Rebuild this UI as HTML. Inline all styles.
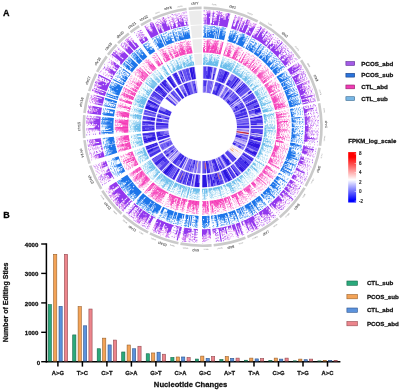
<!DOCTYPE html>
<html lang="en"><head><meta charset="utf-8"><title>Figure</title><style>html,body{margin:0;padding:0;background:#fff}svg{display:block}</style></head><body>
<svg width="400" height="391" viewBox="0 0 400 391" font-family="'Liberation Sans', Arial, sans-serif">
<rect width="400" height="391" fill="#fff"/>
<defs><filter id="bl" x="-5%" y="-5%" width="110%" height="110%"><feGaussianBlur stdDeviation=".35"/></filter></defs><g filter="url(#bl)">
<path d="M203.6 6.6A120.2 120.2 0 0 1 258.3 20.3L257.1 22.6A117.6 117.6 0 0 0 203.6 9.2ZM260.1 21.3A120.2 120.2 0 0 1 301 57.7L298.9 59.2A117.6 117.6 0 0 0 258.9 23.5ZM302.2 59.5A120.2 120.2 0 0 1 320 100.8L317.4 101.4A117.6 117.6 0 0 0 300 60.9ZM320.4 102.9A120.2 120.2 0 0 1 321.3 146L318.7 145.6A117.6 117.6 0 0 0 317.8 103.4ZM320.9 148.1A120.2 120.2 0 0 1 306.7 186.8L304.5 185.5A117.6 117.6 0 0 0 318.3 147.6ZM305.7 188.6A120.2 120.2 0 0 1 280.6 218.3L278.9 216.3A117.6 117.6 0 0 0 303.4 187.3ZM279 219.6A120.2 120.2 0 0 1 247.9 238.2L246.9 235.7A117.6 117.6 0 0 0 277.3 217.6ZM245.9 238.9A120.2 120.2 0 0 1 213.8 246.5L213.5 243.9A117.6 117.6 0 0 0 245 236.5ZM211.7 246.7A120.2 120.2 0 0 1 180.2 244.9L180.7 242.3A117.6 117.6 0 0 0 211.5 244.1ZM178.2 244.5A120.2 120.2 0 0 1 149.4 234.6L150.5 232.2A117.6 117.6 0 0 0 178.7 241.9ZM147.5 233.6A120.2 120.2 0 0 1 122.2 216.2L123.9 214.2A117.6 117.6 0 0 0 148.7 231.3ZM120.7 214.7A120.2 120.2 0 0 1 101.2 191.4L103.4 190A117.6 117.6 0 0 0 122.4 212.8ZM100.1 189.6A120.2 120.2 0 0 1 89 166.1L91.5 165.2A117.6 117.6 0 0 0 102.4 188.3ZM88.3 164.1A120.2 120.2 0 0 1 83.2 140.3L85.7 140A117.6 117.6 0 0 0 90.8 163.3ZM82.9 138.2A120.2 120.2 0 0 1 83 114.9L85.6 115.2A117.6 117.6 0 0 0 85.5 137.9ZM83.2 112.8A120.2 120.2 0 0 1 87.3 92.7L89.8 93.4A117.6 117.6 0 0 0 85.8 113.2ZM88 90.7A120.2 120.2 0 0 1 95.1 73.1L97.4 74.2A117.6 117.6 0 0 0 90.4 91.4ZM96 71.2A120.2 120.2 0 0 1 105.7 55.6L107.8 57.2A117.6 117.6 0 0 0 98.3 72.4ZM107 54A120.2 120.2 0 0 1 115.7 43.8L117.5 45.6A117.6 117.6 0 0 0 109 55.5ZM117.1 42.3A120.2 120.2 0 0 1 128.1 32.5L129.7 34.5A117.6 117.6 0 0 0 119 44.1ZM129.7 31.2A120.2 120.2 0 0 1 138.5 25.1L139.9 27.3A117.6 117.6 0 0 0 131.3 33.3ZM140.3 24A120.2 120.2 0 0 1 150.5 18.5L151.6 20.8A117.6 117.6 0 0 0 141.6 26.2ZM152.4 17.6A120.2 120.2 0 0 1 186.4 7.7L186.8 10.3A117.6 117.6 0 0 0 153.5 20ZM188.5 7.4A120.2 120.2 0 0 1 201.6 6.6L201.6 9.2A117.6 117.6 0 0 0 188.8 10Z" fill="#cacaca"/>
<path d="M203.6 10.4A116.4 116.4 0 0 1 230.2 13.7L226.9 27.3A102.4 102.4 0 0 0 203.5 24.4ZM235 15A116.4 116.4 0 0 1 256.5 23.6L250 36A102.4 102.4 0 0 0 231.1 28.4Z" fill="#cf74ee" opacity="0.07"/>
<path d="M258.3 24.6A116.4 116.4 0 0 1 274.9 35.6L266.2 46.5A102.4 102.4 0 0 0 251.6 36.9ZM275.9 36.4A116.4 116.4 0 0 1 297.9 59.9L286.4 68A102.4 102.4 0 0 0 267.1 47.3Z" fill="#cf74ee" opacity="0.04"/>
<path d="M299 61.6A116.4 116.4 0 0 1 308.8 79.1L296 84.8A102.4 102.4 0 0 0 287.4 69.4ZM309 79.7A116.4 116.4 0 0 1 316.2 101.6L302.6 104.7A102.4 102.4 0 0 0 296.2 85.4Z" fill="#cf74ee" opacity="0.04"/>
<path d="M316.7 103.6A116.4 116.4 0 0 1 318.3 114.4L304.4 115.9A102.4 102.4 0 0 0 302.9 106.4ZM318.4 115A116.4 116.4 0 0 1 317.5 145.4L303.7 143.2A102.4 102.4 0 0 0 304.5 116.4Z" fill="#cf74ee" opacity="0.03"/>
<path d="M317.2 147.4A116.4 116.4 0 0 1 314.9 157.4L301.4 153.8A102.4 102.4 0 0 0 303.4 144.9ZM314.7 158.2A116.4 116.4 0 0 1 303.4 184.9L291.3 177.9A102.4 102.4 0 0 0 301.2 154.4Z" fill="#cf74ee" opacity="0.03"/>
<path d="M302.4 186.7A116.4 116.4 0 0 1 295.2 197.4L284 188.9A102.4 102.4 0 0 0 290.4 179.5ZM294.7 198A116.4 116.4 0 0 1 278.1 215.4L269 204.7A102.4 102.4 0 0 0 283.6 189.4Z" fill="#cf74ee" opacity="0.04"/>
<path d="M276.6 216.7A116.4 116.4 0 0 1 266.2 224.3L258.6 212.5A102.4 102.4 0 0 0 267.7 205.9ZM265.4 224.8A116.4 116.4 0 0 1 246.4 234.6L241.2 221.7A102.4 102.4 0 0 0 257.9 213Z" fill="#cf74ee" opacity="0.04"/>
<path d="M244.5 235.4A116.4 116.4 0 0 1 235.3 238.5L231.4 225.1A102.4 102.4 0 0 0 239.5 222.3ZM234.8 238.7A116.4 116.4 0 0 1 213.4 242.7L212.1 228.8A102.4 102.4 0 0 0 230.9 225.2Z" fill="#cf74ee" opacity="0.04"/>
<path d="M211.4 242.9A116.4 116.4 0 0 1 201.9 243.2L202 229.2A102.4 102.4 0 0 0 210.3 228.9ZM197.3 243.1A116.4 116.4 0 0 1 180.9 241.2L183.5 227.4A102.4 102.4 0 0 0 197.9 229.1Z" fill="#cf74ee" opacity="0.05"/>
<path d="M178.9 240.8A116.4 116.4 0 0 1 170.5 238.7L174.3 225.2A102.4 102.4 0 0 0 181.8 227.1ZM169.8 238.5A116.4 116.4 0 0 1 151.1 231.2L157.3 218.6A102.4 102.4 0 0 0 173.8 225.1Z" fill="#cf74ee" opacity="0.05"/>
<path d="M149.2 230.3A116.4 116.4 0 0 1 139.5 224.6L147.1 212.8A102.4 102.4 0 0 0 155.7 217.8ZM138.8 224.1A116.4 116.4 0 0 1 124.7 213.3L134.1 202.9A102.4 102.4 0 0 0 146.4 212.4Z" fill="#cf74ee" opacity="0.06"/>
<path d="M123.2 212A116.4 116.4 0 0 1 117.8 206.5L128 197A102.4 102.4 0 0 0 132.8 201.7ZM117.4 206.1A116.4 116.4 0 0 1 104.5 189.4L116.3 181.8A102.4 102.4 0 0 0 127.6 196.6Z" fill="#cf74ee" opacity="0.06"/>
<path d="M102.2 185.8A116.4 116.4 0 0 1 92.6 164.8L105.8 160.3A102.4 102.4 0 0 0 114.3 178.7Z" fill="#cf74ee" opacity="0.03"/>
<path d="M91.3 160.8A116.4 116.4 0 0 1 86.9 139.8L100.8 138.3A102.4 102.4 0 0 0 104.7 156.7Z" fill="#cf74ee" opacity="0.06"/>
<path d="M86.5 135.4A116.4 116.4 0 0 1 86.8 115.3L100.7 116.7A102.4 102.4 0 0 0 100.5 134.4Z" fill="#cf74ee" opacity="0.06"/>
<path d="M87 113.3A116.4 116.4 0 0 1 88.2 105.4L101.9 108A102.4 102.4 0 0 0 100.9 114.9ZM88.6 103.1A116.4 116.4 0 0 1 91 93.8L104.4 97.7A102.4 102.4 0 0 0 102.3 106Z" fill="#cf74ee" opacity="0.06"/>
<path d="M91.6 91.8A116.4 116.4 0 0 1 93.2 87.1L106.4 91.8A102.4 102.4 0 0 0 104.9 96ZM93.6 86.1A116.4 116.4 0 0 1 98.5 74.8L111 81A102.4 102.4 0 0 0 106.7 91Z" fill="#cf74ee" opacity="0.07"/>
<path d="M99.4 73A116.4 116.4 0 0 1 101 70L113.2 76.8A102.4 102.4 0 0 0 111.8 79.4ZM101.6 68.9A116.4 116.4 0 0 1 108.8 57.9L120.1 66.2A102.4 102.4 0 0 0 113.8 75.9Z" fill="#cf74ee" opacity="0.04"/>
<path d="M110 56.3A116.4 116.4 0 0 1 113.4 52L124.1 61A102.4 102.4 0 0 0 121.1 64.8ZM113.8 51.5A116.4 116.4 0 0 1 118.4 46.4L128.5 56.1A102.4 102.4 0 0 0 124.5 60.6Z" fill="#cf74ee" opacity="0.07"/>
<path d="M119.8 45A116.4 116.4 0 0 1 124 40.9L133.5 51.2A102.4 102.4 0 0 0 129.8 54.8ZM124.7 40.3A116.4 116.4 0 0 1 130.4 35.5L139.1 46.5A102.4 102.4 0 0 0 134.1 50.7Z" fill="#cf74ee" opacity="0.06"/>
<path d="M133.5 33.2A116.4 116.4 0 0 1 140.5 28.3L148 40.2A102.4 102.4 0 0 0 141.8 44.4Z" fill="#cf74ee" opacity="0.04"/>
<path d="M144 26.3A116.4 116.4 0 0 1 152.1 21.9L158.2 34.5A102.4 102.4 0 0 0 151 38.3Z" fill="#cf74ee" opacity="0.06"/>
<path d="M154 21.1A116.4 116.4 0 0 1 165.9 16.3L170.3 29.6A102.4 102.4 0 0 0 159.8 33.8ZM166.7 16.1A116.4 116.4 0 0 1 187 11.5L188.8 25.3A102.4 102.4 0 0 0 171 29.4Z" fill="#cf74ee" opacity="0.05"/>
<path d="M203.5 25.2A101.6 101.6 0 0 1 226.7 28.1L223.8 40.1A89.2 89.2 0 0 0 203.4 37.6ZM230.9 29.2A101.6 101.6 0 0 1 249.6 36.8L243.9 47.7A89.2 89.2 0 0 0 227.4 41.1Z" fill="#4a9af4" opacity="0.07"/>
<path d="M251.2 37.6A101.6 101.6 0 0 1 265.7 47.2L258 56.9A89.2 89.2 0 0 0 245.3 48.5ZM266.6 47.9A101.6 101.6 0 0 1 285.8 68.4L275.6 75.6A89.2 89.2 0 0 0 258.8 57.5Z" fill="#4a9af4" opacity="0.04"/>
<path d="M286.8 69.9A101.6 101.6 0 0 1 295.3 85.1L284 90.2A89.2 89.2 0 0 0 276.5 76.8ZM295.5 85.7A101.6 101.6 0 0 1 301.8 104.8L289.7 107.5A89.2 89.2 0 0 0 284.2 90.7Z" fill="#4a9af4" opacity="0.04"/>
<path d="M302.2 106.6A101.6 101.6 0 0 1 303.6 116L291.3 117.3A89.2 89.2 0 0 0 290 109ZM303.7 116.5A101.6 101.6 0 0 1 302.9 143.1L290.7 141.1A89.2 89.2 0 0 0 291.3 117.7Z" fill="#4a9af4" opacity="0.03"/>
<path d="M302.6 144.8A101.6 101.6 0 0 1 300.6 153.5L288.7 150.3A89.2 89.2 0 0 0 290.4 142.6ZM300.4 154.2A101.6 101.6 0 0 1 290.6 177.5L279.9 171.3A89.2 89.2 0 0 0 288.5 150.9Z" fill="#4a9af4" opacity="0.03"/>
<path d="M289.7 179.1A101.6 101.6 0 0 1 283.4 188.4L273.5 180.9A89.2 89.2 0 0 0 279.1 172.7ZM283 188.9A101.6 101.6 0 0 1 268.5 204.1L260.5 194.7A89.2 89.2 0 0 0 273.2 181.4Z" fill="#4a9af4" opacity="0.04"/>
<path d="M267.2 205.2A101.6 101.6 0 0 1 258.2 211.9L251.4 201.5A89.2 89.2 0 0 0 259.3 195.7ZM257.4 212.3A101.6 101.6 0 0 1 240.9 220.9L236.2 209.4A89.2 89.2 0 0 0 250.7 201.9Z" fill="#4a9af4" opacity="0.04"/>
<path d="M239.2 221.6A101.6 101.6 0 0 1 231.2 224.3L227.7 212.4A89.2 89.2 0 0 0 234.7 210ZM230.7 224.4A101.6 101.6 0 0 1 212 228L210.9 215.6A89.2 89.2 0 0 0 227.3 212.5Z" fill="#4a9af4" opacity="0.04"/>
<path d="M210.3 228.1A101.6 101.6 0 0 1 202 228.4L202.1 216A89.2 89.2 0 0 0 209.3 215.7ZM197.9 228.3A101.6 101.6 0 0 1 183.7 226.6L186 214.4A89.2 89.2 0 0 0 198.5 215.9Z" fill="#4a9af4" opacity="0.05"/>
<path d="M182 226.3A101.6 101.6 0 0 1 174.6 224.5L178 212.5A89.2 89.2 0 0 0 184.5 214.1ZM174 224.3A101.6 101.6 0 0 1 157.6 217.9L163.1 206.8A89.2 89.2 0 0 0 177.5 212.4Z" fill="#4a9af4" opacity="0.05"/>
<path d="M156 217.1A101.6 101.6 0 0 1 147.5 212.2L154.2 201.8A89.2 89.2 0 0 0 161.7 206.1ZM146.9 211.8A101.6 101.6 0 0 1 134.6 202.3L142.9 193.1A89.2 89.2 0 0 0 153.7 201.4Z" fill="#4a9af4" opacity="0.06"/>
<path d="M133.3 201.1A101.6 101.6 0 0 1 128.6 196.4L137.6 187.9A89.2 89.2 0 0 0 141.8 192.1ZM128.2 196A101.6 101.6 0 0 1 116.9 181.4L127.4 174.8A89.2 89.2 0 0 0 137.3 187.6Z" fill="#4a9af4" opacity="0.06"/>
<path d="M115 178.3A101.6 101.6 0 0 1 106.6 160L118.3 156A89.2 89.2 0 0 0 125.7 172Z" fill="#4a9af4" opacity="0.03"/>
<path d="M105.4 156.5A101.6 101.6 0 0 1 101.6 138.2L114 136.8A89.2 89.2 0 0 0 117.3 152.9Z" fill="#4a9af4" opacity="0.06"/>
<path d="M101.3 134.3A101.6 101.6 0 0 1 101.5 116.8L113.8 118A89.2 89.2 0 0 0 113.6 133.4Z" fill="#4a9af4" opacity="0.06"/>
<path d="M101.7 115A101.6 101.6 0 0 1 102.7 108.1L114.9 110.4A89.2 89.2 0 0 0 114 116.4ZM103.1 106.2A101.6 101.6 0 0 1 105.2 98L117.1 101.5A89.2 89.2 0 0 0 115.3 108.7Z" fill="#4a9af4" opacity="0.06"/>
<path d="M105.7 96.3A101.6 101.6 0 0 1 107.1 92.1L118.8 96.3A89.2 89.2 0 0 0 117.5 100ZM107.4 91.2A101.6 101.6 0 0 1 111.7 81.4L122.8 86.9A89.2 89.2 0 0 0 119 95.6Z" fill="#4a9af4" opacity="0.07"/>
<path d="M112.5 79.8A101.6 101.6 0 0 1 113.9 77.2L124.8 83.2A89.2 89.2 0 0 0 123.5 85.5ZM114.5 76.3A101.6 101.6 0 0 1 120.7 66.7L130.7 74A89.2 89.2 0 0 0 125.2 82.4Z" fill="#4a9af4" opacity="0.04"/>
<path d="M121.8 65.2A101.6 101.6 0 0 1 124.7 61.5L134.2 69.5A89.2 89.2 0 0 0 131.6 72.7ZM125.1 61.1A101.6 101.6 0 0 1 129.1 56.6L138.1 65.2A89.2 89.2 0 0 0 134.6 69.1Z" fill="#4a9af4" opacity="0.07"/>
<path d="M130.4 55.4A101.6 101.6 0 0 1 134 51.8L142.4 61A89.2 89.2 0 0 0 139.2 64.1ZM134.6 51.3A101.6 101.6 0 0 1 139.6 47.1L147.3 56.8A89.2 89.2 0 0 0 142.9 60.5Z" fill="#4a9af4" opacity="0.06"/>
<path d="M142.2 45.1A101.6 101.6 0 0 1 148.4 40.9L155 51.3A89.2 89.2 0 0 0 149.6 55Z" fill="#4a9af4" opacity="0.04"/>
<path d="M151.4 39A101.6 101.6 0 0 1 158.5 35.3L163.9 46.4A89.2 89.2 0 0 0 157.7 49.7Z" fill="#4a9af4" opacity="0.06"/>
<path d="M160.1 34.5A101.6 101.6 0 0 1 170.5 30.4L174.5 42.2A89.2 89.2 0 0 0 165.3 45.8ZM171.3 30.1A101.6 101.6 0 0 1 188.9 26.1L190.6 38.4A89.2 89.2 0 0 0 175.1 41.9Z" fill="#4a9af4" opacity="0.05"/>
<path d="M203.4 39A87.8 87.8 0 0 1 223.4 41.5L220.2 54.5A74.4 74.4 0 0 0 203.2 52.4ZM227 42.5A87.8 87.8 0 0 1 243.3 49L237.1 60.9A74.4 74.4 0 0 0 223.3 55.3Z" fill="#f764ca" opacity="0.07"/>
<path d="M244.6 49.7A87.8 87.8 0 0 1 257.1 58L248.8 68.5A74.4 74.4 0 0 0 238.2 61.5ZM257.9 58.6A87.8 87.8 0 0 1 274.5 76.4L263.5 84.1A74.4 74.4 0 0 0 249.5 69Z" fill="#f764ca" opacity="0.04"/>
<path d="M275.3 77.6A87.8 87.8 0 0 1 282.7 90.8L270.5 96.3A74.4 74.4 0 0 0 264.2 85.1ZM282.9 91.3A87.8 87.8 0 0 1 288.3 107.8L275.2 110.7A74.4 74.4 0 0 0 270.6 96.7Z" fill="#f764ca" opacity="0.04"/>
<path d="M288.6 109.3A87.8 87.8 0 0 1 289.9 117.5L276.6 118.9A74.4 74.4 0 0 0 275.5 112ZM289.9 117.9A87.8 87.8 0 0 1 289.3 140.8L276 138.7A74.4 74.4 0 0 0 276.6 119.2Z" fill="#f764ca" opacity="0.03"/>
<path d="M289 142.4A87.8 87.8 0 0 1 287.3 149.9L274.4 146.4A74.4 74.4 0 0 0 275.8 140ZM287.1 150.5A87.8 87.8 0 0 1 278.7 170.6L267.1 164A74.4 74.4 0 0 0 274.2 146.9Z" fill="#f764ca" opacity="0.03"/>
<path d="M277.9 172A87.8 87.8 0 0 1 272.4 180L261.8 171.9A74.4 74.4 0 0 0 266.4 165.1ZM272.1 180.5A87.8 87.8 0 0 1 259.6 193.6L250.9 183.4A74.4 74.4 0 0 0 261.5 172.3Z" fill="#f764ca" opacity="0.04"/>
<path d="M258.4 194.6A87.8 87.8 0 0 1 250.6 200.3L243.3 189.1A74.4 74.4 0 0 0 249.9 184.2ZM250 200.7A87.8 87.8 0 0 1 235.7 208.1L230.6 195.7A74.4 74.4 0 0 0 242.7 189.4Z" fill="#f764ca" opacity="0.04"/>
<path d="M234.2 208.7A87.8 87.8 0 0 1 227.3 211.1L223.5 198.2A74.4 74.4 0 0 0 229.4 196.2ZM226.9 211.2A87.8 87.8 0 0 1 210.8 214.2L209.5 200.9A74.4 74.4 0 0 0 223.2 198.3Z" fill="#f764ca" opacity="0.04"/>
<path d="M209.2 214.3A87.8 87.8 0 0 1 202.1 214.6L202.1 201.2A74.4 74.4 0 0 0 208.2 201ZM198.6 214.5A87.8 87.8 0 0 1 186.3 213.1L188.8 199.9A74.4 74.4 0 0 0 199.2 201.1Z" fill="#f764ca" opacity="0.05"/>
<path d="M184.8 212.8A87.8 87.8 0 0 1 178.4 211.2L182.1 198.3A74.4 74.4 0 0 0 187.5 199.6ZM177.9 211A87.8 87.8 0 0 1 163.7 205.5L169.7 193.5A74.4 74.4 0 0 0 181.7 198.2Z" fill="#f764ca" opacity="0.05"/>
<path d="M162.4 204.8A87.8 87.8 0 0 1 155 200.6L162.3 189.3A74.4 74.4 0 0 0 168.5 192.9ZM154.4 200.2A87.8 87.8 0 0 1 143.9 192.1L152.8 182.1A74.4 74.4 0 0 0 161.8 189Z" fill="#f764ca" opacity="0.06"/>
<path d="M142.7 191A87.8 87.8 0 0 1 138.6 187L148.4 177.8A74.4 74.4 0 0 0 151.9 181.2ZM138.3 186.6A87.8 87.8 0 0 1 128.6 174L139.9 166.8A74.4 74.4 0 0 0 148.1 177.5Z" fill="#f764ca" opacity="0.06"/>
<path d="M126.9 171.3A87.8 87.8 0 0 1 119.6 155.5L132.3 151.1A74.4 74.4 0 0 0 138.4 164.5Z" fill="#f764ca" opacity="0.03"/>
<path d="M118.6 152.5A87.8 87.8 0 0 1 115.4 136.6L128.7 135.1A74.4 74.4 0 0 0 131.4 148.5Z" fill="#f764ca" opacity="0.06"/>
<path d="M115 133.3A87.8 87.8 0 0 1 115.2 118.1L128.6 119.5A74.4 74.4 0 0 0 128.4 132.3Z" fill="#f764ca" opacity="0.06"/>
<path d="M115.4 116.6A87.8 87.8 0 0 1 116.3 110.7L129.5 113.1A74.4 74.4 0 0 0 128.7 118.2ZM116.6 109A87.8 87.8 0 0 1 118.4 101.9L131.3 105.7A74.4 74.4 0 0 0 129.8 111.7Z" fill="#f764ca" opacity="0.06"/>
<path d="M118.9 100.4A87.8 87.8 0 0 1 120.1 96.8L132.7 101.4A74.4 74.4 0 0 0 131.6 104.4ZM120.4 96.1A87.8 87.8 0 0 1 124.1 87.6L136 93.5A74.4 74.4 0 0 0 132.9 100.8Z" fill="#f764ca" opacity="0.07"/>
<path d="M124.8 86.2A87.8 87.8 0 0 1 126 83.9L137.7 90.5A74.4 74.4 0 0 0 136.6 92.4ZM126.4 83.1A87.8 87.8 0 0 1 131.8 74.8L142.6 82.8A74.4 74.4 0 0 0 138.1 89.8Z" fill="#f764ca" opacity="0.04"/>
<path d="M132.8 73.6A87.8 87.8 0 0 1 135.3 70.4L145.6 79A74.4 74.4 0 0 0 143.4 81.7ZM135.6 70A87.8 87.8 0 0 1 139.1 66.2L148.8 75.4A74.4 74.4 0 0 0 145.8 78.7Z" fill="#f764ca" opacity="0.07"/>
<path d="M140.2 65.1A87.8 87.8 0 0 1 143.3 62L152.4 71.9A74.4 74.4 0 0 0 149.7 74.5ZM143.8 61.6A87.8 87.8 0 0 1 148.2 57.9L156.5 68.4A74.4 74.4 0 0 0 152.8 71.5Z" fill="#f764ca" opacity="0.06"/>
<path d="M150.4 56.2A87.8 87.8 0 0 1 155.8 52.5L162.9 63.9A74.4 74.4 0 0 0 158.4 66.9Z" fill="#f764ca" opacity="0.04"/>
<path d="M158.4 51A87.8 87.8 0 0 1 164.5 47.7L170.3 59.8A74.4 74.4 0 0 0 165.1 62.5Z" fill="#f764ca" opacity="0.06"/>
<path d="M165.9 47A87.8 87.8 0 0 1 174.9 43.5L179.1 56.2A74.4 74.4 0 0 0 171.5 59.2ZM175.5 43.3A87.8 87.8 0 0 1 190.8 39.8L192.6 53.1A74.4 74.4 0 0 0 179.7 56Z" fill="#f764ca" opacity="0.05"/>
<path d="M203.2 53.6A73.2 73.2 0 0 1 220 55.7L217.3 66.6A62 62 0 0 0 203.1 64.8ZM223 56.5A73.2 73.2 0 0 1 236.5 61.9L231.3 71.8A62 62 0 0 0 219.9 67.3Z" fill="#88ccef" opacity="0.07"/>
<path d="M237.6 62.5A73.2 73.2 0 0 1 248 69.4L241.1 78.2A62 62 0 0 0 232.3 72.4ZM248.7 69.9A73.2 73.2 0 0 1 262.5 84.7L253.3 91.2A62 62 0 0 0 241.6 78.6Z" fill="#88ccef" opacity="0.04"/>
<path d="M263.2 85.8A73.2 73.2 0 0 1 269.4 96.8L259.1 101.4A62 62 0 0 0 254 92.1ZM269.5 97.2A73.2 73.2 0 0 1 274.1 111L263.1 113.4A62 62 0 0 0 259.3 101.7Z" fill="#88ccef" opacity="0.04"/>
<path d="M274.3 112.2A73.2 73.2 0 0 1 275.4 119L264.2 120.2A62 62 0 0 0 263.4 114.5ZM275.4 119.4A73.2 73.2 0 0 1 274.9 138.5L263.8 136.7A62 62 0 0 0 264.3 120.5Z" fill="#88ccef" opacity="0.03"/>
<path d="M274.6 139.8A73.2 73.2 0 0 1 273.2 146.1L262.4 143.1A62 62 0 0 0 263.6 137.8ZM273.1 146.5A73.2 73.2 0 0 1 266 163.4L256.3 157.8A62 62 0 0 0 262.3 143.5Z" fill="#88ccef" opacity="0.03"/>
<path d="M265.4 164.5A73.2 73.2 0 0 1 260.8 171.2L251.9 164.4A62 62 0 0 0 255.8 158.7ZM260.5 171.6A73.2 73.2 0 0 1 250.1 182.5L242.8 174A62 62 0 0 0 251.7 164.7Z" fill="#88ccef" opacity="0.04"/>
<path d="M249.1 183.3A73.2 73.2 0 0 1 242.6 188.1L236.5 178.7A62 62 0 0 0 242 174.7ZM242.1 188.4A73.2 73.2 0 0 1 230.2 194.6L225.9 184.2A62 62 0 0 0 236.1 179Z" fill="#88ccef" opacity="0.04"/>
<path d="M229 195.1A73.2 73.2 0 0 1 223.2 197L220 186.3A62 62 0 0 0 224.9 184.6ZM222.9 197.1A73.2 73.2 0 0 1 209.4 199.7L208.4 188.5A62 62 0 0 0 219.8 186.4Z" fill="#88ccef" opacity="0.04"/>
<path d="M208.1 199.8A73.2 73.2 0 0 1 202.2 200L202.2 188.8A62 62 0 0 0 207.3 188.6ZM199.2 199.9A73.2 73.2 0 0 1 189 198.7L191.1 187.7A62 62 0 0 0 199.8 188.7Z" fill="#88ccef" opacity="0.05"/>
<path d="M187.7 198.5A73.2 73.2 0 0 1 182.4 197.2L185.5 186.4A62 62 0 0 0 190 187.5ZM182 197A73.2 73.2 0 0 1 170.2 192.4L175.1 182.4A62 62 0 0 0 185.1 186.3Z" fill="#88ccef" opacity="0.05"/>
<path d="M169 191.9A73.2 73.2 0 0 1 162.9 188.3L169 178.9A62 62 0 0 0 174.2 181.9ZM162.4 188A73.2 73.2 0 0 1 153.6 181.2L161.1 172.9A62 62 0 0 0 168.6 178.6Z" fill="#88ccef" opacity="0.06"/>
<path d="M152.7 180.4A73.2 73.2 0 0 1 149.3 177L157.4 169.3A62 62 0 0 0 160.3 172.2ZM149 176.7A73.2 73.2 0 0 1 140.9 166.2L150.3 160.1A62 62 0 0 0 157.2 169Z" fill="#88ccef" opacity="0.06"/>
<path d="M139.5 163.9A73.2 73.2 0 0 1 133.4 150.7L144 147.1A62 62 0 0 0 149.1 158.2Z" fill="#88ccef" opacity="0.03"/>
<path d="M132.6 148.2A73.2 73.2 0 0 1 129.9 135L141 133.7A62 62 0 0 0 143.3 144.9Z" fill="#88ccef" opacity="0.06"/>
<path d="M129.6 132.2A73.2 73.2 0 0 1 129.8 119.6L140.9 120.7A62 62 0 0 0 140.8 131.4Z" fill="#88ccef" opacity="0.06"/>
<path d="M129.9 118.3A73.2 73.2 0 0 1 130.6 113.4L141.7 115.4A62 62 0 0 0 141 119.6ZM130.9 111.9A73.2 73.2 0 0 1 132.4 106L143.2 109.2A62 62 0 0 0 141.9 114.2Z" fill="#88ccef" opacity="0.06"/>
<path d="M132.8 104.8A73.2 73.2 0 0 1 133.8 101.8L144.3 105.6A62 62 0 0 0 143.5 108.2ZM134 101.2A73.2 73.2 0 0 1 137.1 94.1L147.1 99.1A62 62 0 0 0 144.5 105.1Z" fill="#88ccef" opacity="0.07"/>
<path d="M137.7 92.9A73.2 73.2 0 0 1 138.7 91.1L148.5 96.5A62 62 0 0 0 147.6 98.1ZM139.1 90.4A73.2 73.2 0 0 1 143.6 83.5L152.6 90.1A62 62 0 0 0 148.8 96Z" fill="#88ccef" opacity="0.04"/>
<path d="M144.4 82.4A73.2 73.2 0 0 1 146.5 79.8L155.1 87A62 62 0 0 0 153.3 89.2ZM146.8 79.5A73.2 73.2 0 0 1 149.7 76.3L157.8 84A62 62 0 0 0 155.3 86.7Z" fill="#88ccef" opacity="0.07"/>
<path d="M150.5 75.3A73.2 73.2 0 0 1 153.2 72.8L160.8 81.1A62 62 0 0 0 158.5 83.2ZM153.6 72.4A73.2 73.2 0 0 1 157.2 69.4L164.2 78.2A62 62 0 0 0 161.1 80.7Z" fill="#88ccef" opacity="0.06"/>
<path d="M159.1 67.9A73.2 73.2 0 0 1 163.6 64.9L169.5 74.4A62 62 0 0 0 165.8 76.9Z" fill="#88ccef" opacity="0.04"/>
<path d="M165.7 63.6A73.2 73.2 0 0 1 170.9 60.8L175.7 70.9A62 62 0 0 0 171.4 73.2Z" fill="#88ccef" opacity="0.06"/>
<path d="M172 60.3A73.2 73.2 0 0 1 179.5 57.3L183 68A62 62 0 0 0 176.7 70.5ZM180 57.2A73.2 73.2 0 0 1 192.8 54.3L194.3 65.4A62 62 0 0 0 183.5 67.8Z" fill="#88ccef" opacity="0.05"/>
<path d="M189 11.2A116.4 116.4 0 0 1 201.6 10.4L201.7 24.4A102.4 102.4 0 0 0 190.6 25.1ZM190.7 25.9A101.6 101.6 0 0 1 201.7 25.2L201.8 37.6A89.2 89.2 0 0 0 192.2 38.2ZM192.3 39.6A87.8 87.8 0 0 1 201.8 39L202 52.4A74.4 74.4 0 0 0 193.9 52.9ZM194 54.1A73.2 73.2 0 0 1 202 53.6L202.1 64.8A62 62 0 0 0 195.3 65.2Z" fill="#ececec"/>
<path d="M205.2 19.9L205.3 14.8M207.6 13.2L207.7 11.8M215.9 21L216.5 16.4M217.8 15.1L218.3 11.5M223.1 17.8L223.5 15.9M223.9 19.7L224.6 16M227 15.9L227.6 13.1M228.7 18.3L229.9 13.6M234.1 20.2L235.6 15.2M238.7 20.4L240.1 16.6M240.1 23.5L242.3 17.4M241.5 25.9L243.3 21.2M244.3 21.9L244.5 21.4M247 24.3L248.8 20M247.9 25L249.9 20.5M251.5 27.8L252.4 26.1M253.1 27.3L254.9 23.7M253.8 34L254.2 33.2M261.3 27.6L261.7 27M263.3 31L264.9 28.5M266.9 31.8L267.5 30.9M262.7 39.9L263.3 39M265.2 40.1L265.9 39.2M266.5 40.2L270.3 35M271.9 43.9L273.2 42.4M274.9 45.5L275.6 44.6M277.3 50.9L279.7 48.4M280.8 50.5L282.8 48.5M281.1 51.8L282.3 50.6M281.7 57.1L283.7 55.3M284.1 56.4L286.4 54.4M286.3 61.6L290.5 58.3M288.2 61.5L291.2 59.2M292.7 66.5L295.6 64.6M292.5 68L293.7 67.2M294.9 67.8L300 64.5M299.1 66.4L301.3 65.1M298.9 69.2L301 68M298.9 74.4L299.7 73.9M298.3 76L299.2 75.5M297 77.9L298.9 76.9M297.6 78.8L298.6 78.3M299.1 80.4L300.6 79.7M300.2 82.3L304.2 80.5M304.2 83L309.5 80.7M303 89.4L306.1 88.2M304.7 89.9L305.7 89.6M305.4 90.8L306.1 90.6M305.7 93.1L306.7 92.8M307.9 100.4L309.1 100.1M307.6 110.4L310.3 110M307.4 111.5L308.4 111.4M307.1 116.9L309.3 116.7M309.1 117.8L311.2 117.6M308.5 121.1L310.2 121M307.2 125.4L308.2 125.4M308.6 127.5L311.7 127.6M306.8 131.8L308.6 131.8M307.2 136L309.6 136.2M308.6 137.2L309.9 137.4M315.1 139L317.2 139.3M307 139.2L308.2 139.4M306.4 141.3L307.6 141.4M304.9 149L306.3 149.3M304.3 149.9L307.2 150.6M306.6 151.6L309.3 152.2M299.6 165L301 165.6M299 169.4L300.3 170M292.7 184L296.6 186.5M291.2 186.9L293 188.1M288.8 190.5L290.1 191.5M287 193.3L288.5 194.4M284.9 194.3L287.1 196.1M278.3 201.4L280.5 203.5M275.8 206.6L276.3 207.2M275.5 208L277.2 209.9M271.5 206.7L272.6 208M268.5 209.4L269.1 210.1M268.6 211.3L270.5 213.6M270.3 215.2L272 217.5M265.4 214.3L267 216.5M263.9 214L264.8 215.3M262.1 213.3L262.8 214.3M262 215.1L262.7 216.1M254.4 219.1L254.8 219.8M253.8 220.1L254.7 221.9M256.8 228.1L257.5 229.4M253.5 229.3L254.4 231.1M248.9 222.5L250.7 226.1M247.1 223.6L247.7 225M240.2 225.6L240.4 226.2M239.1 232.1L239.6 233.6M234.7 229.5L236.1 233.9M233.7 229.9L234.3 232M226.7 233.6L226.8 234.2M223.9 231L224.3 232.9M221.9 231.8L222.4 234.8M215.3 231.4L215.8 236M214.3 232.3L214.4 232.9M213.1 231.2L213.4 233.8M205.8 234.6L206 238.8M202.6 237.4L202.6 239.7M194.9 235L194.5 240.1M190.7 232.8L190.3 236.6M185.7 236.9L185 241.9M185 234.5L183.8 241.4M179.9 233.3L179 237.7M176.4 233.9L176.3 234.4M170.1 231.6L169.8 232.5M167.5 228.9L166.5 231.8M166.6 228.2L165 232.7M164.7 226.9L164.2 228.3M161.2 229.9L159.6 233.9M157.8 226.5L157.1 228.1M156.2 224.8L154.3 228.8M155.6 223.4L154 226.8M145.9 221L144.2 223.7M146.8 217.5L144.4 221.2M145.9 216.8L143.7 220.3M144.4 217.1L141.9 221.1M140.8 220.6L138.6 224M141.4 217.7L137.8 223.1M138.9 219.3L136.6 222.7M139.2 216.9L136.6 220.7M129 213.5L128.4 214.2M124.9 201.4L121 205.1M119.2 202.2L116.9 204.2M117.4 202.2L115.4 203.9M118.8 193.7L113.3 198.1M114 194.6L110.2 197.6M114.5 191.5L111.3 193.8M110.2 187.7L108.2 189M109.8 186.6L109.2 187M109.3 177.1L107.1 178.3M105.4 174.2L103.5 175.1M106.5 171.3L106 171.6M104.3 161.9L101.8 162.8M98.9 155.5L93.4 157M93 145.5L92.3 145.6M94.3 144.1L87.7 145.2M96.1 141.6L90.3 142.4M94.4 139.6L89.8 140.2M94.8 127.7L93.7 127.8M95.4 126.7L94.9 126.7M96.4 124.5L94.7 124.5M92.8 118.9L87.1 118.4M89.3 113L87.1 112.7M92.9 112.3L87.2 111.5M96.4 111.7L92.2 111.1M96.4 103.9L93.7 103.3M96.9 101.7L93.8 101M96.8 100.6L92 99.4M98.1 99.8L92.1 98.2M97 96.1L93.2 95M97.7 93.1L94.4 92.1M94.8 91L92.1 90.1M101 90.8L94.8 88.6M98.1 87.4L96.3 86.7M100.1 86.9L94.1 84.6M98.6 82.6L95.5 81.3M110.3 70.6L108 69.2M110.1 69.2L107.3 67.5M114.3 68L112.4 66.8M113.9 62.5L112.4 61.4M115.5 55.4L112.6 53M119.8 54.7L114.8 50.3M120.1 53.4L119.3 52.7M122 53.6L121 52.7M122.9 53L122 52.1M122.9 51.5L122.5 51.1M125.8 50.1L120.7 45M127.8 49L127.2 48.4M128 40.9L126.3 38.9M132.9 41.4L131.5 39.7M141.8 39L138.5 34.3M144.2 36.7L142.1 33.5M146.4 28.7L144.8 25.8M148.3 29.7L146.9 27.1M152.2 32.3L151.5 31M152.9 26.2L151 22.5M159.7 27L158.2 23.5M167.7 26.4L167.4 25.8M170.8 25.8L169.9 22.9M177.8 22.6L177.6 21.9M178.1 19.1L177.7 17.3M179.9 22L179.6 20.9M182.1 21.8L180.7 15" stroke="#cf74ee" stroke-width="1.2" stroke-dasharray="1.6 .4 1.2 .5 2 .4 .9 .6" fill="none"/>
<path d="M208.8 13.4L208.9 10.6M209.9 13L210.1 10.6M213.4 12.8L213.6 10.9M214.8 21.1L215.2 17.8M219.1 14.4L219.5 11.6M221.3 15.1L221.8 12M222 17.8L222.5 15M237.4 21L238.2 18.4M254.6 26.7L256.3 23.5M254.2 35.4L255 34.1M256.5 33.5L257 32.7M261.2 32.1L263 29.2M264.7 38.9L265.1 38.4M269.9 41.1L272.7 37.6M274.8 47.2L277.2 44.6M274.8 48.8L277.5 45.9M282.1 42.7L282.5 42.2M276 50.7L278 48.6M288.6 56.9L290.6 55.3M287.5 59.3L292.2 55.5M287.3 63.5L290 61.5M298.8 79.4L301.1 78.3M302.4 85L307.3 82.9M302.6 86L304.1 85.4M301.9 87.5L305.3 86.1M301.2 88.9L303.1 88.2M304.9 95.6L307.9 94.7M312.4 95.7L314.6 95.1M306.3 99.7L308.2 99.2M309 102.4L312.6 101.6M306.5 114.8L307.9 114.7M309 118.9L309.7 118.9M308.3 120L310.1 119.9M307.9 122.2L308.8 122.2M307.8 123.3L308.6 123.2M307 124.4L308.2 124.3M307.8 128.6L308.9 128.6M308.5 129.7L310.4 129.7M308.3 130.8L309.7 130.8M306.5 132.8L307 132.8M307.7 133.9L309.7 134.1M307.2 140.3L308.2 140.4M306.8 147.2L307.7 147.4M305.8 153.6L309.6 154.6M303.2 157.3L304.1 157.6M304.4 159.9L306.2 160.5M304.3 162.2L305.3 162.5M302.2 162.6L302.9 162.9M302.7 163.9L305.3 164.9M295.9 176.2L297 176.7M295.2 178.2L296.5 179M294.8 179.2L297.2 180.6M292.5 181.3L294.9 182.8M288.8 186.6L290.9 188M287.6 188.3L289.4 189.6M288.6 191.7L289.9 192.7M283.2 195.7L285.4 197.6M283 196.9L283.5 197.4M281 201L282.4 202.3M279.7 201.3L281.8 203.3M277.2 201.9L277.9 202.5M276.8 203L277.9 204.1M276.1 205.4L278.5 207.9M268.9 208.1L270.7 210.3M267.7 215.5L269.8 218.4M261.9 216.8L262.7 218.1M254.5 226.2L256.3 229.7M251.4 222.6L252.3 224.4M248.2 223.6L248.7 224.5M242.3 234.3L242.6 235.3M238 225.8L238.9 228.4M237.7 235.2L238.4 237.5M230.9 227.9L231.4 230M229 229.1L229.4 230.6M220.6 230.8L220.8 231.8M210.3 235.1L210.5 238.5M209.1 234.3L209.3 237.8M206.9 232.7L206.9 233.9M203.7 234.5L203.7 241.1M188.6 232.4L187.9 237.3M187.4 233L186.7 238.1M183.7 235.3L182.8 240.7M168.6 232.5L167.2 237M167.3 233L165.9 237.2M165.2 228.7L165 229.5M160.1 229.6L158.4 233.8M160.2 226.5L157.9 231.8M155 230L153.8 232.5M149.8 223.2L148.4 225.6M148.6 222.9L148.4 223.4M136.7 216.6L136.2 217.3M139 211.6L136.2 215.3M135.9 212.1L134.2 214.3M123.9 208.8L122 210.7M125 204.4L121.8 207.6M124.1 203.7L121.6 206.1M119.3 203.5L117 205.7M117.5 200.6L116.2 201.7M115.3 199.5L113.1 201.3M119.1 194.9L117.5 196.1M117.9 193.1L116.8 193.9M112.7 194.2L109.5 196.6M112.4 188.9L110.8 190M110 189.2L109.1 189.8M109.8 178L107.5 179.3M107.5 176.8L105.2 178.1M106.2 175.1L104.1 176.1M102.9 167L100.4 168M104.4 165.2L101.4 166.4M102.5 164.8L100.8 165.5M103.7 163.2L102.3 163.7M99 157.7L97.8 158.1M98.5 156.7L94.9 157.8M94.5 140.7L90.4 141.3M89 128.9L86.2 129M96.3 125.6L93.2 125.5M91 123.3L86.3 123.1M89.4 122.1L86.3 121.9M93.7 121.1L92.6 121.1M95.4 120.1L93.2 120M97.4 110.7L92.1 109.9M96.3 109.4L93.8 109M92.8 107.7L87.9 106.9M92.9 106.6L91.1 106.3M97.6 98.5L93.9 97.5M101.4 86.2L100.7 85.9M96.4 83L95 82.4M100.3 82.1L98.6 81.4M101.7 81.6L97.2 79.5M111.2 73.7L108.4 72M109.4 71.4L105.4 69M114.5 65.6L111.9 63.8M113.8 63.8L110.7 61.5M127.8 47.4L126.2 45.7M128.7 46.7L124.6 42.3M128.7 43.5L126.6 41.1M129.7 41.1L127.2 38.2M139.9 40.1L139.2 39.2M140.7 39.4L140.3 38.7M145.8 37.2L145.4 36.6M150.7 31.8L150.2 30.7M152.5 30.3L150.5 26.5M152.7 23.3L152.4 22.6M158 28.6L155.4 22.9M158.9 27.8L157.3 24.3M162.1 24L160.1 19.1M162.6 22.3L162.4 21.7M164.2 23.3L162.1 17.7M164.4 20.4L163.2 17.3M168.6 25.7L167.9 23.7M173.1 21.8L171.7 16.8M174.4 22.6L174.2 21.7M181 22.2L180.5 19.5" stroke="#cf74ee" stroke-width="1.2" stroke-dasharray="1.1 .5 1.8 .4 .9 .6 1.5 .4" fill="none"/>
<path d="M207.7 11.6L207.7 10.5M212 15.8L212.4 10.8M235.5 19.3L236.7 15.5M238.7 17.1L238.9 16.2M253.5 23.9L254.2 22.5M254.8 32.2L258.8 24.9M256.2 32L259.8 25.4M263 33.6L265.9 29.1M264.6 37.1L268.8 31.1M274.3 42.7L278.2 38.3M279.8 43.4L281.7 41.4M280.7 55.1L288.3 48.1M283.2 58.6L291.4 51.6M292.2 59.8L295.8 57.1M296.4 65.5L300 63.1M296.8 69.2L301.9 66.1M301.3 67.8L302.5 67.1M293.2 73.9L303.1 68.1M297 74.2L304.3 70.1M300.7 74.7L305.4 72.2M306.7 84.4L310.4 82.9M303.4 88.1L311.3 85.1M307.6 90.1L312.5 88.4M306.2 94.1L313.6 91.7M310 98.8L315.2 97.4M309.7 100L315.5 98.5M313.3 101.5L316.1 100.8M308.6 108L317.2 106.5M308.2 146.4L317.1 148M307.8 149.6L316.4 151.5M307.9 165.9L311.7 167.3M301.1 165.6L310.9 169.5M302.2 167.2L310.5 170.6M298.9 167L310 171.7M296.5 170.6L308.1 176M298.2 175L306.6 179.2M297.4 175.8L306 180.2M300 178.4L305.5 181.3M293.5 187.1L299.6 191.2M289.6 188.4L297.6 194.1M289.9 189.9L296.9 195M278 210.7L280.4 213.4M270 211.2L275.2 217.8M263.1 214.7L268.6 222.7M261.6 220.4L264.6 225.3M251.1 226.9L253.3 231.6M244.3 222.7L249 233.5M240.9 227.5L244 235.6M229.5 231.3L231.7 239.5M228.1 234.7L229.4 240.1M216.1 238.5L216.6 242.4M206.9 234.6L207.3 243.1M196.8 239.6L196.7 243M196 235.3L195.5 243M186.2 241.5L186.1 242M162.3 230.1L160.3 235.3M159.4 225.6L156 233.5M153.7 230.1L152.8 232M153.8 227.1L151.7 231.5M147.7 226.9L146.6 228.9M149.2 217.5L143.6 227.1M143.3 220.9L140.6 225.3M135.1 216.9L132.8 219.9M133.7 215L130.9 218.5M134.4 212.3L130 217.8M134.9 209.9L129.1 217M106.5 179.9L100.7 183.1M105.1 179.4L100.1 182M104.5 177.2L99 180M102.3 177L98.5 178.9M101 176.4L98 177.8M102.2 169.7L95.5 172.5M92.2 156.2L90.1 156.7M94 154.5L89.8 155.6M96.6 152.7L89.5 154.4M98 147.9L88.5 149.8M97.6 146.9L88.3 148.7M96.1 146.1L88.1 147.5M90 132.3L86.3 132.5M94.7 131L86.3 131.4M92.7 125.5L86.2 125.5M91.4 109.8L87.5 109.2M90.9 102.7L88.8 102.3M91 97.9L89.9 97.7M102.1 92.3L92.5 89M98.8 85.2L94.6 83.5M109.8 75.3L100.8 70.4M112.3 68L105 63.3M115.8 67.8L106.4 61.3M111.5 60.7L108.4 58.4M120.3 50.6L117.2 47.7M125.7 45.1L122.8 42.1M131.2 39.3L129 36.6M139.9 38.2L135.4 31.8M144.3 38.9L138.3 29.8M172.3 26.8L168.8 15.4M171.9 21.8L169.9 15.1M175.9 24L173.4 14.1M177 19.2L175.6 13.6M179.3 19.2L177.9 13M183.5 17.6L182.6 12.1M185.2 21.2L183.7 11.9M186.3 21.2L184.9 11.8" stroke="#cf74ee" stroke-width="1.2" stroke-dasharray=".6 1.6 .5 2.3 .6 3.4 .5 4.1" fill="none"/>
<path d="M206.2 22.5L206.6 10.5M213.7 21.8L214.8 11M216.7 14.3L217.1 11.3M223.6 15L224.1 12.4M225.2 18.6L226.4 12.9M238.8 23.8L241.2 17M244.8 20.7L245.6 18.6M247.9 27.7L251 20.9M248.7 28.6L252.1 21.4M257.4 32.1L260.9 26M269.1 38.5L272.6 33.8M267.6 42.3L273.6 34.5M272.8 37.4L274.5 35.3M272.2 41.8L276.4 36.7M273.9 45L279.1 39M282.4 50.5L286.7 46.3M282 52.4L287.5 47.2M285.7 57.9L292.2 52.5M291.1 57.8L294.4 55.3M287.9 64.4L296.5 58.1M288.3 65.4L297.2 59M300.2 73.7L304.8 71.2M308.9 82.2L309.9 81.8M306.8 88L311.7 86.2M305.7 89.6L312.1 87.3M307.3 91.4L312.9 89.5M308.4 92.2L313.2 90.6M307.9 94.7L313.9 92.9M305 96.7L314.3 94M305.1 106.5L316.8 104.2M316.5 107.8L317.4 107.7M308.4 114.6L318.2 113.5M314.7 117.4L318.6 117M309.7 118.9L318.7 118.2M310.9 119.9L318.8 119.4M312.5 120.9L318.8 120.5M310.4 124.3L319 124.1M307.5 132.9L318.8 133.5M308.1 135L318.6 135.9M309.4 139.5L318.2 140.5M307.6 150.7L316.1 152.6M307.7 155.2L315 157.2M307.1 158.5L314 160.6M304.1 161L312.9 164M304.7 163.5L312.1 166.2M302.9 165.2L311.3 168.4M296 172.7L307.1 178.1M298.5 181.4L303.8 184.4M299.3 188.2L300.9 189.2M283.3 200.2L288.7 205.1M278.1 204.3L283.8 210.2M277.7 205.5L283 211M271.9 211.8L276.1 217M267.4 217L270.5 221.3M257.7 218.3L262.6 226.5M256.8 221.1L260.6 227.7M255.8 221.6L259.6 228.3M255.9 224.1L258.6 228.9M247.9 225.5L251.2 232.6M237.2 230.1L239.6 237.2M231.8 231.4L233.9 238.9M230.5 230.8L232.8 239.2M223.5 234.4L224.8 241.1M222.5 235.4L223.6 241.3M216.8 235L217.8 242.2M208 234.3L208.5 243.1M203.7 241.1L203.7 243.2M194.4 242.2L194.3 242.9M193.7 236.1L193.1 242.8M192.7 234.3L192 242.7M183.8 228.8L181.5 241.3M176 231.1L173.8 239.6M157 228.4L154.9 233M150.6 224L147.7 229.4M136 221.5L135.6 222M135.5 218.3L133.7 220.6M136.5 213.2L131.8 219.2M125.7 205.3L121.1 209.9M112.6 190.2L107.4 193.8M106.6 191.5L106.1 191.8M108.8 181.1L101.9 185.1M100.9 166.6L94.2 169.2M100.1 165.7L93.8 168.1M99.4 164.8L93.4 167M91.8 157.5L90.4 157.8M99.4 150.9L89.3 153.3M98.9 148.8L88.7 151M90 142.5L87.3 142.9M89.4 140.2L87 140.5M96.4 129.9L86.2 130.2M90.9 121L86.4 120.8M96.4 118L86.6 117.2M94.3 116.8L86.7 116.1M91.8 100.5L89.3 100M92.2 97.1L90.2 96.5M94 96.4L90.5 95.4M94.6 88.5L92.9 87.9M108.3 77L99.7 72.4M105.7 70.5L102 68.3M133.7 40.6L129.9 35.9M142.1 37.5L137.3 30.4M140.3 30.7L139.3 29.1M144.2 34.7L140.3 28.5M149.5 29.5L146.8 24.6M157.5 21.9L156.6 19.9M167.1 24.9L164.3 16.9M169.3 20.9L167.7 15.8M176.9 23.7L174.5 13.8M179.9 16.8L179.1 12.8M187.6 22.3L186.1 11.6" stroke="#cf74ee" stroke-width="1.2" stroke-dasharray=".5 2.1 .7 1.7 .5 3.8 .6 2.9" fill="none"/>
<path d="M204.1 20.1L204.2 10.4M220 15.8L220.6 11.8M251.1 26.2L253.1 21.9M265.7 37.6L269.8 31.8M270.5 34.8L271.7 33.1M277.5 42.5L279.9 39.8M277.8 43.9L280.8 40.6M281 47.1L284.2 43.8M283.6 47.8L285.9 45.5M291.7 54.4L293 53.4M293.1 54.8L293.7 54.3M301.6 75.5L305.9 73.2M300.4 77.4L306.5 74.3M302.4 77.6L307 75.3M296.3 82.9L308 77.5M304.5 80.4L308.5 78.5M308.7 101.4L315.8 99.7M306.5 107.3L317 105.4M310.7 109.9L317.6 108.8M309.7 111.2L317.8 110M308 113.6L318.1 112.3M312.7 116.4L318.5 115.8M311.8 122L318.9 121.7M310.4 125.4L319 125.3M310.3 126.5L319 126.4M309.9 128.6L319 128.8M311.2 130.9L318.9 131.1M309.8 131.9L318.9 132.3M312.1 134.2L318.7 134.7M311.2 137.5L318.4 138.2M308.6 143.8L317.5 145.2M309.6 152.3L315.8 153.8M308 153L315.6 154.9M310.7 154.9L315.3 156.1M307.1 174.2L308.6 174.9M294.7 184L301.5 188.2M290.5 183.9L300.2 190.2M293.3 188.3L298.9 192.1M292.6 189.2L298.3 193.1M289.7 195.3L294.1 198.8M287.8 196.7L292.6 200.6M284.4 195.3L291.8 201.5M287.3 199.2L291.1 202.4M285 198.7L290.3 203.3M283.7 202L287.9 206M282.9 202.8L287.1 206.8M283.3 204.8L286.3 207.7M282.4 205.5L285.5 208.5M279.3 204L284.7 209.3M278.6 208L282.1 211.8M272.7 208.1L278.6 214.9M271.9 215.5L274.3 218.5M263.5 217.2L267.6 223.4M263.5 219.3L266.6 224M255.7 217.1L261.6 227.1M252.8 225.5L255.4 230.5M249.6 226.5L252.3 232.1M243.9 224.4L247.9 234M239 228.5L241.8 236.4M236.1 233.9L237.3 237.9M227.9 229.4L230.5 239.8M227.4 236.5L228.2 240.3M224.8 230.1L227.1 240.6M224.9 235.9L225.9 240.8M218 235.1L218.9 242M204.8 238.4L204.9 243.2M202.6 241.1L202.6 243.2M192 231.1L190.8 242.6M190.1 237.8L189.6 242.5M189.7 232.3L188.5 242.3M177.4 234.7L176.1 240.1M171.2 231.6L169.2 238.3M163.8 232.6L162.5 236.1M163.4 230.5L161.4 235.7M147.4 222.8L144.6 227.7M143.5 225L142.6 226.5M143.2 223.2L141.6 225.9M129.3 211.4L126.4 214.8M120 207.7L119.4 208.3M119.5 206.5L118.6 207.4M115.4 202.4L114.7 203.1M112.1 199.1L111.6 199.4M115.2 195.2L110.9 198.5M110.2 190.4L106.7 192.8M103 179.2L99.6 181M108.4 171.6L97.5 176.8M104.7 171L96.5 174.6M103.6 170.2L96 173.6M104.3 167.6L95.1 171.4M101.6 162.8L93 165.9M97.4 158.2L91.1 160.1M89.9 146L87.9 146.3M89.9 119.8L86.4 119.6M92.4 108.8L87.7 108M98.2 103.2L89.1 101.1M91.8 99.3L89.6 98.8M104.4 81.6L96.9 78.1M104.8 80.5L97.4 77M108.5 75.9L100.2 71.4M106.4 68.3L103.2 66.3M117.4 61.2L110.4 55.8M112.9 56.3L111.1 54.9M120.4 56.6L114.1 51.2M132.3 42.5L128.1 37.4M161.2 27.8L157.7 19.4M166.8 20.6L165.4 16.5M173.8 20.4L172.2 14.4M182.1 16.2L181.4 12.3" stroke="#cf74ee" stroke-width="1.2" stroke-dasharray=".7 1.3 .5 3.2 .5 2.4 .6 4.5" fill="none"/>
<path d="M205 24.4L205.2 19.9M207.1 24.5L207.6 13.2M208.2 24.6L208.8 13.4M209.2 24.6L209.9 13M211.3 24.8L211.4 23.1M212.3 24.9L213.4 12.8M213.3 25L213.4 23.9M214.4 25.1L214.8 21.1M215.4 25.2L215.9 21M216.4 25.3L217.8 15.1M217.4 25.5L219.1 14.4M218.5 25.6L218.5 25.3M219.5 25.8L221.3 15.1M220.5 26L222 17.8M221.5 26.2L223.1 17.8M222.5 26.4L223.9 19.7M223.6 26.6L225 19.7M224.6 26.8L227 15.9M225.6 27L228.7 13.4M226.6 27.3L228.7 18.3M231.6 28.6L234.1 20.2M232.6 28.9L233.4 26.1M233.6 29.2L234.5 26.4M234.6 29.5L237.4 21M235.5 29.8L238.7 20.4M236.5 30.2L236.7 29.7M237.5 30.5L240.1 23.5M239.4 31.3L241.5 25.9M240.4 31.6L244.3 21.9M241.4 32L242.1 30.2M242.3 32.4L247.7 19.6M243.3 32.8L247 24.3M244.2 33.2L247.9 25M246.1 34.1L246.5 33.2M247.1 34.6L250.6 27.1M248 35L251.5 27.8M248.9 35.5L253.1 27.3M249.8 35.9L254.6 26.7M252.1 37.1L253.8 34M253 37.6L254.2 35.4M253.9 38.2L256.5 33.5M254.8 38.7L261.3 27.6M255.6 39.2L256.8 37.3M256.5 39.7L261.2 32.1M257.4 40.3L263.3 31M258.3 40.9L262.2 34.8M259.1 41.4L262.3 36.6M260 42L266.9 31.8M260.9 42.6L262.7 39.9M261.7 43.2L264.7 38.9M262.6 43.8L265.2 40.1M263.4 44.4L266.5 40.2M264.2 45L264.9 44.1M265 45.6L265.8 44.6M265.9 46.3L269.9 41.1M267.5 47.6L270.2 44.2M268.3 48.2L271.9 43.9M269.1 48.9L273.1 44.1M269.9 49.6L270.3 49.1M270.6 50.3L274.9 45.5M271.4 51L274.8 47.2M272.2 51.7L274.8 48.8M272.9 52.4L282.1 42.7M273.7 53.1L276 50.7M274.4 53.8L277.3 50.9M275.2 54.5L278.8 50.9M275.9 55.3L280.8 50.5M276.6 56L281.1 51.8M277.3 56.8L278.3 55.9M278 57.5L278.5 57.1M278.7 58.3L279.1 58M279.4 59.1L281.7 57.1M280.1 59.9L284.1 56.4M280.8 60.6L281.3 60.2M281.4 61.4L282.5 60.5M282.1 62.2L288.6 56.9M282.7 63L287.5 59.3M283.4 63.9L286.3 61.6M284 64.7L288.2 61.5M284.6 65.5L287.3 63.5M285.3 66.3L285.8 65.9M287.7 69.9L292.7 66.5M288.3 70.7L292.5 68M288.9 71.6L294.9 67.8M289.4 72.5L299.1 66.4M290 73.4L294.5 70.6M290.5 74.3L298.9 69.2M291 75.1L291.3 75M292 76.9L292.5 76.7M292.5 77.9L298.9 74.4M293 78.8L298.3 76M293.5 79.7L297 77.9M294 80.6L297.6 78.8M294.5 81.5L298.8 79.4M294.9 82.5L299.1 80.4M295.4 83.4L295.9 83.1M295.8 84.3L300.2 82.3M296.6 86.2L304.2 83M297 87.2L302.4 85M297.4 88.2L302.6 86M297.8 89.1L301.9 87.5M298.2 90.1L301.2 88.9M298.6 91L303 89.4M298.9 92L304.7 89.9M299.3 93L305.4 90.8M299.6 94L305.3 92M299.9 95L305.7 93.1M300.2 96L301 95.7M300.5 96.9L304.9 95.6M300.8 97.9L304.5 96.9M301.1 98.9L312.4 95.7M301.7 100.9L306.3 99.7M301.9 101.9L307.9 100.4M302.4 104L309 102.4M303.1 106.9L303.6 106.8M303.2 107.9L304.1 107.8M303.4 108.9L306 108.5M303.6 110L313.4 108.3M303.8 111L307.6 110.4M303.9 112L307.4 111.5M304.1 113L306.8 112.7M304.2 114.1L304.8 114M304.3 115.1L306.5 114.8M304.5 117.2L307.1 116.9M304.6 118.2L309.1 117.8M304.7 119.2L309 118.9M304.8 120.3L308.3 120M304.9 121.3L308.5 121.1M304.9 122.3L307.9 122.2M304.9 123.4L307.8 123.3M305 124.4L307 124.4M305 125.4L307.2 125.4M305 126.5L308.6 126.5M305 127.5L308.6 127.5M305 128.6L307.8 128.6M305 129.6L308.5 129.7M304.9 130.6L308.3 130.8M304.9 131.7L306.8 131.8M304.8 132.7L306.5 132.8M304.8 133.7L307.7 133.9M304.7 134.8L307.5 135M304.6 135.8L307.2 136M304.5 136.8L308.6 137.2M304.4 137.9L315.1 139M304.3 138.9L307 139.2M304.2 139.9L307.2 140.3M304 140.9L306.4 141.3M303.7 143L304.7 143.2M303.3 145.5L303.7 145.5M303.1 146.5L306.8 147.2M302.9 147.5L313.9 149.8M302.7 148.5L304.9 149M302.4 149.5L304.3 149.9M302.2 150.5L306.6 151.6M302 151.5L307.5 152.9M301.7 152.5L305.8 153.6M301.2 154.5L301.5 154.6M300.9 155.5L301.4 155.7M300.6 156.5L303.2 157.3M300.3 157.5L303.9 158.6M300 158.5L304.4 159.9M299.6 159.5L300.5 159.8M299.3 160.5L304.3 162.2M299 161.4L302.2 162.6M298.6 162.4L302.7 163.9M298.2 163.4L298.9 163.6M297.9 164.4L299.6 165M297.1 166.3L297.9 166.6M296.7 167.2L297.2 167.4M296.3 168.2L299 169.4M295.8 169.1L304.7 173.1M295 171L295.5 171.2M294.5 171.9L295.4 172.4M294.1 172.9L294.3 173M293.1 174.7L295.9 176.2M292.6 175.6L296.4 177.7M292.1 176.5L295.2 178.2M291.6 177.4L294.8 179.2M290.1 179.9L292.5 181.3M289.6 180.8L293.3 183.1M289.1 181.7L292.7 184M288.5 182.6L289.2 183M287.9 183.4L288.4 183.7M287.3 184.3L291.2 186.9M286.8 185.1L288.8 186.6M285.6 186.8L287.6 188.3M285 187.7L288.8 190.5M284.3 188.5L288.6 191.7M283.1 190.1L287 193.3M282.4 190.9L293.2 199.6M281.8 191.8L284.9 194.3M281.1 192.5L281.9 193.2M280.4 193.3L283.2 195.7M279.8 194.1L283 196.9M278.4 195.7L278.9 196.1M277.7 196.4L282.3 200.7M277 197.2L281 201M276.3 197.9L279.7 201.3M275.5 198.7L278.3 201.4M274.8 199.4L277.2 201.9M274.1 200.1L276.8 203M273.3 200.9L276.3 204M272.6 201.6L276.1 205.4M271.8 202.3L275.8 206.6M271 203L275.5 208M270.3 203.7L271 204.6M269.5 204.3L271.5 206.7M267.3 206.2L268.9 208.1M266.5 206.8L268.5 209.4M265.7 207.5L268.6 211.3M264.8 208.1L270.3 215.2M264 208.7L268 214.1M263.2 209.4L267.7 215.5M262.3 210L265.4 214.3M261.5 210.6L263.9 214M260.6 211.2L262.1 213.3M259.8 211.7L262 215.1M258.9 212.3L261.9 216.8M257.2 213.4L258 214.8M256.3 214L256.6 214.4M255.4 214.5L256 215.5M254.5 215.1L255.3 216.4M252.7 216.1L254.4 219.1M251.8 216.6L253.8 220.1M250.9 217.1L256.8 228.1M250 217.6L254.5 226.2M249.1 218L251.4 222.6M248.1 218.5L253.5 229.3M247.2 219L248.9 222.5M246.3 219.4L248.2 223.6M245.3 219.9L247.1 223.6M244.4 220.3L248.8 230.1M243.4 220.7L243.7 221.2M242.5 221.1L242.9 222.1M241.5 221.5L243.2 225.6M239 222.5L240.2 225.6M238 222.9L242.3 234.3M237.1 223.2L238 225.8M236.1 223.6L239.1 232.1M234.1 224.2L237.7 235.2M233.1 224.5L234.7 229.5M232.1 224.8L233.7 229.9M230.2 225.4L230.9 227.9M229.2 225.7L229.9 228.4M228.2 226L229 229.1M227.2 226.2L227.2 226.5M226.1 226.5L226.4 227.6M225.1 226.7L226.7 233.6M224.1 226.9L224.3 227.9M223.1 227.1L223.9 231M222.1 227.3L222.9 231.5M221.1 227.5L221.9 231.8M220.1 227.7L220.6 230.8M219 227.9L221.3 241.7M218 228L218.2 229.1M217 228.2L217 228.6M216 228.3L216.1 229.4M214.9 228.5L215.3 231.4M213.9 228.6L214.3 232.3M212.9 228.7L213.1 231.2M209.8 228.9L210.3 235.1M208.8 229L209.1 234.3M207.7 229.1L207.8 230.1M206.7 229.1L206.9 232.7M205.7 229.2L205.8 234.6M204.6 229.2L204.8 236.7M203.6 229.2L203.7 234.5M202.6 229.2L202.6 237.4M197.4 229.1L197.3 230.6M196.4 229L196.3 229.9M195.3 228.9L194.9 235M194.3 228.9L194.2 230.3M191.2 228.6L190.7 232.8M190.2 228.4L189.7 232.1M189.1 228.3L188.6 232.4M188.1 228.2L187.4 233M187.1 228L185.7 236.9M186.1 227.9L185 234.5M185 227.7L183.7 235.3M181.3 227L179.9 233.3M180.3 226.7L177.2 240.3M179.3 226.5L179.2 226.9M178.3 226.3L176.4 233.9M177.2 226L176.9 227.4M176.2 225.7L176 226.5M175.2 225.5L175.1 225.9M173.3 224.9L172.7 226.6M172.3 224.6L170.1 231.6M171.3 224.3L168.6 232.5M170.3 224L167.3 233M169.3 223.6L167.5 228.9M168.3 223.3L166.6 228.2M167.3 222.9L165.2 228.7M166.4 222.6L164.7 226.9M165.4 222.2L164.7 223.9M164.4 221.8L161.2 229.9M163.5 221.4L160.1 229.6M162.5 221L160.2 226.5M161.6 220.6L160.8 222.4M160.6 220.2L157.8 226.5M159.7 219.8L155 230M158.7 219.3L156.2 224.8M157.8 218.9L155.6 223.4M155.2 217.6L154.8 218.3M154.3 217.1L154 217.6M153.4 216.6L149.8 223.2M152.5 216.1L148.6 222.9M151.6 215.6L150.9 216.7M149.8 214.5L145.9 221M148.9 214L146.8 217.5M148 213.4L145.9 216.8M147.1 212.9L144.4 217.1M146.3 212.3L140.8 220.6M145.4 211.7L141.4 217.7M144.6 211.2L138.9 219.3M143.7 210.6L139.2 216.9M142.9 210L142.6 210.3M142 209.4L136.7 216.6M141.2 208.7L139 211.6M139.5 207.5L135.9 212.1M138.7 206.8L138.5 207.2M137.9 206.2L136.8 207.6M137.1 205.5L135.8 207.2M136.3 204.9L129 213.5M135.5 204.2L134.9 204.9M134.8 203.5L133.8 204.6M132.4 201.4L132.1 201.7M131.7 200.6L123.9 208.8M130.2 199.2L125 204.4M129.5 198.5L124.1 203.7M128.7 197.7L124.9 201.4M128 197L127.3 197.7M127.3 196.2L119.3 203.5M126.6 195.4L119.2 202.2M125.9 194.7L117.4 202.2M125.2 193.9L117.5 200.6M124.6 193.1L117.9 198.8M123.9 192.3L115.3 199.5M123.2 191.5L119.1 194.9M122.6 190.7L118.8 193.7M121.9 189.9L117.9 193.1M121.3 189.1L114 194.6M120.7 188.2L112.7 194.2M120.1 187.4L114.5 191.5M119.5 186.6L118.8 187M118.9 185.7L118.3 186.1M118.3 184.9L112.4 188.9M117.7 184L110 189.2M117.1 183.2L110.2 187.7M116.5 182.3L109.8 186.6M114 178.1L113.5 178.4M113.5 177.2L113.1 177.4M113 176.3L109.8 178M112.5 175.4L109.3 177.1M112 174.5L107.5 176.8M111.5 173.6L107.9 175.4M111 172.6L106.2 175.1M110.6 171.7L105.4 174.2M109.7 169.8L106.5 171.3M109.2 168.9L107.2 169.8M108.4 167L107.7 167.3M107.6 165.1L102.9 167M107.2 164.1L104.4 165.2M106.9 163.1L102.5 164.8M106.5 162.2L103.7 163.2M106.2 161.2L104.3 161.9M104.5 156.1L99 157.7M104.2 155.1L98.5 156.7M103.9 154.1L98.9 155.5M103.6 153.1L94.7 155.5M103.4 152.1L101.4 152.6M102.7 149.1L101.5 149.3M102.4 148.1L101.2 148.3M102.2 147.1L101.9 147.1M102 146L100.5 146.3M101.8 145L101.5 145.1M101.7 144L93 145.5M101.5 143L94.3 144.1M101.3 141.9L99.1 142.3M101.2 140.9L96.1 141.6M101 139.9L94.5 140.7M100.9 138.9L94.4 139.6M100.4 133.9L99.4 134M100.4 132.9L99 133M100.3 130.8L99.5 130.8M100.2 129.8L97.9 129.8M100.2 128.7L89 128.9M100.2 127.7L94.8 127.7M100.2 126.7L95.4 126.7M100.2 125.6L96.3 125.6M100.2 124.6L96.4 124.5M100.3 123.5L91 123.3M100.3 122.5L89.4 122.1M100.3 121.5L93.7 121.1M100.4 120.4L95.4 120.1M100.5 119.4L92.8 118.9M100.5 118.4L99.2 118.3M100.6 117.3L96.3 116.9M101 114.4L89.3 113M101.1 113.4L92.9 112.3M101.2 112.3L96.4 111.7M101.4 111.3L97.4 110.7M101.5 110.3L96.3 109.4M101.7 109.3L92.8 107.7M101.9 108.3L92.9 106.6M102.5 105.2L96.4 103.9M102.7 104.2L102.3 104.1M103 103.2L96.9 101.7M103.2 102.2L96.8 100.6M103.5 101.2L98.1 99.8M103.7 100.2L97.6 98.5M104 99.2L101.7 98.5M104.3 98.2L97 96.1M105.1 95.5L97.7 93.1M105.4 94.5L94.8 91M105.7 93.6L103.4 92.7M106.1 92.6L101 90.8M106.8 90.6L98.1 87.4M107.2 89.7L100.1 86.9M107.6 88.7L101.4 86.2M107.9 87.7L96.4 83M108.3 86.8L98.6 82.6M108.8 85.8L100.3 82.1M109.2 84.9L101.7 81.6M109.6 83.9L107.5 83M110 83L108.9 82.5M110.5 82.1L109.3 81.5M110.9 81.1L98.5 74.9M112.1 79L110.7 78.3M112.5 78.1L112.2 77.8M113 77.2L110.4 75.7M114.1 75.3L111.2 73.7M114.6 74.5L109.4 71.4M115.1 73.6L110.3 70.6M115.7 72.7L110.1 69.2M116.2 71.8L115.4 71.3M116.8 70.9L116.2 70.6M117.4 70.1L114.3 68M117.9 69.2L117.5 68.9M118.5 68.4L114.5 65.6M119.1 67.5L113.8 63.8M119.7 66.7L113.9 62.5M121.5 64.3L120.2 63.4M122.1 63.5L120.2 62.1M122.7 62.7L111.9 54M123.4 61.9L115.5 55.4M124 61.1L113.3 52.1M124.7 60.3L123.3 59.1M125.4 59.5L119.8 54.7M126.1 58.8L120.1 53.4M126.8 58L122 53.6M127.5 57.2L122.9 53M128.2 56.5L122.9 51.5M130.1 54.4L125.8 50.1M130.9 53.7L125.5 48.3M131.6 53L127.8 49M132.4 52.3L127.8 47.4M133.1 51.6L128.7 46.7M134.7 50.2L128.7 43.5M135.5 49.5L128 40.9M136.2 48.8L129.7 41.1M137 48.1L136 47M137.8 47.5L132.9 41.4M138.6 46.8L135.5 42.9M142.6 43.8L139.9 40.1M143.4 43.2L140.7 39.4M144.3 42.6L141.8 39M145.2 42L144.5 41.1M146 41.5L144.7 39.5M146.9 40.9L144.2 36.7M147.8 40.3L145.8 37.2M151.7 37.9L146.4 28.7M152.6 37.4L148.3 29.7M153.5 36.9L150.7 31.8M154.5 36.4L152.2 32.3M155.4 35.9L152.5 30.3M156.3 35.5L150.2 23.4M157.2 35L152.9 26.2M158.2 34.5L152.7 23.3M160.3 33.6L158 28.6M161.2 33.1L158.9 27.8M162.2 32.7L159.7 27M163.1 32.3L162.9 31.7M164.1 31.9L163.9 31.5M165 31.5L162.1 24M166 31.2L162.6 22.3M167 30.8L164.2 23.3M168 30.4L164.4 20.4M168.9 30.1L167.7 26.4M169.9 29.8L168.6 25.7M171.9 29.1L170.8 25.8M172.9 28.8L172.7 28.3M173.9 28.5L173.2 26.3M174.9 28.2L173.1 21.8M175.9 28L174.4 22.6M176.9 27.7L176.7 27.1M177.9 27.4L177.6 26.3M178.9 27.2L177.8 22.6M179.9 27L178.1 19.1M180.9 26.7L179.9 22M181.9 26.5L181 22.2M182.9 26.3L182.1 21.8M184 26.1L182.5 18.3M185 25.9L184.8 25M186 25.8L185.9 25.3M187 25.6L186.4 21.7M188 25.4L188 24.8" stroke="#9238ee" stroke-width="1.2" fill="none"/>
<path d="M219.1 14.2L219.5 11.6M263.2 33.3L265.9 29.1M284.7 58.7L292.2 52.5M293.8 67.1L300 63.1M295.7 69.8L301.9 66.1M301.2 74.4L305.4 72.2M300.6 77.3L306.5 74.3M300.6 78.5L307 75.3M298.5 81.9L308 77.5M304 87.9L311.3 85.1M306.3 92.9L313.2 90.6M308.3 100.3L315.5 98.5M310.9 111L317.8 110M309.1 116.7L318.5 115.8M308.8 123.2L318.9 122.9M311.8 130.9L318.9 131.1M306.8 131.8L318.9 132.3M306.9 147.2L316.8 149.2M306.7 149.4L316.4 151.5M307.2 150.6L316.1 152.6M307.3 160.9L313.3 162.8M298.5 172.7L307.6 177.1M297 174.3L306.6 179.2M296.7 180.4L303.8 184.4M294.9 185.4L300.9 189.2M290.4 183.8L300.2 190.2M287.6 187L297.6 194.1M285.7 194.9L292.6 200.6M282 197.5L289.5 204.2M279.2 205.4L283.8 210.2M269.1 208.4L276.1 217M264 216L268.6 222.7M263.8 219.7L266.6 224M258.9 216.1L264.6 225.3M254.9 217.8L260.6 227.7M249.5 223.8L253.3 231.6M249.7 226.8L252.3 232.1M204.8 238.7L204.9 243.2M196.2 232.1L195.5 243M183.1 238.9L182.6 241.5M176.6 228.6L173.8 239.6M145.6 221.5L142.6 226.5M139.6 222.5L138.6 224M140.4 213.3L134.7 221.3M137.1 208.9L130 217.8M135.1 208L128.2 216.3M134.1 205.9L126.4 214.8M132.7 205.8L125.5 214M126.2 198.7L117.8 206.6M117.9 204.9L117 205.7M105.4 176.7L99 180M103.2 176.5L98.5 178.9M109.8 170.9L97.5 176.8M102.7 167.1L94.6 170.3M103.7 163.2L93.4 167M102.9 151.1L89.5 154.4M99.3 147.6L88.5 149.8M93 139.8L87 140.5M97.7 129.8L86.2 130.2M94.2 124.5L86.2 124.3M91.8 121L86.4 120.8M93.7 111.3L87.4 110.4M94.8 109.2L87.7 108M90.6 106.2L88.1 105.7M96.7 98.3L90.2 96.5M100.7 91.8L92.5 89M108.7 70.9L102.6 67.3M125.3 48L121.1 43.7M125.7 46.8L121.9 42.9M126.1 45.6L122.8 42.1M143.2 37.2L138.3 29.8M145.7 27.3L144.8 25.8M152.2 24.8L151 22.5M162.7 31.2L157.7 19.4M162.6 28.3L158.8 18.9M177.3 20.3L175.6 13.6M185.5 22.6L183.7 11.9" stroke="#9238ee" stroke-width="1.2" stroke-dasharray=".6 1.6 .5 2.3 .6 3.4 .5 4.1" fill="none"/>
<path d="M204 23.9L204.2 10.4M206.1 23.9L206.6 10.5M225.5 17.3L226.4 12.9M229.5 15.2L229.9 13.6M238.3 18.1L238.9 16.2M265.2 38.2L269.8 31.8M265.3 43.5L272.6 33.8M267.7 42.2L273.6 34.5M270.9 48.3L279.1 39M277.3 42.8L279.9 39.8M274.9 47.1L280.8 40.6M278.4 55.8L287.5 47.2M281.3 54.5L288.3 48.1M281.5 60L291.4 51.6M286.4 66.8L297.2 59M293.6 65.9L299.4 62.1M292.2 74.4L303.1 68.1M291.6 76L303.7 69.1M301.1 73.2L304.8 71.2M300 76.3L305.9 73.2M299.4 80.3L307.5 76.4M302.2 99.7L314.9 96.3M305.6 102.1L315.8 99.7M305.7 107.5L317 105.4M308.3 125.4L319 125.3M308 140.4L318 141.7M309.2 141.7L317.9 142.9M304.7 154.4L315 157.2M303.2 157.3L314 160.6M302.8 164L311.7 167.3M295.8 174.9L306 180.2M297.7 179.6L304.4 183.3M291.5 187.1L298.9 192.1M289.6 191.1L296.2 196M279.4 204.1L284.7 209.3M277.8 205.6L283 211M270.4 213.5L274.3 218.5M267.7 217.5L270.5 221.3M256.8 216.8L262.6 226.5M255 220.2L259.6 228.3M255.8 228.6L256.5 230M249 230.5L250.1 233.1M224.5 233.9L225.9 240.8M222.6 235.7L223.6 241.3M216.3 230.7L217.8 242.2M205.9 235.3L206.1 243.1M193 231.3L192 242.7M190.3 236.7L189.6 242.5M185.5 238.2L185 241.9M174.7 227.4L171.5 239M169.3 234.2L168.1 238M166.1 236.7L165.9 237.3M157 228.4L154.9 233M149.3 224.1L146.6 228.9M149.9 218.5L144.6 227.7M128.8 202.1L121.1 209.9M117.2 186.9L107.4 193.8M99.5 150.9L89.3 153.3M91.5 145.7L87.9 146.3M95.4 142.8L87.5 144M92.4 141L87.2 141.7M93.4 120L86.4 119.6M95.5 110.4L87.5 109.2M92.3 107.6L87.9 106.9M99.4 90.2L92.9 87.9M98.9 80.3L96.4 79.2M107.2 81.6L97.4 77M107.3 68.8L103.2 66.3M112.5 69.4L104.4 64.3M121.1 51.3L117.2 47.7M127.8 42.4L125.4 39.7M143.3 35.3L139.3 29.1M166.9 24.4L164.3 16.9M177.3 15.6L176.8 13.3M180.9 21.6L179.1 12.8M187.4 21.1L186.1 11.6" stroke="#9238ee" stroke-width="1.2" stroke-dasharray=".5 2.1 .7 1.7 .5 3.8 .6 2.9" fill="none"/>
<path d="M213.6 22.1L214.8 11M216 20.4L217.1 11.3M219.1 21.8L220.6 11.8M234.4 23.1L236.7 15.5M241.1 20.6L242.3 17.4M246.6 33L252.1 21.4M257.5 31.9L260.9 26M263 29.3L263.9 27.8M266.3 38.7L270.7 32.4M279.6 48.5L284.2 43.8M281.4 48.3L285.1 44.7M281.6 49.7L285.9 45.5M280.9 56.3L289.1 48.9M281.8 57L289.9 49.8M284.6 55.9L290.7 50.7M289.8 57.4L293.7 54.3M290.8 59.5L295.1 56.2M303.3 84.5L309.9 81.8M306.7 89.2L312.1 87.3M312.7 101.6L316.1 100.8M304.7 106.6L316.8 104.2M308.1 113.6L318.1 112.3M309.6 121L318.8 120.5M311.1 134.2L318.7 134.7M311 137.5L318.4 138.2M304.1 145.6L317.1 148M301.8 170.6L309.1 173.8M293 181.6L302.1 187.2M288.8 184L299.6 191.2M290.3 193L295.5 196.9M279 196.2L288.7 205.1M278.7 208.1L282.1 211.8M269.8 211L275.2 217.8M269.3 217.7L271.5 220.6M266 217L269.5 222M264.2 218.2L267.6 223.4M258.5 217.6L263.6 225.9M240.5 226.3L244 235.6M237.8 235.4L238.4 237.5M227.5 237.3L228.2 240.3M217.5 232.1L218.9 242M215.4 232.4L216.6 242.4M197.2 231.9L196.7 243M194.7 237.5L194.3 242.9M159.4 231.2L158.1 234.4M159.9 224.5L156 233.5M138.5 210.6L131.8 219.2M129.6 204.4L122.8 211.6M121.3 206.4L119.4 208.3M123.5 202.7L118.6 207.4M116.7 204.4L116.2 204.8M117.1 199.4L113.9 202.2M114 191.8L108.8 195.7M110.2 180.3L101.9 185.1M104.4 178.5L99.6 181M101.9 175.9L98 177.8M92.3 142.2L87.3 142.9M95.7 134.2L86.5 134.9M92.6 118.8L86.5 118.4M96.3 116.9L86.7 116.1M91.1 112L87.2 111.5M101.3 103.9L89.1 101.1M92.7 90.3L92.1 90.1M95.2 86.2L93.7 85.7M95.7 82.7L95 82.4M106.8 80.3L97.9 75.9M111.5 63.5L107 60.4M122.1 58.1L114.1 51.2M138 37.4L134.4 32.5M143.1 39L137.3 30.4M151.4 28.3L148.9 23.5M157.5 24.7L155.6 20.3M163.7 18.5L163.2 17.3M170 23L167.7 15.8M173.8 20.3L172.2 14.4" stroke="#9238ee" stroke-width="1.2" stroke-dasharray=".7 1.3 .5 3.2 .5 2.4 .6 4.5" fill="none"/>
<path d="M209.6 18.1L209.7 16.9M213 17.7L213 17M221.9 18.1L222.1 17.2M228.7 18.7L228.9 17.6M237.4 24.4L237.6 23.8M240.8 27.6L241.3 26.4M245.4 25.1L245.8 24.2M250.3 27.9L250.7 27.1M249.4 32.2L249.9 31M250 33.3L250.4 32.5M253.3 34.9L253.9 33.8M253.7 36.3L254.1 35.7M265.1 34.5L265.6 33.7M263.6 40.5L264.2 39.7M270.2 44.3L270.7 43.6M270.2 47.5L271.1 46.5M275.8 50.9L276.8 49.9M279.1 52.1L280.1 51.2M280.1 58.5L280.5 58.1M283.9 60.8L284.3 60.4M292.4 69.3L293.1 68.9M292 72.1L292.9 71.6M294.9 78.9L295.7 78.5M297.6 80L298.4 79.6M303.3 83.4L304.2 83M299.9 86L300.5 85.7M302 86.3L303.3 85.8M300.1 89.3L300.8 89.1M302.9 90.6L303.9 90.2M303.8 93.7L305.1 93.3M307.8 102.7L308.9 102.5M304.9 108.7L305.9 108.5M307 116.9L307.7 116.9M306.9 121.2L308.1 121.1M307.3 123.3L308.7 123.2M305.7 125.4L307 125.4M306.4 132.8L307.4 132.8M301.5 156.8L302.8 157.2M303.8 158.6L305 159M294.3 177.8L295.1 178.2M292.2 183.7L292.9 184.1M288 186L288.6 186.4M285.3 191.9L286 192.4M283.3 193L284.1 193.7M279.4 201L279.8 201.3M274.1 203.2L274.7 203.8M267.1 207.7L267.5 208.2M266.5 208.5L267.1 209.4M262.4 211.9L262.9 212.5M261.8 214.7L262.4 215.6M248 220.7L248.3 221.2M229.7 227.6L229.9 228.5M228.9 228.8L229.1 229.5M223.7 230.3L223.9 231.1M222.7 230.2L222.8 230.8M221.3 228.7L221.4 229.3M220.6 230.8L220.8 232M214.1 230.1L214.2 231M204.8 235.2L204.8 236.5M202.6 236.6L202.6 237.8M190.7 232.5L190.6 233.8M188.9 230.1L188.8 230.8M185.1 234L184.9 234.8M180.4 230.9L180.3 231.6M177.7 228.6L177.4 229.7M167.7 228.3L167.3 229.5M166.2 226L165.8 227.2M162.3 227.2L162.1 227.7M157.5 222L157.1 222.8M156.2 222.3L155.7 223.3M146.1 214.4L145.7 215.2M141.6 219.4L140.9 220.5M144 213.9L143.6 214.4M137.3 210.4L136.7 211.1M122.9 198.8L121.8 199.7M118.6 201.2L118.1 201.6M119.1 196.3L118.3 196.9M120.1 194L119.4 194.6M113.7 186.7L112.6 187.5M112.2 176.7L111.3 177.2M108.9 176.1L107.8 176.7M108 175.3L107.4 175.7M107.8 169.6L107.2 169.8M105.8 164.7L105.1 165M105.2 161.5L104.2 161.9M100.8 155L100 155.2M95.1 140.7L93.8 140.8M99 126.7L98.3 126.7M98.5 125.6L97.9 125.6M97 124.5L96.2 124.5M93.4 123.3L92.1 123.3M93.6 118.9L92.9 118.9M97.7 112.9L97.2 112.9M96.9 109.5L96.3 109.4M98.6 108.7L97.6 108.6M97.6 104.1L96.9 104M98.3 102.1L97.6 101.9M98.2 99.8L97.2 99.6M99 93.6L98.2 93.3M97.8 83.6L97 83.2M103.8 84.8L102.8 84.4M106.2 84.7L105.4 84.4M107 83.9L106.2 83.5M112.8 74.6L111.8 74M114.6 68.2L114 67.9M116.7 64.5L115.8 63.8M120.4 55.2L119.6 54.5M123.8 52.3L123.1 51.6M142.1 41.4L141.7 40.8M144.2 36.8L143.5 35.6M159.6 29.4L159 28.2M160 27.7L159.5 26.5M173.6 23.9L173.3 22.5M179.3 24.4L179.1 23.5M180.6 25.3L180.5 24.7" stroke="#fff" stroke-width="1.2" fill="none" opacity=".85"/>
<path d="M205.8 32.5L205.9 31.2M211.8 30.1L212.2 25.7M218.8 29.6L219.3 26.9M221.7 30.4L222.4 27.1M222.3 32.5L223.4 27.4M222.6 35.7L222.9 34.5M223.6 35.5L224.5 31.7M229.5 35.7L230.8 31.4M230.3 36.2L230.8 34.8M233.9 34.8L234.6 32.7M235.4 33.4L236.3 30.9M240 37.9L241.7 33.9M243.5 39.7L245.2 36.2M245.3 40.5L247.5 36.1M248 44.4L248.5 43.5M249.9 45L250.5 43.9M249.6 47.4L251.1 44.8M250.4 47.8L251.3 46.4M253.6 48L256.8 43.1M253.7 49.7L255.2 47.3M260.4 45.1L261.1 44M258 51.7L258.7 50.7M261.5 50.3L264.3 46.6M261.2 52.2L261.5 51.8M265.2 56.4L266.2 55.3M267.9 54.8L270.9 51.6M267.6 56.6L268 56.2M268.6 58.4L271 55.8M272.7 62.4L274.9 60.4M272.6 67.6L274.4 66M274.4 67.2L277.4 64.8M278 69.2L278.5 68.9M278.7 72.3L279.9 71.4M281.7 73.9L282.8 73.1M282.9 74.3L285.3 72.7M280.6 78L281.7 77.3M281.9 78.3L284.1 76.9M283.2 78.6L284.2 78M285.3 84L286.4 83.4M285.8 84.7L287 84.1M288.1 85.7L291.6 84.1M289.8 93.3L290.5 93M290.7 98L292.6 97.4M290.7 99L292.7 98.3M293.7 101L296.9 100.1M293.3 102.1L298.2 100.8M292.6 104.3L295.5 103.5M293.7 105.9L295.7 105.5M292.4 112.8L294.2 112.5M294.5 113.4L296.1 113.2M294.5 114.3L295.7 114.2M293.1 116.4L294.6 116.2M300 117.6L300.6 117.5M294.4 120.9L296 120.8M294.8 121.8L296.5 121.8M294.2 126.5L295.3 126.5M294.8 129.3L297.3 129.4M294.1 130.2L295.3 130.3M295.2 131.2L296.2 131.2M299.2 135.3L299.7 135.4M294.9 135.9L295.7 136M295.3 136.9L297.3 137.1M294.2 137.7L296 137.9M292.5 140.3L293.1 140.4M292.2 141.2L293 141.3M295.1 143.9L298.5 144.6M292.5 148.2L294.5 148.7M291.2 148.9L291.8 149M292.2 151L295.4 151.9M294.9 155.8L295.6 156.1M290.2 156.3L291.6 156.8M297.1 159.7L298.6 160.2M290.3 158.3L291.6 158.8M290.8 159.5L293.5 160.5M294.8 165.3L295.5 165.6M286.9 164L289.1 165M286.4 165.8L288.3 166.8M284 167.8L285 168.3M290.4 173.3L292.2 174.3M284 172L285.9 173.1M280.9 174.3L282 175M278.2 179.2L279.7 180.3M277.2 181.9L277.8 182.4M279.7 185L280.4 185.5M275.9 184.5L277.5 185.7M274.8 184.8L276.3 186.1M270.3 190.9L271.7 192.2M270 191.9L270.7 192.6M266.7 192.6L269 194.9M257.5 201.7L258.4 202.8M256 204.4L256.6 205.3M258.4 209.7L259.3 211.1M255 206.4L255.3 206.9M250 205.5L251 207.2M252.8 214.1L253.2 214.9M249 209.5L250.2 211.6M246.4 208.6L247.1 210M243.2 208.6L243.7 209.6M242.2 210.7L244 214.5M241.3 213.2L243.1 217.4M240.1 213.1L240.8 214.6M235 214.5L235.8 216.7M233.6 213.4L233.9 214.3M231.9 214.2L232.1 214.8M230.8 214.1L231.9 217.2M229.3 222.3L229.9 224.7M225.4 215.4L225.7 216.4M223.2 218.2L223.7 220.2M221.2 218L221.6 219.6M219.3 217.7L219.8 220.6M218.4 218L218.6 219.4M208.5 223.6L208.6 226M203.6 224.8L203.6 228.4M202.6 221.8L202.6 224.8M197.8 220.1L197.7 222.2M196.7 223.4L196.6 225.6M195.8 222.4L195.4 227.3M180.1 218.7L179.5 221.2M175 215.8L174.1 218.5M171.2 215.1L169 221.3M168.3 217.4L167.1 220.8M167.2 217.6L166.2 220.1M167.7 213.7L167.5 214.3M166.9 213.1L166 215.5M156.8 212.4L155.8 214.3M155.2 211.2L154.6 212.4M153.5 212.2L152 214.9M152.3 212.2L152 212.8M154.4 206.9L153.4 208.6M152.3 208.4L150.4 211.5M144.7 204.1L143.5 205.7M144.9 202.2L143.1 204.5M142.5 203.7L142.2 204.1M135.3 195.5L134 196.8M134.9 194.5L133.7 195.7M132 188L131.1 188.8M130.9 186.5L126.8 189.9M126.6 187.5L123.2 190.2M124.7 186.5L121.9 188.6M125.1 184.9L121.3 187.8M126 181.9L123.8 183.4M122 172.4L121.1 172.9M120.1 172.4L117.7 173.7M121.1 170.8L119 171.9M120.4 168L118.5 168.9M118.4 166.8L116.7 167.7M115.9 159.7L113.6 160.6M115.4 158.9L112.4 160M113.8 158.5L111.9 159.2M111.3 153.1L109 153.7M109.3 149.6L106.1 150.4M108.3 146.8L107.4 147M108.9 145.7L105 146.5M110.6 142.5L106.4 143.2M109.5 141.7L108.3 141.9M108.9 137.9L102.6 138.7M109.1 133.3L107.7 133.4M102.2 132.8L101.2 132.8M110 128.5L105 128.6M107.6 127.6L105 127.7M106.6 126.7L105.3 126.7M108.3 125.7L106.4 125.7M104.1 123.7L101.1 123.6M103.6 122.7L101.1 122.5M109.5 121L108 120.9M105.7 118.8L102.5 118.5M108 118L102.1 117.5M103.9 114.8L102.9 114.6M106.9 113.2L103.3 112.6M111.2 103.2L108.9 102.6M108.4 96.6L105.9 95.8M114.6 93.6L111.5 92.4M116.2 93.2L112.9 91.9M111.6 89.3L110.2 88.7M109.6 87.3L109.1 87.1M116.1 85.9L113.7 84.7M117.3 84.3L115.6 83.5M113.7 79.8L112.8 79.3M122.8 82.6L122 82.1M122.7 77.1L122.2 76.8M125.7 66.4L123 64.3M126.7 65.9L123.4 63.2M126.7 64.6L124 62.4M126.3 61.7L125.3 60.8M135.6 57.1L132.3 53.7M135 53.6L133.7 52.2M141.4 51.8L140 50.2M147.8 49.4L145.4 46M150 49.2L147.8 45.9M157.2 39.5L155.9 36.9M160.1 42.9L157.7 38.2M159.6 39.8L158.8 38.3M161.5 36.3L160.6 34.3M168.6 37.9L167.7 35.7M169.9 38.6L168.1 33.7M170.5 37.5L170.1 36.5M180 36.1L178.8 31.2M181.9 35.6L181.4 33.5M186.4 34.1L186 31.6M188.2 33.2L188.1 32.4" stroke="#4a9af4" stroke-width="1.1" stroke-dasharray="1.6 .4 1.2 .5 2 .4 .9 .6" fill="none"/>
<path d="M205 27.6L205 25.2M207.8 31.1L208 26.5M208.7 32.8L208.8 30M209.7 31.4L209.8 30.1M210.7 30.9L211.2 25.6M213.5 32.2L213.8 29.5M214.6 31.1L215 28.4M216.6 31.3L217.3 26.3M220.5 31.8L221.2 28.1M224.7 34.9L225.6 31.4M232 34.1L233.3 30M232 37.3L233.3 33.3M237.8 35.5L238.1 34.9M241.8 36.2L243 33.6M243.5 34.8L243.9 34M243.9 36.5L244.8 34.4M243.5 42L245.6 37.5M254.2 45.3L256.1 42.4M254.4 50.3L256.1 47.7M256.6 52L257.7 50.5M258.7 52.3L260.1 50.4M260.9 55.6L263.4 52.6M262.6 56.5L263.1 56M267.4 58.3L269.9 55.6M267.6 60.7L268.8 59.5M267.8 61.9L268.3 61.4M269.8 62.5L270.6 61.7M270.9 62.8L275.1 58.8M272.5 66.4L274 65.1M277.2 67.5L278.6 66.3M277.8 68.2L278.3 67.8M283.4 66.4L284 66M281.6 76.2L282.8 75.5M284.1 79.2L286.4 77.8M287.6 78.3L290.8 76.4M284.5 82.2L288.3 80.1M285 83L285.5 82.8M287.5 87.1L289.6 86.1M288.3 87.8L292.7 85.7M289.9 89.1L291.3 88.5M288 91L289.7 90.3M288.2 91.9L290.8 90.8M294.7 93.6L295.8 93.1M291.1 95.8L292.6 95.3M292.5 100.4L294.8 99.7M294.1 102.9L297.9 101.9M299.6 103.6L300.5 103.4M292.3 109L293.1 108.9M293.1 109.8L294.5 109.6M292.2 110.9L293.1 110.8M293.2 115.4L294.6 115.3M293.9 119.1L295.4 119M293.4 124.7L294.3 124.7M293.2 125.6L295 125.6M293.9 132.1L295.7 132.2M293.2 132.9L295 133.1M293.2 133.9L293.7 133.9M293.6 138.6L295.2 138.8M300.7 146L302.3 146.3M293.1 145.5L295.7 146M291.1 149.8L293.8 150.5M292.5 152.1L296 153.1M291.1 153.6L293.5 154.4M288.5 160.7L290.1 161.3M283.3 168.5L284.8 169.3M283.8 170.8L284.7 171.4M284.7 181.3L286.9 182.7M279.1 178.7L280.1 179.3M277.6 179.9L278.4 180.5M275.3 186.5L278.1 188.7M274.2 188L275 188.7M271 190.2L273.2 192.3M268.1 192.6L270.9 195.5M266.6 193.9L268.1 195.4M266.1 194.6L267.3 196M264.6 194.4L265.4 195.3M263.6 196.1L264.6 197.3M261.8 199.4L262.7 200.6M262.4 201.7L265.2 205.3M260.6 201.1L262 202.8M259.3 200.9L259.8 201.6M256.2 201.4L257.1 202.6M256.8 203.9L257.6 205M252.6 206.2L254 208.4M253 208.6L254.5 211.1M250.4 208.1L250.9 208.9M247.7 209.1L249.7 212.8M238.6 211.9L239.9 214.9M237.7 219L238.7 221.8M234.7 219.5L235.2 221M230.6 216.3L230.8 217.2M226.5 215.8L226.7 216.5M224.9 217L225.3 218.7M222.1 217.4L222.8 220.7M220.5 218.9L221 221.6M217.8 226.6L217.9 227.2M215.5 218L216.1 221.8M214.6 218.3L215 220.9M211.9 219.2L212 220.4M209.1 219L209.4 222.5M206.6 225.3L206.6 227.2M205.5 223.3L205.6 226.9M204.5 223.8L204.6 228.4M185.8 223.4L185.2 226.9M185.9 217.3L185.6 219M178.7 220.2L177.4 225.2M177.7 220.2L177.3 221.7M175.2 218.4L174.8 219.6M173.1 218.7L172.8 219.6M172.2 215.1L171.2 218M170.4 214.7L168.9 218.7M161.4 213.8L160.1 216.5M161 212.3L160.6 213.1M159.1 210.2L157.2 213.7M150.1 208.3L148.6 210.6M149.9 206.7L146.9 211.4M148.3 207.4L145.9 211.1M147.9 204.6L144.3 209.7M145.4 204.8L142.5 208.7M143.2 201.3L139.4 206M141.7 200L137.6 204.9M139.2 201.5L136.8 204.2M137.8 201.6L136.1 203.6M139.5 198.1L137.2 200.7M135.4 198.1L133 200.8M136.5 195.6L134 198.2M133.3 194.7L130 197.9M134 192.7L132.2 194.4M130.5 194.6L128.6 196.4M129.4 194.3L127.9 195.7M129.8 192.6L127.2 194.9M129.7 191.3L128.2 192.7M128.8 189.5L127.1 191M129.7 186.2L127 188.4M124.1 182L120 184.9M122.3 182.1L118.9 184.4M120.5 182.1L118.3 183.6M120.2 181.1L117.8 182.7M121.2 179.3L117.2 181.9M121.1 169.7L119.7 170.4M116.6 166.6L115 167.4M117.1 165.3L113.5 167M108.3 155L105.2 155.9M112 151.9L110.2 152.4M110.2 151.4L106.2 152.4M110.8 150.2L107.4 151.1M109.6 143.6L104.3 144.6M109.4 140.7L105.3 141.4M107.4 140.1L106.1 140.2M105.7 130.6L101.6 130.8M106.3 124.7L103.5 124.7M106.8 121.8L101.1 121.5M102.4 119.5L101.3 119.5M103.3 113.7L101.9 113.5M109.1 109.6L106.7 109.1M107.4 100.1L104.8 99.4M114.6 91.5L110 89.7M113.7 88L109.5 86.2M112.4 86.3L109.9 85.2M115.7 86.8L113.9 85.9M122.4 83.4L120.3 82.2M121.5 79.7L120.1 78.8M122.3 79L120.2 77.8M125 77.4L122.3 75.7M129.5 61.8L128 60.5M132 62.7L128.5 59.5M131.8 61.2L130.7 60.2M130.5 58.7L128.8 57M136.7 61L133.5 57.8M137 59.9L134.9 57.8M136.6 56.8L132.9 52.9M139.6 55.8L135.9 51.5M140 54.7L138.3 52.8M141.4 54.8L139.6 52.7M142.8 55L140.8 52.7M142.9 52.1L141 49.7M143.7 45.4L143.1 44.5M151.4 49.6L149.3 46.5M152.5 49.6L150.6 46.7M153.3 49.1L153 48.6M157 43.2L154.8 39.1M158.2 43.4L157.8 42.7M160.6 39.6L158.5 35.3M164.6 38.3L163.5 35.9M166.4 40.1L165.3 37.6M167.7 40.8L166.8 38.7M168.1 39.3L167.2 36.9M172.9 32.3L172.7 31.6M175.7 38.2L174.8 35.3M176.9 35.5L175.9 31.8M181.2 37.1L180.8 35.3M183.1 36.7L182.7 35.1M182.7 30.2L182.1 27.6M184.6 34.6L184.2 33M187.1 32.2L186.8 30.7M189.3 34.5L188.7 30.3" stroke="#4a9af4" stroke-width="1.1" stroke-dasharray="1.1 .5 1.8 .4 .9 .6 1.5 .4" fill="none"/>
<path d="M205.9 28.6L206.1 25.3M217.2 33.4L218.3 26.4M223.5 31.4L224.4 27.6M235.5 36L237.2 31.3M235.9 43L240.1 32.4M249.5 41.7L251.7 37.8M255.5 50.3L260.4 43.2M258.6 49.2L262.1 44.4M262 51.2L265.4 46.9M263.9 51.9L267 48.2M271.2 57L273.9 54.4M275.2 58.7L276.7 57.3M277.6 64.6L280.8 62M279.6 65.6L282.1 63.5M279.7 70.4L284.6 66.8M293.9 85.2L295.1 84.7M291 90.8L296.7 88.5M291.8 91.5L297.1 89.4M292.8 97.3L299.2 95.2M294.3 97.8L299.5 96.2M292.8 99.3L299.8 97.2M298 99.8L300.4 99.1M296.3 103.3L301.2 102.1M294.7 111.5L302.8 110.1M297.7 112.9L303.1 112.1M301.2 117.5L303.7 117.2M298.7 121.6L304.1 121.3M294.8 122.8L304.1 122.4M294.7 124.6L304.2 124.4M294.8 127.4L304.2 127.5M296.9 130.3L304.1 130.6M296.1 134.1L303.9 134.7M298.3 139.2L303.4 139.8M293.9 139.5L303.2 140.8M300.6 144.9L302.5 145.3M297.8 153.6L300.4 154.3M296.2 161.5L297.9 162.1M291.5 168.2L294.7 169.7M286.7 172.4L291.9 175.2M283.6 172.9L290.9 177M282.6 176.5L288.9 180.4M282.8 187.3L283.7 188M278.6 186.6L282.4 189.6M279.4 191.1L280.5 192M273.8 188.9L279.2 193.6M272.9 190.7L277.8 195.1M263.8 202L266.8 205.6M259.1 207.2L261 209.9M256.7 205.4L260.2 210.5M254.9 211.7L255.9 213.3M242.1 208.5L246.9 218.2M243.4 215.6L245 219.1M240.2 215.7L242.2 220.4M232.2 218.2L233.9 223.5M226.5 219.7L228 225.2M212.7 217.8L213.8 227.8M205.6 227.1L205.7 228.4M187.1 221.7L186.2 227.1M185.4 220L184.2 226.7M175.8 223.4L175.5 224.7M166.3 212.3L162.8 220.3M159.7 217.4L159.1 218.6M143.4 205.8L141.7 208.1M142.3 205.6L140.8 207.5M141.1 202.3L138.4 205.6M132.6 198.2L131.5 199.4M130.9 195.6L129.3 197.2M125.5 191L124.5 191.8M118 171.3L112.7 174.1M115.6 163.9L109.2 166.7M116.3 161.6L108.4 164.8M116.4 160.5L108 163.8M103.7 143.6L102.4 143.9M103.5 126.7L101 126.7M105 120.7L101.2 120.5M105.6 108.9L102.7 108.4M109.1 103.6L104 102.4M110.5 92L107.5 90.9M111 91.2L107.9 90M115.3 84.4L111.2 82.4M113 82.2L111.7 81.5M138 50.9L136.8 49.4M140.5 49.2L139.1 47.5M144.5 44.7L143.9 43.9M148.5 45.2L146.5 42.1M155.3 44.1L152.1 38.6M155.7 42.9L153 38.1M162.7 36.5L161.5 33.9M166.7 35.8L165.3 32.3M166.6 32.8L166.3 31.9M169 33.4L168.2 31.2M174.1 32.9L173.1 29.6M178.5 33.9L177.1 28.5M184 31.9L183.1 27.1M186.6 29.5L186.1 26.5M187.6 29.2L187.1 26.4" stroke="#4a9af4" stroke-width="1.1" stroke-dasharray=".6 1.6 .5 2.3 .6 3.4 .5 4.1" fill="none"/>
<path d="M206.6 35.4L207.1 25.3M212.8 29.8L213.2 25.8M224.9 30L225.4 27.8M246.9 41.6L249.5 36.7M249.4 43.9L252.6 38.3M251.5 44.2L254.3 39.4M257 46.4L259.6 42.7M260.1 48.9L262.9 45M264.1 54.7L268.6 49.5M264.5 55.8L269.3 50.2M272.8 58.2L275.3 55.8M272.1 60.3L276 56.6M273.8 62.7L278.1 58.8M273.2 64.5L278.8 59.6M276 63.4L279.5 60.4M278.3 67.8L282.7 64.4M284.4 74.5L288.2 72M281.9 77.2L288.7 72.9M286.9 75.2L289.3 73.8M288.7 79.9L291.8 78.2M286.8 82.1L292.3 79.1M288.2 83.5L293.3 81M285 86.2L293.7 81.9M291.9 93.5L297.8 91.3M297.3 92.6L298.2 92.3M294.2 94.8L298.5 93.3M298.6 100.7L300.6 100.1M300 101.4L300.9 101.1M297.4 112L303 111.1M297.3 114.9L303.4 114.2M296.3 123.7L304.1 123.4M297.3 126.5L304.2 126.5M299.4 131.4L304.1 131.6M297.5 133.2L304 133.7M293.7 140.4L303.1 141.9M295.8 146L302.1 147.3M296.7 154.3L300.1 155.3M295.3 154.9L299.8 156.3M293.2 157.3L298.9 159.2M290.3 160.3L297.5 163.1M286.8 165L295.1 168.8M279.9 177L287.8 182.1M279.9 182.7L284.9 186.4M275.1 188.8L279.8 192.8M272 188.6L278.5 194.4M270.9 192.8L275.7 197.4M267.4 196.1L272 201M266.1 196.1L271.3 201.7M260 201.9L264.4 207.5M260.6 204.2L263.5 208.1M260 205L262.7 208.7M245 207.9L249.6 216.9M245.2 210.4L248.7 217.3M245.4 217.5L245.9 218.7M239.2 215.9L241.2 220.8M236.2 218L237.8 222.1M231.2 218.4L232.9 223.8M223 221.9L224 226.1M222 221.9L222.9 226.3M221.2 222.7L221.9 226.5M216.4 223.9L216.9 227.4M207.4 223L207.7 228.3M202.6 226.4L202.6 228.4M196.5 226.6L196.4 228.2M188.2 220.8L187.2 227.2M181.6 221L180.4 226M178.9 223.7L178.4 225.5M177.2 222.3L176.4 225M172.2 218.2L170.5 223.2M154.5 212.5L152.9 215.4M151.9 211L150.2 213.8M133.4 196L130.7 198.6M126.3 189L123.9 191M121.8 173.6L114.7 177.7M116.2 162.6L108.8 165.7M111.7 160.3L107.3 161.9M105.6 151.5L104.2 151.9M106.4 142.2L102.3 142.8M103.6 141.6L102.1 141.8M103 125.7L101 125.6M102.4 124.6L101 124.6M106.6 110.1L102.5 109.4M109.4 105.7L103.5 104.4M110.2 94L106.8 92.8M111 84.6L110.3 84.3M119.4 75L116.3 73.1M121.9 75.4L116.9 72.2M123.6 75.4L117.5 71.4M125.4 75.4L118 70.5M127.6 75.8L118.6 69.7M125.7 72.2L119.8 68M121.5 68L120.4 67.1M130.1 59.6L128.1 57.8M134.1 57L131.4 54.3M139.6 49.7L138.3 48.1M147.3 46.9L144.8 43.3M156.3 39.8L154.8 37.1M165 36.7L163.4 33.1M171.9 38.5L169.2 30.8M176.9 38.8L174.1 29.3M188.5 28.5L188.2 26.2" stroke="#4a9af4" stroke-width="1.1" stroke-dasharray=".5 2.1 .7 1.7 .5 3.8 .6 2.9" fill="none"/>
<path d="M203.9 32.2L204 25.2M208.9 28.7L209.1 25.4M210 27.4L210.2 25.5M214.2 26.8L214.3 25.9M215 27.8L215.3 26M215.3 33.4L216.3 26.1M238.2 39.8L241.1 32.8M250.6 43.7L253.5 38.8M263.3 54.2L267.8 48.9M269.5 54.6L271.6 52.2M271.2 54.2L272.4 53M271.2 55.6L273.1 53.7M275 65.6L280.2 61.2M273.1 69.6L281.5 62.7M278.8 68.7L283.4 65.2M281.3 70.5L285.2 67.7M291.9 85L294.6 83.7M292.1 88.2L295.9 86.6M291.3 89.6L296.3 87.5M293 92.1L297.4 90.4M298.1 113.9L303.3 113.2M297.1 119.8L303.9 119.3M294.3 141.5L302.9 142.9M293.9 146.6L301.9 148.3M295.4 148.9L301.4 150.3M298.4 152.7L300.7 153.3M298.7 157L299.5 157.3M296.5 157.4L299.2 158.3M287.2 161.1L296.7 165M290.1 164.4L295.9 166.9M292.3 166.4L295.5 167.9M285.3 168.5L293.3 172.5M287.7 174.1L291.4 176.1M282.9 175.5L289.5 179.5M282.5 181L286.7 183.8M280.1 190.4L281.1 191.2M272.4 192.9L276.4 196.6M271.7 196.3L274.2 198.9M265.1 196.4L270.5 202.4M264.9 197.6L269.7 203.1M255.8 207.6L258.5 211.7M251.4 207.8L255 213.8M250.7 212.4L252.3 215.4M249.8 213L251.4 215.9M242.1 217.5L243.1 220M234.6 216.3L236.8 222.5M233.1 217.9L234.9 223.1M229.7 216.6L231.9 224.1M226 221.5L227 225.4M220.3 223L220.9 226.7M212 220.6L212.8 227.9M197.6 224.8L197.4 228.3M195 220L194.3 228.1M194 220.5L193.3 228M192.9 222.3L192.3 227.9M182.8 219.9L181.4 226.2M180.5 221.4L179.4 225.7M174.4 221.1L173.5 224.1M171.8 222.5L171.5 223.5M170.1 221.3L169.6 222.9M168.7 219.2L167.6 222.2M163.7 215.8L161.9 219.9M164.3 212L161 219.5M162.6 213.5L160 219M154.9 215.9L154.7 216.4M153.4 204.9L148.4 212.8M130 189.7L125.8 193.4M127 185.9L122.6 189.4M123.7 184.8L120.7 186.9M122.5 184.4L120.1 186.1M118.9 174.1L114.2 176.8M117.2 173.9L113.7 175.9M117.8 172.5L113.2 175M121.1 168.6L112.2 173.2M110.8 168.2L110 168.6M106.8 154.3L105 154.9M109.6 152.5L104.7 153.9M104.6 148.7L103.4 148.9M106.3 147.2L103.2 147.9M104.8 146.5L103 146.9M111.3 144.3L102.8 145.9M104.8 133.6L101.2 133.9M104 131.7L101.1 131.8M110 112.6L102.2 111.4M109.2 101.6L104.5 100.4M121 81.6L113.7 77.5M117.8 77.5L114.8 75.8M119.9 77.6L115.3 74.9M120.6 76.9L115.8 74M126.8 68.5L122.1 64.8M133.5 57.7L130.7 55M137.8 52.1L136 50.1M138.9 50.4L137.5 48.8M149.7 45.2L147.3 41.6M171.9 35.7L170.2 30.5M172.6 31.4L172.1 29.9M180.5 34.1L179.1 28M182.1 32.4L181.1 27.5M184.4 28.6L184.1 26.9M185.6 29.6L185.1 26.7" stroke="#4a9af4" stroke-width="1.1" stroke-dasharray=".7 1.3 .5 3.2 .5 2.4 .6 4.5" fill="none"/>
<path d="M203.8 37.6L203.9 35.9M204.7 37.6L205 27.6M205.6 37.7L205.8 32.5M206.5 37.7L206.6 36.7M207.4 37.7L207.8 31.1M208.3 37.8L208.7 32.8M209.2 37.8L209.7 31.4M210.1 37.9L210.7 30.9M211 38L211.8 30.1M211.9 38.1L212.7 31.1M212.8 38.2L213.5 32.2M213.7 38.3L214.6 31.1M215.5 38.5L216.6 31.3M216.4 38.7L216.5 38.2M217.3 38.8L218.8 29.6M218.2 39L218.3 38.3M219.1 39.1L220.5 31.8M220 39.3L221.7 30.4M220.9 39.5L222.3 32.5M221.7 39.7L222.6 35.7M222.6 39.9L223.6 35.5M223.5 40.1L224.7 34.9M227.9 41.3L229.5 35.7M228.7 41.5L230.3 36.2M229.6 41.8L232 34.1M230.4 42.1L232 37.3M231.3 42.3L233.9 34.8M232.2 42.6L235.4 33.4M233 42.9L233.6 41.3M233.9 43.3L234.8 40.8M234.7 43.6L237.8 35.5M236.4 44.2L236.8 43.3M237.2 44.6L240 37.9M238 44.9L241.8 36.2M238.9 45.3L243.5 34.8M239.7 45.7L243.9 36.5M240.5 46.1L243.5 39.7M241.3 46.4L243.5 42M242.1 46.8L245.3 40.5M242.9 47.2L243.2 46.7M243.7 47.7L244.3 46.6M245.7 48.7L248 44.4M246.5 49.1L246.9 48.3M247.2 49.6L249.9 45M248 50L249.6 47.4M248.8 50.5L250.4 47.8M249.6 51L252.9 45.6M250.3 51.4L254.2 45.3M251.1 51.9L253.6 48M251.9 52.4L253.7 49.7M252.6 52.9L254.4 50.3M254.1 54L260.4 45.1M254.8 54.5L256.6 52M255.6 55L258 51.7M256.3 55.6L258.7 52.3M257 56.1L261.5 50.3M257.7 56.7L261.2 52.2M259.1 57.8L260.9 55.6M259.8 58.4L262.2 55.5M260.5 58.9L262.6 56.5M261.2 59.5L261.5 59.2M261.9 60.1L265.2 56.4M262.5 60.7L267.9 54.8M263.2 61.3L267.6 56.6M263.9 62L267.4 58.3M264.5 62.6L268.6 58.4M265.2 63.2L267.6 60.7M265.8 63.9L267.8 61.9M266.4 64.5L270.3 60.7M267.1 65.1L269.8 62.5M267.7 65.8L270.9 62.8M268.3 66.5L272.7 62.4M268.9 67.1L269.8 66.4M269.5 67.8L269.8 67.5M270.1 68.5L272.5 66.4M270.7 69.2L272.6 67.6M271.3 69.9L274.4 67.2M272.4 71.3L277.2 67.5M273 72L277.8 68.2M273.5 72.7L278 69.2M274.1 73.4L283.4 66.4M274.6 74.1L277.7 71.9M275.1 74.9L278.7 72.3M276.7 77.2L281.7 73.9M277.2 78L282.9 74.3M277.7 78.7L281.6 76.2M278.2 79.5L280.6 78M278.7 80.3L281.9 78.3M279.2 81L283.2 78.6M279.6 81.8L284.1 79.2M280.1 82.6L287.6 78.3M281 84.2L284.5 82.2M281.4 85L285 83M281.8 85.8L285.3 84M282.2 86.6L285.8 84.7M283 88.2L288.1 85.7M283.4 89L287.5 87.1M283.8 89.8L288.3 87.8M284.5 91.5L289.9 89.1M284.9 92.3L288 91M285.2 93.1L288.2 91.9M285.5 94L289.5 92.4M285.9 94.8L289.8 93.3M286.2 95.7L287.5 95.2M286.5 96.5L294.7 93.6M286.8 97.4L291.1 95.8M287.1 98.2L298.2 94.5M287.4 99.1L290.7 98M287.7 99.9L290.7 99M287.9 100.8L288.5 100.6M288.2 101.7L292.5 100.4M288.4 102.5L293.7 101M288.7 103.4L293.3 102.1M288.9 104.3L294.1 102.9M289.1 105.1L292.6 104.3M289.3 106L299.6 103.6M289.6 106.9L293.7 105.9M290.1 109.5L292.3 109M290.3 110.4L293.1 109.8M290.4 111.3L292.2 110.9M290.6 112.1L292.3 111.9M290.7 113L292.4 112.8M290.9 113.9L294.5 113.4M291 114.8L294.5 114.3M291.1 115.7L293.2 115.4M291.2 116.6L293.1 116.4M291.4 118.4L300 117.6M291.5 119.3L293.9 119.1M291.6 120.2L293.4 120.1M291.6 121.1L294.4 120.9M291.7 122L294.8 121.8M291.7 123.8L293.4 123.8M291.8 124.7L293.4 124.7M291.8 125.6L293.2 125.6M291.8 126.5L294.2 126.5M291.8 128.3L295.5 128.4M291.8 129.2L294.8 129.3M291.7 130.1L294.1 130.2M291.7 131L295.2 131.2M291.7 131.9L293.9 132.1M291.6 132.8L293.2 132.9M291.5 133.7L293.2 133.9M291.5 134.6L299.2 135.3M291.4 135.5L294.9 135.9M291.3 136.4L295.3 136.9M291.2 137.3L294.2 137.7M291.1 138.2L293.6 138.6M290.9 139.1L291.3 139.2M290.8 140L292.5 140.3M290.7 140.9L292.2 141.2M290.3 143L295.1 143.9M290.1 143.9L300.7 146M290 144.8L293.1 145.5M289.8 145.7L290.3 145.8M289.4 147.5L292.5 148.2M289.2 148.3L291.2 148.9M288.9 149.2L291.1 149.8M288.7 150.1L292.2 151M288.5 151L292.5 152.1M288.2 151.8L295.4 153.9M288 152.7L291.1 153.6M287.7 153.6L294.9 155.8M287.4 154.4L295.4 157M287.1 155.3L290.2 156.3M286.8 156.1L297.1 159.7M286.5 157L290.3 158.3M286.2 157.8L290.8 159.5M285.9 158.7L288.9 159.8M285.6 159.5L288.5 160.7M284.9 161.2L294.8 165.3M284.6 162L287.1 163.1M284.2 162.8L286.9 164M283.8 163.7L284.4 163.9M283.4 164.5L286.4 165.8M282.7 166.1L291.7 170.6M282.3 166.9L284 167.8M281.9 167.7L283.3 168.5M281.4 168.5L290.4 173.3M281 169.3L283.8 170.8M280.6 170.1L284 172M280.1 170.9L280.6 171.1M278.9 173.1L280.9 174.3M278.4 173.8L279.4 174.5M276.9 176.1L284.7 181.3M276.4 176.9L279.1 178.7M275.9 177.6L278.2 179.2M275.4 178.4L277.6 179.9M274.9 179.1L275.5 179.5M274.3 179.8L277.2 181.9M273.8 180.5L279.7 185M272.7 182L275.9 184.5M272.1 182.7L274.8 184.8M271.6 183.4L275.3 186.5M271 184.1L278.3 190.2M270.4 184.8L274.2 188M269.8 185.4L270.4 186M268.6 186.8L268.9 187M268 187.5L271 190.2M267.4 188.1L270.3 190.9M266.8 188.8L270 191.9M266.1 189.4L274.7 197.8M265.5 190.1L268.1 192.6M264.8 190.7L266.7 192.6M264.2 191.3L266.6 193.9M263.5 191.9L266.1 194.6M262.9 192.6L264.6 194.4M261.5 193.8L263.6 196.1M260.9 194.4L264.4 198.4M258.9 196L261.8 199.4M258.2 196.5L262.4 201.7M257.5 197.1L260.6 201.1M256.8 197.6L259.3 200.9M256.1 198.2L258.6 201.6M255.4 198.7L257.5 201.7M254.6 199.2L256.2 201.4M253.9 199.8L256.8 203.9M253.2 200.3L256 204.4M252.4 200.8L258.4 209.7M251.7 201.3L255 206.4M250.1 202.3L252.6 206.2M249.4 202.8L253 208.6M248.6 203.2L250 205.5M247.8 203.7L250.4 208.1M247.1 204.1L252.8 214.1M246.3 204.6L249 209.5M245.5 205L247.7 209.1M244.7 205.4L246.4 208.6M243.1 206.3L243.3 206.7M242.3 206.7L243.2 208.6M240.6 207.5L242.2 210.7M239.8 207.9L240.1 208.4M239 208.2L241.3 213.2M238.2 208.6L240.1 213.1M237.4 209L238.6 211.9M236.5 209.3L238 212.8M234.3 210.2L237.7 219M233.5 210.5L235 214.5M232.6 210.8L233.6 213.4M231.8 211.1L234.7 219.5M230.9 211.4L231.9 214.2M230.1 211.7L230.8 214.1M229.2 211.9L230.6 216.3M228.3 212.2L228.7 213.3M226.6 212.7L229.3 222.3M225.7 212.9L226.5 215.8M224.9 213.2L225.4 215.4M224 213.4L224.9 217M223.1 213.6L225.2 222.5M222.2 213.8L223.2 218.2M221.3 214L222.1 217.4M220.5 214.2L221.2 218M219.6 214.4L220.5 218.9M218.7 214.5L219.3 217.7M217.8 214.7L218.4 218M216 215L217.8 226.6M215.1 215.1L215.5 218M214.2 215.2L214.6 218.3M212.4 215.5L212.5 216.1M211.5 215.6L211.9 219.2M208.9 215.8L209.1 219M208 215.8L208.5 223.6M207.1 215.9L207.1 216.6M206.2 215.9L206.6 225.3M205.3 216L205.5 223.3M204.4 216L204.5 223.8M203.5 216L203.6 224.8M202.6 216L202.6 221.8M198.1 215.9L197.8 220.1M197.2 215.8L196.7 223.4M196.3 215.8L195.8 222.4M195.4 215.7L195.2 217.1M194.5 215.6L194.4 215.9M193.6 215.5L193.5 216.2M192.7 215.4L192.6 215.9M191.8 215.3L190.6 225M190.9 215.2L190.8 215.6M190 215.1L188.3 227.1M188.2 214.8L187.5 219M187.3 214.7L185.8 223.4M186.4 214.5L185.9 217.3M184 214L183.1 218.6M183.1 213.9L183 214.6M182.3 213.7L181 219.2M181.4 213.4L180.1 218.7M180.5 213.2L178.7 220.2M179.6 213L177.7 220.2M178.8 212.8L176.7 220.1M177 212.3L175.2 218.4M176.2 212L175 215.8M175.3 211.7L173.1 218.7M173.6 211.2L172.2 215.1M172.7 210.9L171.2 215.1M171.9 210.5L170.4 214.7M171 210.2L168.3 217.4M170.2 209.9L167.2 217.6M169.4 209.6L167.7 213.7M168.5 209.2L166.9 213.1M167.7 208.9L167.4 209.5M166.9 208.5L166.4 209.6M166 208.2L165.8 208.7M165.2 207.8L164.9 208.6M164.4 207.4L161.4 213.8M163.6 207L161 212.3M161.3 205.9L159.1 210.2M160.5 205.4L156.8 212.4M159.7 205L155.7 212.4M158.9 204.6L155.2 211.2M158.1 204.1L153.5 212.2M157.4 203.7L152.3 212.2M156.6 203.2L154.4 206.9M155.8 202.7L152.3 208.4M155.1 202.3L154.7 202.8M154.3 201.8L150.1 208.3M153.5 201.3L149.9 206.7M152.8 200.8L148.3 207.4M152 200.3L151.1 201.6M151.3 199.8L147.9 204.6M150.6 199.2L145.6 206.1M149.8 198.7L145.4 204.8M149.1 198.2L144.7 204.1M148.4 197.6L144.9 202.2M147.7 197.1L142.5 203.7M147 196.5L143.2 201.3M146.3 196L145.4 197.1M145.6 195.4L141.7 200M144.9 194.8L139.2 201.5M144.2 194.2L137.8 201.6M143.5 193.6L139.5 198.1M141.5 191.7L135.4 198.1M140.8 191.1L136.5 195.6M140.2 190.5L135.3 195.5M139.5 189.9L134.9 194.5M138.9 189.2L133.3 194.7M138.3 188.6L134 192.7M137.6 187.9L130.5 194.6M137 187.3L129.4 194.3M136.4 186.6L129.8 192.6M135.8 185.9L129.7 191.3M135.2 185.2L132 188M134.6 184.6L128.8 189.5M134 183.9L130.9 186.5M133.5 183.2L129.7 186.2M132.9 182.5L126.6 187.5M132.3 181.8L131.7 182.3M131.8 181L124.7 186.5M131.2 180.3L125.1 184.9M130.7 179.6L126 183.1M130.2 178.9L126 181.9M129.6 178.1L124.1 182M129.1 177.4L122.3 182.1M128.6 176.6L120.5 182.1M128.1 175.9L120.2 181.1M127.6 175.1L121.2 179.3M125 170.7L122 172.4M124.5 169.9L120.1 172.4M124.1 169.1L121.1 170.8M123.7 168.3L121.1 169.7M123.2 167.5L123 167.7M122.8 166.7L120.4 168M122 165.1L118.4 166.8M121.7 164.3L116.6 166.6M121.3 163.5L117.1 165.3M120.9 162.6L120.5 162.8M120.2 161L119.7 161.2M119.9 160.1L119.4 160.3M119.5 159.3L119.2 159.4M119.2 158.5L115.9 159.7M118.9 157.6L115.4 158.9M118.6 156.8L113.8 158.5M117.1 152.3L108.3 155M116.9 151.5L111.3 153.1M116.6 150.6L112 151.9M116.4 149.7L110.2 151.4M116.2 148.8L110.8 150.2M115.9 148L109.3 149.6M115.7 147.1L108.9 148.7M115.5 146.2L106 148.3M115.3 145.3L108.3 146.8M115.2 144.4L108.9 145.7M114.8 142.7L109.6 143.6M114.7 141.8L110.6 142.5M114.5 140.9L109.5 141.7M114.4 140L109.4 140.7M114.3 139.1L107.4 140.1M114.1 138.2L107.6 139M114 137.3L108.9 137.9M113.6 133L109.1 133.3M113.6 132.1L102.2 132.8M113.5 131.2L112.1 131.3M113.5 130.3L105.7 130.6M113.4 129.4L108.6 129.5M113.4 128.5L110 128.5M113.4 127.6L107.6 127.6M113.4 126.7L106.6 126.7M113.4 125.8L108.3 125.7M113.4 124.9L106.3 124.7M113.4 124L104.1 123.7M113.5 123.1L103.6 122.7M113.5 122.2L106.8 121.8M113.6 121.3L109.5 121M113.6 120.4L102.4 119.5M113.7 119.5L105.7 118.8M113.8 118.6L108 118M114.1 116L103.9 114.8M114.2 115.1L103.3 113.7M114.3 114.2L106.9 113.2M114.4 113.3L113.1 113.1M114.6 112.4L113.3 112.2M114.7 111.5L109.6 110.6M114.9 110.6L109.1 109.6M115.4 108L103.8 105.5M115.6 107.1L114.2 106.8M115.8 106.2L115.4 106.1M116 105.3L115.3 105.2M116.2 104.5L111.2 103.2M116.7 102.7L107.4 100.1M117 101.9L105.1 98.4M117.7 99.6L108.4 96.6M117.9 98.7L117.2 98.4M118.2 97.8L106.5 93.8M118.5 97L116.3 96.2M119.1 95.3L114.6 93.6M119.5 94.5L116.2 93.2M119.8 93.6L114.6 91.5M120.1 92.8L111.6 89.3M120.5 91.9L109.6 87.3M120.9 91.1L113.7 88M121.2 90.3L112.4 86.3M121.6 89.5L115.7 86.8M122 88.6L116.1 85.9M122.4 87.8L117 85.2M122.8 87L117.3 84.3M123.7 85.1L113.7 79.8M124.2 84.3L122.4 83.4M124.6 83.6L122.8 82.6M125.5 82L121.5 79.7M125.9 81.2L122.3 79M126.4 80.4L125.4 79.8M126.9 79.7L122.7 77.1M127.4 78.9L125 77.4M127.8 78.1L124.9 76.2M128.8 76.6L128.1 76.1M129.4 75.9L128.8 75.5M129.9 75.2L129.4 74.8M130.4 74.4L122.8 68.9M131.9 72.4L131.6 72.2M132.5 71.7L125.7 66.4M133 71L126.7 65.9M133.6 70.3L126.7 64.6M134.2 69.6L132.2 67.9M134.8 68.9L126.3 61.7M135.3 68.2L133.4 66.5M135.9 67.5L129.5 61.8M136.5 66.9L132 62.7M137.2 66.2L131.8 61.2M137.8 65.5L130.5 58.7M139.5 63.8L136.7 61M140.1 63.1L137 59.9M140.8 62.5L135.6 57.1M141.4 61.9L136.6 56.8M142.1 61.3L135 53.6M143.4 60.1L139.6 55.8M144.1 59.5L140 54.7M144.8 58.9L141.4 54.8M145.5 58.3L142.8 55M146.2 57.7L141.4 51.8M146.9 57.1L142.9 52.1M150.3 54.5L143.7 45.4M151.1 54L147.8 49.4M151.8 53.5L148.1 48.2M152.6 53L150 49.2M153.3 52.5L151.4 49.6M154.1 52L152.5 49.6M154.8 51.5L153.3 49.1M158.3 49.4L157.8 48.5M159.9 48.5L157 43.2M160.7 48.1L158.2 43.4M161.5 47.7L157.2 39.5M162.3 47.2L160.1 42.9M163.1 46.8L159.6 39.8M163.9 46.4L160.6 39.6M165.7 45.6L161.5 36.3M166.6 45.2L166.3 44.6M167.4 44.8L164.6 38.3M168.2 44.5L166.4 40.1M169.1 44.1L167.7 40.8M169.9 43.8L168.1 39.3M170.7 43.5L168.6 37.9M171.6 43.2L169.9 38.6M172.4 42.9L170.5 37.5M173.3 42.6L172.8 41.1M174.1 42.3L173.9 41.7M175.8 41.7L172.9 32.3M176.7 41.4L175.7 38.2M177.6 41.2L177.5 40.8M178.4 40.9L176.9 35.5M179.3 40.7L179.1 40M180.2 40.5L179 36M181.1 40.2L180 36.1M181.9 40L181.2 37.1M182.8 39.8L181.9 35.6M183.7 39.6L183.1 36.7M184.6 39.4L182.7 30.2M185.5 39.3L184.6 34.6M186.4 39.1L185 31.8M187.2 38.9L186.4 34.1M188.1 38.8L187.1 32.2M189 38.6L188.2 33.2M189.9 38.5L189.3 34.5" stroke="#1f74ea" stroke-width="1.1" fill="none"/>
<path d="M203.9 33L204 25.2M213.6 31.8L214.3 25.9M217 34.8L218.3 26.4M224.1 33.4L225.4 27.8M249 42.7L251.7 37.8M268.4 57.1L272.4 53M279.7 68L283.4 65.2M283 73L287.1 70.3M289.4 87.2L295.1 84.7M288.2 90.9L296.3 87.5M289 91.6L296.7 88.5M290.8 99.9L299.8 97.2M295.4 103.6L301.2 102.1M300.7 103.3L301.4 103.1M294.5 108.6L302.3 107.1M297 133.2L304 133.7M298.8 136.3L303.7 136.8M292.6 139.4L303.2 140.8M291.4 146L301.9 148.3M291.6 161.9L297.1 164.1M269.9 188L277.8 195.1M264.9 194.8L271.3 201.7M265.1 197.8L269.7 203.1M262.6 202L266 206.2M259.5 204.4L262.7 208.7M253.7 207.9L256.8 212.8M253.7 209.7L255.9 213.3M243.9 207.8L248.7 217.3M241.7 207.6L246.9 218.2M229.2 215.1L231.9 224.1M220.6 219.6L221.9 226.5M207.1 217.1L207.7 228.3M196.6 225.1L196.4 228.2M195 219.8L194.3 228.1M187.3 220.3L186.2 227.1M175.2 218.4L173.5 224.1M172.9 219.3L171.5 223.5M149 209.9L147.6 212.2M149.8 203.5L145 210.5M142.7 206.7L141.7 208.1M141.8 203L139.2 206.2M143.6 199.3L138.4 205.6M131.5 196.5L130 197.9M126.8 188.6L123.9 191M123.8 187.2L121.9 188.6M116.8 169.7L111.7 172.3M113.5 168.1L110.4 169.5M117.1 164.3L109.6 167.6M107.8 145.9L103 146.9M105.2 126.7L101 126.7M103.4 123.6L101.1 123.6M115 97.7L106.2 94.8M116.4 84.9L111.2 82.4M115.8 83.6L111.7 81.5M121.5 81.9L113.7 77.5M124.5 64.1L123.4 63.2M124.9 63.1L124 62.4M130.7 60.2L128.1 57.8M139.9 53.2L136.8 49.4M146.1 46.9L143.9 43.9M149.5 48.5L145.6 42.7M150 47.4L146.5 42.1M156.6 46.5L152.1 38.6M159.3 41.4L156.7 36.2M172 38.8L169.2 30.8M175.4 37.1L173.1 29.6M181.4 33.7L180.1 27.7" stroke="#1f74ea" stroke-width="1.1" stroke-dasharray=".6 1.6 .5 2.3 .6 3.4 .5 4.1" fill="none"/>
<path d="M209.8 30L210.2 25.5M214.7 30.5L215.3 26M215.1 34.8L216.3 26.1M216.6 31.3L217.3 26.3M230 34.1L231.4 29.4M234.2 33.8L235.3 30.6M245.9 43.4L249.5 36.7M250.5 44L253.5 38.8M249.8 47.1L254.3 39.4M252 45.2L255.2 39.9M254.9 42.4L256.1 40.4M257.1 51.3L262.1 44.4M260.1 50.5L263.7 45.7M271.6 59.4L275.3 55.8M274.3 61L277.4 58.1M275.9 66L280.8 62M279.8 65.4L282.1 63.5M281.9 78.3L289.3 73.8M283.9 81.5L291.3 77.3M285.3 81.8L291.8 78.2M287.3 82.9L292.8 80.1M291.2 84.3L294.2 82.8M289.8 92.3L297.1 89.4M295.2 101.6L300.6 100.1M294.6 105.7L301.6 104.1M295.3 110.4L302.6 109.1M297 121.7L304.1 121.3M298.9 131.4L304.1 131.6M296.6 138L303.5 138.8M293.2 141.3L302.9 142.9M295.3 152.9L300.4 154.3M290.1 164.4L295.9 166.9M283.8 168.7L292.9 173.4M285 171.5L291.9 175.2M280.4 181.9L285.5 185.5M276.4 184.9L282.4 189.6M275.5 185.4L281.8 190.4M267.4 194.7L272.8 200.3M266.1 194.7L272 201M262.5 200.3L266.8 205.6M259 207L261 209.9M251.5 208L255 213.8M250.7 212.5L252.3 215.4M239.2 213.2L242.2 220.4M225.4 219L227 225.4M223.6 219.8L225 225.9M217.6 219L218.9 227.1M185.3 220.6L184.2 226.7M176.7 220.3L175.5 224.7M166.8 213.3L163.8 220.7M165.9 213L162.8 220.3M159.5 215.4L158.2 218.2M151.4 210L149.3 213.3M141.2 205.4L140 206.8M133.8 198.4L132.2 200.1M130.2 183.4L122.6 189.4M123.1 185.2L120.7 186.9M120.2 183.6L118.9 184.4M107.5 154.1L105 154.9M107.1 147.1L103.2 147.9M106.4 133.5L101.2 133.9M105.8 120.8L101.2 120.5M105.6 118.8L101.3 118.4M106.7 113.1L102 112.5M112.6 106.4L103.5 104.4M106.4 99.8L104.8 99.4M114.6 85.2L110.8 83.3M121.5 78.6L115.3 74.9M126.9 74.2L119.2 68.8M133 66.1L126 60.1M131.9 62.6L127.4 58.5M135 59.2L130.7 55M136.9 59.9L131.4 54.3M134.4 55.8L132.2 53.6M139.8 54.5L136 50.1M142.1 51.1L139.1 47.5M146.9 46.3L144.8 43.3M161.5 36.2L160.6 34.3M165 36.8L163.4 33.1M173.8 41.4L170.2 30.5M176.2 32.9L175.1 29M184.7 30.2L184.1 26.9M189.2 33.4L188.2 26.2" stroke="#1f74ea" stroke-width="1.1" stroke-dasharray=".5 2.1 .7 1.7 .5 3.8 .6 2.9" fill="none"/>
<path d="M213.1 27.3L213.2 25.8M220.5 31.7L221.4 27M222.5 31.4L223.4 27.4M223 34L224.4 27.6M234.5 38.9L237.2 31.3M235.9 37.7L238.2 31.6M262.2 49.3L264.6 46.3M263.3 55.6L268.6 49.5M272.1 65.6L278.8 59.6M275.5 65.1L280.2 61.2M279.4 70.6L284.6 66.8M281.6 77.4L288.7 72.9M285.6 77.2L289.8 74.7M286.5 77.8L290.3 75.5M286.3 84.5L293.3 81M285.9 85.8L293.7 81.9M293.6 97L299.2 95.2M295.4 99.5L300.1 98.2M296.2 109.2L302.5 108.1M293.8 120L303.9 119.3M293.7 122.8L304.1 122.4M296.2 126.5L304.2 126.5M296.5 128.4L304.2 128.5M295.1 145.9L302.1 147.3M292.8 147.3L301.7 149.3M295.2 148.8L301.4 150.3M290.5 156.4L298.9 159.2M286.9 165.1L295.1 168.8M283.5 165.5L294.2 170.7M284.1 172.1L291.4 176.1M272 187.3L279.2 193.6M272.7 191.8L277.1 195.9M269.2 193.8L274.2 198.9M251.3 209.6L254.1 214.4M243.3 208.7L247.8 217.8M242.4 211.2L245.9 218.7M239 215.4L241.2 220.8M225.9 217.2L228 225.2M215.9 220.3L216.9 227.4M212.6 216.5L213.8 227.8M209.3 221.7L209.8 228.1M204.6 225.5L204.6 228.4M202.6 224.6L202.6 228.4M193.4 216.9L192.3 227.9M190.5 225.3L190.3 227.6M171.8 216.3L169.6 222.9M167.8 218.7L166.7 221.8M165.4 211.8L161.9 219.9M153.6 204.6L148.4 212.8M148 207.8L145.9 211.1M138.7 202.1L136.8 204.2M127.4 190.7L125.2 192.6M122 187.2L121.3 187.8M120 171.3L113.2 175M122.4 165.9L111.3 171.4M108.2 152.9L104.7 153.9M109.9 111.7L102.3 110.4M107.8 109.3L102.7 108.4M114 105.8L103.7 103.4M111.2 86.9L109.5 86.2M124.1 76.8L116.9 72.2M126.6 76.2L118 70.5M125.3 74.2L118.6 69.7M121.1 67.7L120.4 67.1M128.5 69.8L122.1 64.8M128.6 61L126.7 59.3M137.4 53.2L135.2 50.8M140.8 51.1L138.3 48.1M153.1 48.7L148.2 41M157.4 45.9L153 38.1M156.1 37.3L155.7 36.6M167.8 38.5L165.3 32.3M178.8 35L177.1 28.5M180.6 34.6L179.1 28" stroke="#1f74ea" stroke-width="1.1" stroke-dasharray=".7 1.3 .5 3.2 .5 2.4 .6 4.5" fill="none"/>
<path d="M205.8 33L205.8 31.8M208.5 35.5L208.5 34.5M209.7 31.8L209.8 30.8M210.5 33.8L210.6 32.9M213.3 34.5L213.4 33.4M214.4 32.8L214.5 32.1M216 35L216.1 34.4M228.3 39.8L228.7 38.5M241.7 36.4L242 35.8M242.9 41.1L243.2 40.3M247.9 44.6L248.2 44.1M248.4 49.4L249.1 48.2M251.5 47.9L252 47M253 49L253.7 47.9M252.7 51.1L253.4 50.2M253.1 52.1L253.5 51.7M257 53.1L257.7 52.2M258 53.3L258.7 52.4M264.7 56.9L265.4 56.1M264.9 58.1L265.6 57.3M264.9 59.5L265.8 58.5M267.1 62.6L268.1 61.6M276.7 70.3L277.7 69.5M276.8 73.7L277.7 73M279.5 77.6L280.3 77.1M280.4 78.1L281.5 77.5M281.3 78.6L282.4 78M282.3 79.2L283 78.7M283.2 84L283.8 83.6M283.3 85L283.9 84.7M287.4 87.1L288.1 86.8M286.4 91.7L286.9 91.4M288.7 92.7L289.7 92.3M289.8 98.3L291 97.9M289.1 99.5L289.9 99.2M291.1 101.8L292.2 101.5M291.8 102.5L292.7 102.3M291.8 104.5L292.7 104.2M291.3 111.1L292.5 110.9M292.2 113.7L293.5 113.5M294.4 114.4L295.6 114.2M293 115.5L293.9 115.4M293.3 119.1L294.3 119.1M294.1 128.4L295.4 128.4M293.9 129.3L294.6 129.3M293.8 130.2L294.5 130.2M293 132.9L294 133M292.4 138.4L293.3 138.5M290.9 149.7L291.6 149.9M291.1 150.7L292.2 151M286.7 159L288 159.5M283.7 167.6L284.7 168.1M282.3 170.1L283.2 170.5M278.8 178.5L279.3 178.9M272.8 184.4L273.4 184.9M269.8 190.4L270.6 191.2M266.1 192L266.7 192.6M265.8 194.3L266.3 194.9M260.2 200.6L260.9 201.5M257.2 199.6L257.6 200.1M255.3 200.2L256.1 201.3M256 202.7L256.3 203.2M251 203.6L251.6 204.5M249.8 205.1L250.3 206M247.5 208.8L247.9 209.4M239.8 210L240.1 210.6M239.5 211.6L239.8 212.2M237.9 210.3L238.4 211.5M233.4 213L233.8 214.2M233.3 215.4L233.6 216.5M231.5 213.2L231.7 213.7M225.4 215.3L225.6 216.1M219.2 217.2L219.4 218.3M214.4 216.2L214.5 217.4M211.9 218.9L212 219.9M209.1 218.4L209.1 219M206.5 223.1L206.5 223.9M203.5 219.1L203.5 220.3M197.9 219.3L197.8 220.5M196.1 218.3L196 219.6M188.6 224.9L188.5 225.4M180.2 218.1L180.1 218.8M177 219.1L176.9 219.6M176.2 215L176 215.6M174 215.9L173.8 216.4M167 212.9L166.6 214M161.4 213.8L160.9 214.8M155.5 206.8L155.2 207.3M155.1 205.6L154.8 206.2M153.5 206.4L152.8 207.6M152.1 203.5L151.7 204M148.8 206.7L148.4 207.3M146.6 204.7L146.3 205.2M145.8 204.2L145.4 204.7M142.1 199.6L141.7 200M135.2 194.2L134.2 195.2M133.4 189.3L132.5 190.1M134.1 186.2L133.2 187M133.2 184.6L132.8 184.9M129.1 185.5L128.7 185.8M129.1 180.8L128.6 181.1M127 181.1L126.3 181.7M121.3 179.2L120.4 179.8M122 170.3L121.4 170.6M122.2 169.1L121.3 169.6M114.6 158.2L113.8 158.5M112.4 150.8L111.5 151M111.9 146.1L110.7 146.3M113.3 142L112.3 142.2M110.4 128.5L109.3 128.6M111.6 122.1L110.6 122M104.7 105.7L104.1 105.6M113.1 101.7L112.3 101.5M117.5 89.6L116.7 89.3M121.4 86.3L120.3 85.8M122.6 83.5L122.1 83.2M122.8 80.5L122.2 80.1M130.9 69.2L130.1 68.6M130.5 67.7L129.8 67.2M130.8 62.9L130.2 62.4M138.9 59.2L138.4 58.6M142.9 55.1L142 54.1M148.4 51.9L148.1 51.4M151.5 49.8L150.8 48.7M162.3 43.2L162 42.6M165.1 39.4L164.5 38.2M166.6 40.6L166.4 40.1M167.8 41L167.4 40.2M169.4 40.1L169.1 39.1M177.8 38.5L177.4 37.2M183.2 37.4L183 36.3M183 31.5L182.7 30.5" stroke="#fff" stroke-width="1.1" fill="none" opacity=".85"/>
<path d="M204.5 46.4L204.6 43.4M208.1 41.2L208.3 39.2M210.8 48.7L211.2 45M211.8 47L212.2 43.5M218.1 48.7L218.4 47.4M219.7 48.9L219.9 48.2M221.1 46.6L222.1 42.2M225.4 49.7L226.5 45.8M229.7 49.7L230.6 47.1M230 51.2L231.2 47.8M236.6 50.4L238.3 46.6M237.1 51.4L239.1 46.9M237 55.4L238.5 52.4M245 55.2L246 53.4M245.1 61.2L245.5 60.6M254 60L255.1 58.6M251 65.1L251.8 64.2M255.4 67.4L257 65.6M261.8 72.5L264 70.4M264.5 72.2L268 69.1M263 74.6L264 73.7M263.3 78.5L264.6 77.5M267.9 78L272.7 74.4M265.9 81.5L269.2 79.1M268.4 83.7L269.2 83.2M267.5 86.2L269.3 85.1M273.2 85.6L276.6 83.6M271.8 87.3L275.7 85.1M270.8 90.6L272.5 89.7M273.8 90.8L274.8 90.3M275.5 92.7L279.9 90.6M274.1 94.2L275.5 93.6M275.9 96.9L276.7 96.6M276.1 98.6L277.4 98.1M277.6 99.7L281.2 98.4M277.1 101.6L279.9 100.6M277.6 103.9L278.7 103.6M280.4 103.9L284.9 102.6M285.5 106.1L286.2 105.9M278.7 114.1L280.6 113.8M283.7 116.6L285.9 116.4M279.2 119.6L280.6 119.4M280.6 122.6L281.9 122.5M279.3 123.5L281.3 123.4M280.2 125L282.9 124.9M279.4 132.8L279.9 132.8M278.4 134.3L279.7 134.4M278.4 135L280.1 135.2M277.8 146.3L279.4 146.7M277.2 147.8L279.4 148.4M276.3 150.8L277 151M275.1 152.9L277.7 153.8M274.5 153.5L275.3 153.8M275.5 154.7L276.5 155.1M275.6 156.4L276.6 156.8M274.3 156.8L275.3 157.2M272.1 161.8L274.7 163.1M271.7 162.5L273.5 163.4M269.5 168.3L271.8 169.7M272.3 171L273.3 171.7M266.6 168.3L267.5 168.9M265.3 172.2L267.7 173.9M264.1 173.2L265.6 174.3M258.6 182L259.4 182.8M255.3 186.7L255.9 187.4M255 187.6L255.4 188M250.9 187.3L251.2 187.7M249.2 193L249.5 193.5M247.6 192.2L249.6 195.1M245.9 191.1L246.3 191.7M245.4 191.8L245.8 192.4M242.1 195.5L244.2 199.1M240.7 194.7L241.2 195.5M240.3 195.5L240.9 196.6M239.5 204.9L240.1 206.2M235 197.4L235.4 198.3M230.9 206.1L231.3 207.2M225.8 201.2L226.3 202.7M223.1 203.3L223.9 206.2M220.7 203.3L221.1 205M220.8 207.4L221 208.3M216.9 204.9L217.5 207.8M216.2 205.5L216.5 207.2M215.4 205.9L215.7 207.3M214.5 204.8L214.7 206.3M213.5 203.4L213.8 205.8M210.5 205L210.7 207.5M208.2 205.9L208.6 211.6M203.4 206.9L203.4 210.6M189.7 205.7L189.5 206.9M188.7 206.7L188.3 209.1M184.5 204L184.4 204.7M183.3 202.5L183.1 203M182.5 202.4L181.6 205.8M181.1 204.5L180.2 207.7M178.4 204.8L176.9 209.8M177.1 203.4L176.2 206.2M170.9 203.4L170.2 205.2M171.7 199.5L170.5 202.2M170.7 197.7L169.1 201.3M163.2 197L162.3 198.6M163.1 195.6L160.2 200.6M162.1 195.6L160.4 198.6M159.6 196.5L157.6 199.9M158.6 196.7L155.8 201.1M158.6 193.5L157.4 195.4M158.1 193L156.3 195.5M155.8 194.8L152.9 199.1M154.5 189.6L150.5 194.8M145.5 191.4L144.4 192.6M139.4 186.3L138.6 187M142.9 181.9L138 186.3M135.3 179.5L133.4 180.9M134.9 178.7L132.9 180.2M138.3 175L135.1 177.4M133.1 173.6L129.8 175.9M132.3 173.1L131.1 174M135.3 165.7L134.8 166.1M133 160.7L132.2 161.1M124.3 161.2L122.9 161.8M131.6 155.4L130.2 156M128.7 154.8L127.5 155.3M123.4 149.6L118.2 151.1M120.3 145.1L116.9 145.9M123.7 141.9L119.1 142.8M123.1 138.7L118.3 139.4M124 132.3L121.9 132.4M123.4 131.5L122.4 131.6M123.2 130.7L119 130.9M121.8 130L117 130.2M120 129.2L114.8 129.3M117.7 128.4L114.8 128.5M122.8 126.7L122.2 126.7M122.2 124.2L120.4 124.2M122.2 114.5L118.8 114M120.2 113.3L115.9 112.6M122.5 112.9L118.7 112.2M122.4 112L119.8 111.5M120.9 106.6L117.4 105.7M124.9 106.7L119.8 105.4M125.2 102L119 100M126.7 97.2L122.9 95.8M122.1 94.5L121.1 94.1M125.1 94.8L122.9 93.9M123.6 93.3L121.8 92.5M129.4 93.1L124.9 91M130.9 92.9L127.1 91.1M128.5 89.9L124 87.6M133.2 88.3L132.6 88M135.1 87.6L133.9 86.9M136.3 86.5L133.6 84.8M136.1 83.5L133 81.5M140.5 81.8L137.9 79.8M141 76.3L139.5 75.1M141.6 75.8L137.3 72.2M138.2 69.5L137.7 69.1M149.3 66.6L148.3 65.6M149.6 65.8L148.9 65M152.9 65.9L151.3 64M156.9 62.2L156.3 61.4M157.5 60.2L156.7 59M158.7 57.6L155.8 53M167.7 56.2L165.3 51.3M171.5 54.5L170.4 52M174.4 53L172.7 48.7M175 52.4L173.8 49.3M179.5 50.8L179 48.9M180.3 50.4L179.9 49M180.3 47.5L179.5 44.7M182.1 47.9L181.3 44.7M183.3 49.4L182.5 46M187.5 49.5L186.8 45.9M187.9 47.7L186.9 41.8M189.6 48L189.3 45.6M190.4 47.5L190.1 45.6M191.5 49.7L191 46" stroke="#f764ca" stroke-width="0.9" stroke-dasharray="1.6 .4 1.2 .5 2 .4 .9 .6" fill="none"/>
<path d="M207.3 40.7L207.4 39.1M208.8 44.2L209.1 39.2M209.7 43.6L210 39.3M212.9 45.1L213 44.4M213.8 44.3L214.2 41.2M214.9 42.8L215.3 39.9M215.7 43.3L215.9 42.3M216.2 45.4L217.1 40.2M217.3 43.9L218 40.4M229 49L230.2 45.6M230.7 51.8L231.2 50.2M235.1 51.7L235.6 50.6M240.9 57.3L243.7 52.2M243 60.1L243.9 58.6M246.7 61.6L249.9 56.9M248.5 60.4L249 59.8M247.8 62.8L248.1 62.4M248 65.3L249.8 62.9M254.1 63.9L255.6 62.1M253.9 67.9L255.7 65.9M258.5 67.6L261.2 64.8M257.4 69.9L261.6 65.6M257.9 70.6L259.4 69M260.9 72.1L262.8 70.4M263.1 72.4L265.1 70.6M266.1 77.4L268.1 75.8M266.1 80.3L267 79.7M266.9 83.8L269.3 82.2M267.5 85.3L268.6 84.6M272.4 90.6L273.7 90M274.7 96.6L275.5 96.2M276.1 97.7L279.5 96.3M278.4 98.5L283.1 96.8M276.9 100.8L279.8 99.8M275.7 103.7L278.6 102.8M283.2 104L284.6 103.6M279.9 105.8L283.4 104.8M280.4 106.5L284.5 105.4M278.4 108.6L278.9 108.5M278.5 112.6L279.4 112.4M280.5 116.2L282 116M279 118L281.9 117.7M279.2 121.1L280.7 121M279.7 124.2L281.2 124.2M279.1 126.6L281 126.6M278.9 127.3L280.8 127.3M281.1 130.5L282.5 130.6M280.4 131.3L283.2 131.4M280.3 132.1L282.4 132.2M279 133.5L280.3 133.7M279.3 135.9L280.5 136.1M278.7 139L280 139.2M282.9 142.5L284.4 142.8M278.2 148.9L280.7 149.6M277 149.4L278.4 149.8M276.7 150.1L278.4 150.6M272.8 159.5L275.7 160.9M273.9 160.9L276.9 162.4M270.2 162.6L272.1 163.6M270.4 167.9L271.4 168.6M266.7 169.3L268.3 170.4M267.2 172.5L269.8 174.4M270.8 177.2L273.1 178.9M263.7 175.9L266.7 178.3M262.6 176L263.2 176.5M261.8 177.4L263.5 178.8M261.2 177.9L262.4 179M259.9 180L261.4 181.3M260.4 182.7L262.9 185M255.9 184.9L256.4 185.4M249.8 187.2L250.2 187.7M249.9 188.6L250.8 189.8M250.3 190.5L251.5 192M250.6 192.2L251.7 193.7M249.3 191.9L251.4 194.8M237.8 199.6L238.3 200.5M226.4 200.5L226.9 202M225.4 202.3L225.9 204.1M224.3 204.4L225.5 208.9M222.5 203.8L223.2 206.9M221.5 203.2L221.9 204.9M218.4 204L218.9 206.7M217.9 205.7L218.3 207.7M213 212.5L213.1 213.4M207.7 210.7L207.9 214.4M206 212.6L206.1 213.8M205 206.4L205 208M204.2 206.7L204.2 208.8M198.6 205.7L198.4 208.3M196.6 210.7L196.4 213.8M195.4 205.7L195 209.2M193.3 209.8L192.9 213.6M192.9 205.9L192.6 208.5M192.3 204.7L192 206.7M191.6 203.6L191.4 205.3M190.6 205L190.2 207.9M183.4 205.4L182.2 210.1M176.6 207.6L175.7 210.4M176.4 200.4L175.2 204.1M171.2 205.1L170.6 206.5M170.4 200.4L170 201.4M170.3 196.8L168.6 200.5M169.2 197.3L168.9 197.9M161.5 195.1L157.3 202M155 194.5L154.1 195.8M151.8 196L150.7 197.6M152.4 193.8L149.9 197.1M153.3 188.6L152.6 189.5M148.1 191L145.8 193.7M149.4 188.2L147.8 190.1M147.2 182.2L144.1 185.2M142.3 185.9L141.8 186.4M141.5 185.5L139.3 187.6M142.1 181.4L141.6 181.9M141.2 181.2L140.7 181.6M142.2 179.2L140.9 180.3M142 177.2L138.4 180.2M140.7 177.3L136.1 181M137.7 178.7L134 181.6M136.9 175L133 177.9M136.5 172.3L134.7 173.5M133.8 171.1L133.2 171.6M134.9 164.2L132.4 165.5M134.5 161.8L132.3 162.9M134.5 160.9L133.6 161.3M130.6 160.1L127 161.8M131.6 158.8L130.4 159.3M130.5 156.7L129.3 157.2M130.5 155L129.5 155.4M127.7 154.4L125.9 155M128.3 153.3L127.6 153.5M124.5 150.1L124 150.3M124.6 148.4L120.1 149.6M126.8 147L124.2 147.6M126.3 146.3L125.2 146.5M123.3 146.2L118.5 147.3M121 145.9L117.3 146.7M125 140L120.7 140.8M124 139.4L121.1 139.8M122.3 138L117.4 138.7M123.7 137L120.5 137.4M121.4 136.4L120.6 136.5M115.6 127.6L114.8 127.6M123.9 125.1L121.6 125M121.9 123.4L120.5 123.4M118.3 122.4L114.9 122.2M117.4 121.5L115 121.3M119.8 120.8L115 120.5M122.4 120.2L118.4 119.9M121.9 116.1L119.4 115.8M120.2 115L115.7 114.4M123.1 100.4L119.3 99.1M127 100.9L125.5 100.3M131.3 92.2L124.5 88.9M132.9 90L129.6 88.2M132.1 88.6L131.4 88.3M136.6 87.5L134.2 86.1M138.2 83L136.6 81.9M138.4 82.2L137.7 81.7M139.9 76.5L138 75M141.5 74.6L136.1 70M141.8 73.8L136.4 69.1M141.2 71.1L139.6 69.6M142.3 70.9L140.3 69.1M142.7 70.2L139.8 67.4M147.1 71.3L144.7 69M147.6 62.1L145.7 59.9M151 64.9L148.2 61.5M151.7 63.2L151.4 62.7M156.6 63.2L155.8 62.1M157.4 61.5L155.8 59.2M163 52.4L161.3 49.3M164.4 53.3L162.1 48.9M167.9 54.7L167.4 53.8M170 53L168.5 49.5M176 52.9L175.1 50.4M176 50.5L174.7 46.6M177.4 51.9L177 50.9M179.5 53.2L178.6 50.5M180.9 46.5L179.9 42.9M186.7 49.9L185.8 45.6M189 49L188 43.1" stroke="#f764ca" stroke-width="0.9" stroke-dasharray="1.1 .5 1.8 .4 .9 .6 1.5 .4" fill="none"/>
<path d="M204.7 40L204.7 39M218.1 44.4L218.8 40.5M226.1 50.1L228.3 42.8M232 45.7L232.5 44.3M234.6 50.7L236.7 45.9M246.5 52.7L247.3 51.2M243 61.6L248.8 52.2M244.1 61.3L249.6 52.6M251.8 60.2L254.7 56.1M252.7 68L259.6 60M256.4 68.7L262.3 62.4M258.5 72.2L265.4 65.5M265.3 69.3L267.3 67.4M264 74.9L269.6 70.1M268 76.9L272.4 73.5M269.1 78.1L273.5 75M269.6 78.8L274 75.7M270.3 85.4L277.5 81M277 84.3L278.9 83.3M273.2 87.5L279.3 84.1M273.8 92.6L281.7 88.8M274.5 95.8L283.2 92M279.3 95.5L283.9 93.7M279.7 96.3L284.2 94.5M281.1 100.2L285.8 98.7M284.9 105.3L287.6 104.6M278 109.5L288.2 107.2M279 111.7L288.7 109.7M283.4 117.5L289.8 116.8M283.9 120.8L290.2 120.3M284.5 130.7L290.3 131M284.4 132.3L290.2 132.7M281.8 139.5L289.3 140.7M279 144.2L288.2 146.3M280.9 147.1L287.6 148.9M280.9 148L287.4 149.7M277.9 151.3L286.1 154M277.5 152L285.8 154.8M276 152.3L285.5 155.7M280 154.6L285.2 156.5M278.5 155L284.9 157.3M276.5 155.1L284.6 158.2M273.5 158.1L282.9 162.3M273.6 164.4L280.2 167.9M273.9 170.1L277.7 172.3M274.9 172.7L276.7 173.9M265.7 169.6L275.3 176.1M263.1 179.6L268.8 184.5M264.8 186.9L265.8 187.8M257.5 186.7L261.9 191.5M257.1 188.7L260.6 192.7M252.7 188.3L258.1 194.9M251.9 188.6L257.4 195.4M249.6 195.2L252.4 199.1M244 194.1L248.6 201.6M244.7 196.8L247.9 202M242.5 194.6L247.1 202.5M242.4 197.7L245.6 203.4M234.4 198L238.4 207M234 199.1L237.6 207.3M223.4 207.5L224.5 211.8M221.7 211.7L221.9 212.4M218.1 211.1L218.4 213.2M214.9 207.9L215.8 213.6M211.5 206.6L212.3 214.1M205.1 209.6L205.2 214.6M197.6 208.5L197.2 214.4M194.8 212.2L194.6 214.2M191.2 206.3L190.2 213.7M189 209.8L188.4 213.4M185.3 204.2L183.5 212.5M184.2 205.3L182.6 212.3M179.9 202.8L177.4 210.9M175.2 209.1L174.9 210.1M168.7 204.4L167.4 207.2M168.9 201.8L166.6 206.9M168.2 199.4L165 206.1M162 199L159.6 203.4M159.7 199.7L158.1 202.5M153.4 196.8L152.1 198.6M149.6 196.1L149.2 196.5M152.5 188.3L147.1 194.9M147.2 183.3L141.1 189.5M136.7 181.6L135.1 183M133.3 178.8L132.4 179.5M132.3 175.2L130.3 176.6M132.5 172L128.8 174.4M132.6 166.4L126.2 170M134.3 163.6L125.3 168.5M129.4 164.4L124.5 166.9M129.1 159.9L122.6 162.9M130.1 156L121.2 159.6M123.2 156L120.2 157.1M121.9 143.1L116.5 144.2M120.5 136.5L115.4 137.1M122.1 131.6L115 132M120.7 125.9L114.8 125.8M118.1 123.3L114.9 123.1M122.7 117.1L115.4 116.2M118.7 111.4L116.3 110.9M122.5 99.3L119.6 98.3M129 93.8L122.5 90.9M125.9 90.5L123.2 89.2M132.1 87.7L125.8 84.2M131.3 85.3L126.7 82.7M135.7 81.3L130 77.4M135.1 79.9L130.5 76.7M136.2 73.5L134.1 71.8M147 67.8L142.4 62.9M154.7 57.7L152.6 54.6M156.3 55.4L154.8 53.1M161.7 55.4L159 50.6M176 47.7L174.6 43.6M179 46L178 42.5M185.5 51.7L183.1 41.2M186.2 51.4L184 41M188.9 43.6L188.4 40.2" stroke="#f764ca" stroke-width="0.9" stroke-dasharray=".6 1.6 .5 2.3 .6 3.4 .5 4.1" fill="none"/>
<path d="M206.1 46.9L206.5 39.1M210 48.9L210.9 39.4M213 43.8L213.6 39.7M239.5 50.2L240.7 47.7M238.8 55.5L242.3 48.5M251 62.5L255.4 56.7M257 64.3L260.3 60.6M258.4 64.1L260.9 61.2M263.2 70L266.7 66.8M264.3 75.7L270.2 70.8M274.2 87.8L279.7 84.8M281.3 101.9L286.3 100.3M287.2 105.6L287.8 105.5M288.4 113.4L289.3 113.2M281.1 119.4L290 118.5M279.1 120.4L290.1 119.4M281.9 128.2L290.4 128.3M282.5 135.5L289.9 136.3M282.9 136.3L289.8 137.2M277.6 136.5L289.7 138M281.1 138.6L289.4 139.8M279.6 146L287.8 148M282.1 149.2L287.1 150.6M276.3 157.6L283.6 160.6M276.6 158.6L283.3 161.5M274.6 159.5L282.5 163.1M277.7 161.8L282.2 163.9M278.1 162.9L281.8 164.7M272.3 170L277.2 173.1M269.9 170.5L276.2 174.6M266.7 171.2L274.8 176.8M268.4 174.4L273.7 178.3M264.4 178.5L269.9 183.2M265.2 180.3L269.3 183.9M255.5 181.1L263.9 189.7M257.7 185.7L262.6 190.9M255.9 186.1L261.3 192.1M256.3 189.1L259.9 193.3M247.1 194.3L250.9 200.1M245 194.1L249.4 201.1M239.6 197.7L243.2 204.6M239.1 198.6L242.4 205M239.3 200.6L241.7 205.4M238.5 201L240.9 205.8M235.8 199L239.2 206.6M229 198.4L233 209.2M227.7 201.9L230.5 210.1M227 205L228.8 210.6M224.2 207.2L225.4 211.6M218.4 208.2L219.3 213M214.1 208.1L214.9 213.7M213.1 206.3L214 213.9M210.9 209.5L211.4 214.2M203.4 211.1L203.5 214.6M192.2 211.9L191.9 213.9M188.2 209.2L187.5 213.3M187.3 209.6L186.7 213.1M182.7 204.8L180.9 211.9M181.3 206.9L180 211.6M176.4 203L174.1 209.8M174.5 205.8L173.2 209.5M171.8 205.9L170.7 208.6M169.9 203.7L168.2 207.6M163.8 201.1L162 204.6M165.7 194.1L160.4 203.8M155.8 196.4L153.6 199.6M147.7 183.9L141.8 190.1M138.8 183.3L136.9 185M139.8 181.2L136.3 184.3M131.3 164.3L124.9 167.7M125.2 163.6L123.3 164.5M124.9 162.8L122.9 163.7M126.2 158.5L121.5 160.4M124.7 156.4L120.5 158M121.3 151.1L118.5 151.9M123 143.7L116.7 145M120.4 140.8L116 141.5M116.6 131L114.9 131.1M118.8 125L114.8 124.9M124.8 119.6L115.2 118.7M117.2 115.5L115.6 115.3M125.4 105.2L118.1 103.1M125.9 104.5L118.3 102.3M128.6 98.9L120.5 95.8M121.7 95.3L120.8 95M132.5 85.1L127.1 81.9M134.6 83.5L128.5 79.6M139 81.7L131 76M139.4 77.1L133.6 72.5M140.1 68.9L138.2 67.1M144.2 68.5L140.5 64.8M146.8 59.9L146.4 59.4M164.6 58.9L159.8 50.2M164.5 56.9L160.5 49.7M164.7 52L162.9 48.5M167.2 53.4L164.5 47.7M170 51L167.9 46.1M173.3 52.5L170.4 45.1M187.8 41.9L187.5 40.3M190.8 44.4L190.1 39.9" stroke="#f764ca" stroke-width="0.9" stroke-dasharray=".5 2.1 .7 1.7 .5 3.8 .6 2.9" fill="none"/>
<path d="M203.7 45.7L203.8 39M212.5 41.2L212.7 39.6M215.9 42L216.2 40.1M220.1 47.1L221.4 41M227.2 43.5L227.5 42.6M227.2 49.3L229.2 43.1M230.3 45.4L230.9 43.7M230.7 46.7L231.7 44M233.1 50L235 45.2M238 51.3L239.9 47.3M246.6 60.3L251.1 53.6M250.9 57L252.6 54.6M249.7 60.2L253.3 55.1M252.9 62.8L256.8 57.8M252.1 67.6L258.9 59.4M265.6 70.1L267.9 68.1M265.5 72.5L269 69.4M263.9 77L270.8 71.4M266.1 76.3L271.3 72.1M269.6 74.6L271.9 72.8M269.6 82L275.6 78M270 82.7L276.1 78.7M272 83.4L277 80.2M274.1 89.7L280.6 86.4M273.4 91.9L281.4 88M275.6 96.2L283.6 92.8M278.2 97.8L284.6 95.3M281.8 99.1L285.5 97.8M280 103.2L286.6 101.2M280.5 108.1L288 106.3M281.3 113.7L289.2 112.4M289 116L289.7 115.9M283.9 122.4L290.3 122.1M286.1 124.8L290.4 124.7M278.4 125.8L290.4 125.6M281.7 126.6L290.4 126.5M281.6 129L290.4 129.2M284 131.5L290.3 131.9M281.6 133.8L290.1 134.5M279.2 142.6L288.6 144.5M277.5 143L288.4 145.4M283.3 150.4L286.9 151.4M280.6 151.3L286.4 153.1M276.9 157L284 159.8M270.3 164.4L279.4 169.4M271.4 165.9L278.9 170.2M271.4 175.5L274.3 177.5M265.8 176.6L271.6 181.1M267.2 178.7L271 181.8M264.7 177.7L270.5 182.5M259.7 180.8L266.4 187.2M260.7 184.1L265.1 188.4M256.4 183.2L263.2 190.3M251.2 190.3L256 196.5M251.6 195L253.8 198.1M250.3 194.7L253.1 198.6M241.1 197L244.8 203.8M239.9 196.5L244 204.2M233.8 200.5L236.8 207.7M232.3 199L236 208M231.2 202L233.8 208.9M231.7 208.3L232.2 209.5M228.2 200.6L231.3 209.8M227 202.3L229.6 210.3M222 205.2L223.7 212M206.5 205L207 214.5M204.3 211.7L204.3 214.6M202.6 204.1L202.6 214.6M198.3 211L198.1 214.5M191.7 209.1L191.1 213.8M190 209.2L189.3 213.6M168.2 201.3L165.8 206.5M168.2 197.6L164.2 205.8M156.2 197.2L154.3 200.1M152.9 190.4L148.5 196M143.1 186.3L140.5 188.9M141.2 182.3L137.4 185.7M139.6 171.1L130.8 177.3M130.8 174.1L129.3 175.1M132.1 162.1L124.1 166.1M129.2 158.1L121.8 161.3M125.9 154.1L119.9 156.3M120 149.7L118 150.2M122.5 148.1L117.7 149.4M124.2 146.8L117.5 148.5M123.3 141.1L116.2 142.4M119.9 140L115.9 140.7M117.2 137.8L115.5 138M120 126.7L114.8 126.7M119.6 124.2L114.8 124M118.3 119.8L115.1 119.6M126.5 109.6L117 107.4M121.5 107.6L117.2 106.5M127.4 106.6L117.8 104M128.4 86.6L125.4 85M132.2 84L127.6 81.2M135.3 82L129.5 78.2M136.8 79L131.5 75.2M137 73.1L134.7 71.2M148.4 64.4L145 60.5M149.8 62.2L147.1 58.8M154.6 59L151.9 55.1M155.5 57.3L153.3 54.1M157.4 58.7L154.1 53.6M172 51.5L169.6 45.4M178 48.6L176.3 43M180.7 42.5L180.5 41.8M182.1 44.4L181.4 41.6M184.1 49L182.3 41.4M186.3 43.6L185.7 40.6M190 44.7L189.2 40" stroke="#f764ca" stroke-width="0.9" stroke-dasharray=".7 1.3 .5 3.2 .5 2.4 .6 4.5" fill="none"/>
<path d="M203.6 52.4L203.7 47.2M204.4 52.4L204.5 46.4M205.1 52.4L205.2 51.8M205.9 52.5L205.9 51.3M206.6 52.5L207.3 40.7M207.4 52.6L208.1 41.2M208.1 52.6L208.8 44.2M208.9 52.7L209.7 43.6M209.6 52.7L209.8 51.4M210.4 52.8L210.8 48.7M211.1 52.9L211.8 47M211.9 53L212.9 45.1M212.6 53.1L213.8 44.3M213.4 53.2L214.9 42.8M214.1 53.3L215.7 43.3M214.9 53.4L216.2 45.4M215.6 53.5L217.3 43.9M216.3 53.7L216.6 52.6M217.1 53.8L218.1 48.7M217.8 54L218 52.9M218.6 54.1L219.7 48.9M219.3 54.3L221.1 46.6M220 54.5L223.1 41.9M223.7 55.4L225.4 49.7M224.4 55.7L224.5 55.2M225.1 55.9L225.5 54.6M225.8 56.1L226.1 55.4M226.5 56.4L229 49M227.3 56.6L229.7 49.7M228 56.9L230 51.2M228.7 57.1L230.7 51.8M229.4 57.4L229.6 56.9M230.1 57.7L230.4 56.8M230.8 57.9L231.1 57.2M231.5 58.2L231.7 57.6M232.2 58.5L235.1 51.7M232.8 58.8L236.6 50.4M233.5 59.1L237.1 51.4M234.2 59.5L234.8 58.3M234.9 59.8L237 55.4M235.6 60.1L235.9 59.5M236.2 60.4L236.8 59.3M236.9 60.8L237.7 59.3M238.5 61.7L240.9 57.3M239.2 62L239.7 61.2M239.8 62.4L240.3 61.6M240.5 62.8L245 55.2M241.1 63.2L243 60.1M241.8 63.6L242 63.3M243.1 64.4L245.1 61.2M243.7 64.8L244.6 63.4M244.3 65.2L246.7 61.6M244.9 65.6L248.5 60.4M245.5 66L247.8 62.8M246.8 66.9L248 65.3M248 67.8L254 60M248.6 68.3L251 65.1M249.7 69.2L254.1 63.9M250.3 69.7L250.8 69.1M250.9 70.2L251.2 69.8M251.5 70.7L253.9 67.9M252 71.2L255.4 67.4M252.6 71.7L253 71.2M253.1 72.2L256 69.1M253.7 72.7L258.5 67.6M254.2 73.2L257.4 69.9M254.8 73.8L257.9 70.6M255.3 74.3L256.2 73.4M256.4 75.4L256.9 74.8M256.9 75.9L260.9 72.1M257.4 76.5L261.8 72.5M257.9 77L263.1 72.4M258.4 77.6L264.5 72.2M258.9 78.2L263 74.6M259.4 78.7L263.2 75.5M259.9 79.3L263.6 76.3M260.4 79.9L260.8 79.5M260.8 80.5L263.3 78.5M261.3 81.1L266.1 77.4M261.7 81.7L262.8 80.8M262.2 82.3L267.9 78M262.7 82.9L266.1 80.3M263.1 83.5L265.9 81.5M264.4 85.4L266.9 83.8M264.9 86.1L268.4 83.7M265.3 86.7L267.5 85.3M265.7 87.3L267.5 86.2M266.1 88L266.7 87.6M266.5 88.6L271.6 85.5M266.8 89.3L273.2 85.6M267.2 89.9L271.8 87.3M267.6 90.6L271.5 88.4M268 91.2L272.4 88.8M268.3 91.9L270.8 90.6M268.7 92.6L272.4 90.6M269 93.2L273.8 90.8M269.3 93.9L270.2 93.5M269.7 94.6L270 94.4M270 95.3L275.5 92.7M270.3 96L274.1 94.2M270.9 97.3L273.9 96M271.2 98L274.7 96.6M271.5 98.7L275.9 96.9M271.8 99.4L276.1 97.7M272.1 100.1L276.1 98.6M272.3 100.8L278.4 98.5M272.6 101.5L277.6 99.7M272.8 102.2L276.9 100.8M273.1 103L277.1 101.6M273.5 104.4L275.7 103.7M273.8 105.1L277.6 103.9M274 105.8L280.4 103.9M274.2 106.6L283.2 104M274.4 107.3L279.9 105.8M274.6 108L280.4 106.5M274.8 108.7L285.5 106.1M275 109.5L278.4 108.6M275.6 112.4L276.6 112.2M275.7 113.1L278.5 112.6M275.9 113.8L276.2 113.8M276 114.6L278.7 114.1M276.1 115.3L285.9 113.8M276.2 116.1L279.7 115.5M276.3 116.8L280.5 116.2M276.4 117.6L283.7 116.6M276.5 118.3L279 118M276.7 119.8L279.2 119.6M276.7 120.5L278.4 120.4M276.8 121.3L279.2 121.1M276.8 122.1L288 121.3M276.9 122.8L280.6 122.6M276.9 123.6L279.3 123.5M277 124.3L279.7 124.2M277 125.1L280.2 125M277 125.8L277.8 125.8M277 126.6L279.1 126.6M277 127.3L278.9 127.3M277 128.1L279.8 128.1M277 128.8L280.6 128.9M276.9 129.6L287.4 130M276.9 130.3L281.1 130.5M276.9 131.1L280.4 131.3M276.8 131.8L280.3 132.1M276.8 132.6L279.4 132.8M276.7 133.3L279 133.5M276.6 134.1L278.4 134.3M276.6 134.8L278.4 135M276.5 135.6L279.3 135.9M276.4 136.3L276.7 136.4M276.3 137.1L285 138.3M276.2 137.8L278.3 138.1M276.1 138.6L278.7 139M275.8 140.4L283.2 141.7M275.6 141.1L282.9 142.5M275.5 141.8L276.1 142M275.3 142.6L275.9 142.7M275.1 143.3L275.9 143.5M275 144L275.7 144.2M274.8 144.8L275.8 145M274.6 145.5L277.8 146.3M274.4 146.2L278.9 147.4M274.2 147L277.2 147.8M274 147.7L278.2 148.9M273.8 148.4L277 149.4M273.6 149.1L276.7 150.1M273.3 149.8L276.3 150.8M273.1 150.5L276.6 151.7M272.9 151.3L273.6 151.5M272.6 152L275.1 152.9M272.4 152.7L274.5 153.5M272.1 153.4L275.5 154.7M271.8 154.1L275.6 155.6M271.5 154.8L275.6 156.4M271.2 155.5L274.3 156.8M271 156.2L271.5 156.4M270.7 156.9L271.1 157.1M270.3 157.6L270.9 157.8M270 158.2L272.8 159.5M269.7 158.9L273.9 160.9M269.4 159.6L273 161.4M269 160.3L272.1 161.8M268.7 160.9L271.7 162.5M268.4 161.6L270.2 162.6M268 162.3L279.5 168.5M267.3 163.6L267.6 163.8M266.2 165.4L270.4 167.9M265.8 166L269.5 168.3M265.4 166.7L272.3 171M265 167.3L266.6 168.3M264.6 167.9L266.7 169.3M264.2 168.6L265.1 169.2M263.7 169.2L264.8 169.9M263.3 169.8L267.2 172.5M262.9 170.4L265.3 172.2M262.4 171L270.8 177.2M262 171.6L264.1 173.2M261.1 172.8L263.2 174.5M260.6 173.4L263.7 175.9M260.1 174L262.6 176M259.6 174.6L260.8 175.5M259.2 175.1L261.8 177.4M258.7 175.7L261.2 177.9M257.7 176.8L266.5 184.8M257.1 177.4L259.9 180M256.6 177.9L257 178.3M256.1 178.5L260.4 182.7M255.6 179L258.6 182M254.5 180.1L255 180.5M254 180.6L254.4 181M253.4 181.1L253.7 181.5M252.9 181.6L255.9 184.9M252.3 182.1L255.6 185.8M251.8 182.6L255.3 186.7M251.2 183.1L255 187.6M249.6 184.5L250.4 185.5M249 185L250.9 187.3M248.4 185.4L249.8 187.2M247.8 185.9L249.9 188.6M247.2 186.3L250.3 190.5M246.6 186.8L250.6 192.2M246 187.2L249.3 191.9M245.4 187.7L249.2 193M244.8 188.1L247.6 192.2M244.1 188.5L245.9 191.1M243.5 188.9L245.4 191.8M242.3 189.8L242.8 190.6M241 190.5L243.1 194.1M240.3 190.9L242.1 194M239.7 191.3L242.1 195.5M239 191.7L240.7 194.7M238.4 192L240.3 195.5M237.7 192.4L239.5 195.7M237 192.8L237.3 193.3M236.4 193.1L236.8 194M235.7 193.4L238.6 199.3M235 193.8L237.8 199.6M234.3 194.1L239.5 204.9M233.7 194.4L235 197.4M233 194.7L233.8 196.6M232.3 195L233.8 198.4M231.6 195.3L232.9 198.5M230.9 195.6L231.3 196.5M229.1 196.3L230.6 200.4M228.4 196.6L228.6 197.4M227.6 196.9L230.9 206.1M226.9 197.1L227.4 198.5M226.2 197.4L226.7 198.6M225.5 197.6L226.4 200.5M224.8 197.8L225.8 201.2M224.1 198L225.4 202.3M222.6 198.5L224.3 204.4M221.9 198.7L223.1 203.3M221.2 198.8L222.5 203.8M220.4 199L221.5 203.2M219.7 199.2L220.7 203.3M219 199.4L220.8 207.4M218.2 199.5L219.3 204.3M217.5 199.7L218.4 204M216.8 199.8L217.9 205.7M216 200L216.9 204.9M215.3 200.1L216.2 205.5M214.5 200.2L215.4 205.9M213.8 200.4L214.5 204.8M213 200.5L213.5 203.4M212.3 200.6L212.7 203.8M211.6 200.7L213 212.5M210.8 200.7L211.1 203.8M210.1 200.8L210.5 205M207.8 201L208.2 205.9M207.1 201.1L207.7 210.7M205.6 201.1L206 212.6M204.8 201.2L205 206.4M204.1 201.2L204.2 206.7M203.3 201.2L203.4 206.9M202.6 201.2L202.6 201.8M198.8 201.1L198.6 205.7M198.1 201.1L197.8 204.8M197.3 201L196.6 210.7M196.6 201L196.1 206.7M195.8 200.9L195.4 205.7M195.1 200.8L194.6 205M194.3 200.7L193.3 209.8M193.6 200.6L192.9 205.9M192.8 200.6L192.3 204.7M192.1 200.5L191.6 203.6M191.3 200.3L190.6 205M190.6 200.2L189.7 205.7M189.8 200.1L188.7 206.7M189.1 200L187.5 208.4M187.1 199.6L186.6 201.9M186.4 199.4L186.1 200.5M185.6 199.2L184.5 204M184.9 199.1L183.4 205.4M184.2 198.9L183.3 202.5M183.5 198.7L182.5 202.4M182.7 198.5L181.1 204.5M181.3 198.1L181.2 198.4M180.6 197.9L178.4 204.8M179.8 197.6L176.6 207.6M179.1 197.4L177.1 203.4M178.4 197.2L178 198.4M177.7 196.9L176.4 200.4M177 196.7L175 202.1M176.3 196.4L175.6 198.1M175.6 196.1L172.5 204M174.9 195.8L171.2 205.1M174.2 195.6L170.9 203.4M173.5 195.3L171.7 199.5M172.8 195L170.4 200.4M172.1 194.7L170.7 197.7M171.4 194.4L170.3 196.8M170.7 194L169.2 197.3M170.1 193.7L169.3 195.3M168.2 192.8L167.5 194M167.5 192.4L167 193.2M166.8 192L166.3 193M166.2 191.7L163.2 197M165.5 191.3L163.1 195.6M164.9 190.9L162.1 195.6M164.2 190.5L161.5 195.1M163.6 190.1L159.6 196.5M162.9 189.7L158.6 196.7M162.3 189.3L155.3 200.2M161.7 188.9L158.6 193.5M161 188.5L158.1 193M160.4 188.1L155.8 194.8M159.8 187.7L155 194.5M159.2 187.2L152.3 196.8M158.6 186.8L151.8 196M158 186.3L152.4 193.8M157.4 185.9L154.5 189.6M156.8 185.4L156.4 185.9M156.2 185L153.3 188.6M155.6 184.5L155.1 185.1M155 184L149.3 190.9M154.4 183.5L148.1 191M153.9 183L149.4 188.2M153.3 182.5L145.5 191.4M151.6 181L151.1 181.5M150 179.4L147.2 182.2M149.5 178.9L142.3 185.9M148.9 178.3L141.5 185.5M148.4 177.8L139.4 186.3M147.9 177.2L142.9 181.9M147.4 176.7L142.1 181.4M146.9 176.1L141.2 181.2M146.4 175.5L142.2 179.2M145.9 175L145.2 175.6M145.4 174.4L142 177.2M144.9 173.8L140.7 177.3M144.5 173.2L137.7 178.7M144 172.6L135.3 179.5M143.5 172L134.9 178.7M143.1 171.4L138.3 175M142.6 170.8L136.9 175M141.8 169.6L140.8 170.3M141.3 169L136.5 172.3M140.9 168.4L133.1 173.6M140.5 167.7L132.3 173.1M140.1 167.1L133.8 171.1M138.2 164.1L135.3 165.7M137.8 163.4L133.6 165.8M137.5 162.8L134.9 164.2M137.1 162.1L134.5 163.5M136.8 161.4L134.5 162.6M136.4 160.8L134.5 161.8M136.1 160.1L134.5 160.9M135.7 159.4L133 160.7M135.4 158.7L125.7 163.3M135.1 158.1L130.6 160.1M134.8 157.4L131.6 158.8M134.5 156.7L124.3 161.2M134.2 156L133.7 156.2M133.9 155.3L130.5 156.7M133.6 154.6L131.6 155.4M133.3 153.9L130.5 155M133 153.2L128.7 154.8M132.8 152.5L127.7 154.4M132.5 151.8L128.3 153.3M131.3 148.1L124.5 150.1M131.1 147.4L123.4 149.6M130.9 146.6L124.6 148.4M130.7 145.9L126.8 147M130.5 145.2L126.3 146.3M130.3 144.5L123.3 146.2M130.2 143.7L121 145.9M130 143L120.3 145.1M129.8 142.3L128.4 142.5M129.5 140.8L123.7 141.9M129.4 140L128 140.3M129.3 139.3L125 140M129.1 138.6L124 139.4M129 137.8L123.1 138.7M128.9 137.1L122.3 138M128.8 136.3L123.7 137M128.7 135.6L121.4 136.4M128.4 132L124 132.3M128.3 131.2L123.4 131.5M128.3 130.5L123.2 130.7M128.3 129.7L121.8 130M128.2 129L120 129.2M128.2 128.2L117.7 128.4M128.2 127.5L115.6 127.6M128.2 126.7L122.8 126.7M128.2 125.9L127.2 125.9M128.2 125.2L123.9 125.1M128.2 124.4L122.2 124.2M128.3 123.7L121.9 123.4M128.3 122.9L118.3 122.4M128.3 122.2L117.4 121.5M128.4 121.4L119.8 120.8M128.5 120.7L122.4 120.2M128.5 119.9L127.4 119.8M128.7 117.8L128 117.7M128.8 117L121.9 116.1M128.9 116.3L120.2 115M129.1 115.6L122.2 114.5M129.2 114.8L120.2 113.3M129.3 114.1L122.5 112.9M129.4 113.3L122.4 112M129.9 111.1L127.4 110.6M130.2 109.6L129.3 109.4M130.4 108.9L120.9 106.6M130.6 108.2L124.9 106.7M131 106.7L129.9 106.4M131.8 104.1L125.2 102M132 103.4L123.1 100.4M132.2 102.6L127 100.9M133.3 99.8L126.7 97.2M133.5 99.1L122.1 94.5M133.8 98.4L125.1 94.8M134.1 97.7L123.6 93.3M134.7 96.3L134.1 96.1M135 95.7L129.4 93.1M135.3 95L130.9 92.9M135.7 94.3L131.3 92.2M136 93.6L128.5 89.9M136.8 92.1L132.9 90M137.2 91.4L132.1 88.6M137.5 90.7L133.2 88.3M138.3 89.4L135.1 87.6M138.7 88.8L136.6 87.5M139 88.1L136.3 86.5M139.4 87.5L139.1 87.3M139.8 86.8L136.3 84.6M140.2 86.2L136.1 83.5M140.7 85.6L136.2 82.6M141.1 85L138.2 83M141.5 84.3L138.4 82.2M141.9 83.7L139.8 82.2M142.4 83.1L140.5 81.8M143.6 81.4L141.1 79.5M144.1 80.8L143.6 80.4M144.6 80.2L139.9 76.5M145 79.6L141 76.3M145.5 79.1L141.6 75.8M146 78.5L141.5 74.6M146.5 77.9L141.8 73.8M147 77.4L138.2 69.5M147.5 76.8L141.2 71.1M148 76.2L142.3 70.9M148.5 75.7L142.7 70.2M150 74.2L147.1 71.3M150.5 73.7L148.5 71.7M151 73.2L150.7 72.8M151.6 72.6L151.2 72.2M152.1 72.1L151.8 71.8M153.2 71.1L149.3 66.6M153.8 70.6L149.6 65.8M154.4 70.1L147.6 62.1M155 69.7L151 64.9M155.5 69.2L152.9 65.9M156.1 68.7L151.7 63.2M159 66.5L156.6 63.2M159.6 66.1L156.9 62.2M160.2 65.6L157.4 61.5M160.9 65.2L157.5 60.2M161.5 64.8L161.2 64.4M162.1 64.4L161 62.7M162.8 64L158.7 57.6M165.6 62.2L163.2 57.9M166.3 61.9L165.8 61M167 61.5L166.3 60.3M167.6 61.1L163 52.4M168.3 60.8L164.4 53.3M169 60.4L165.2 52.9M169.6 60.1L167.7 56.2M170.3 59.8L167.9 54.7M172.5 58.7L170 53M173.2 58.4L171.5 54.5M173.9 58.1L173.6 57.5M175.3 57.6L175.1 57.1M176 57.3L174.4 53M176.7 57L175 52.4M177.4 56.8L176 52.9M178.1 56.5L176 50.5M178.9 56.3L177.4 51.9M180.3 55.8L179.5 53.2M181 55.6L179.5 50.8M181.7 55.4L180.3 50.4M182.5 55.2L180.3 47.5M183.2 55L180.9 46.5M183.9 54.8L182.1 47.9M184.6 54.6L183.3 49.4M185.4 54.4L184.2 49.5M186.1 54.3L186 53.9M186.8 54.1L186.7 53.4M187.6 53.9L186.7 49.9M188.3 53.8L187.5 49.5M189.1 53.6L187.9 47.7M189.8 53.5L189 49M190.5 53.4L189.6 48M191.3 53.3L190.4 47.5M192 53.2L191.5 49.7" stroke="#f428b0" stroke-width="0.9" fill="none"/>
<path d="M204.6 43.7L204.7 39M210.8 48.6L211.8 39.5M215.9 41.8L216.2 40.1M226.4 51.9L229.2 43.1M229.1 48.8L230.9 43.7M235.7 50.3L237.5 46.2M237.2 51.1L239.1 46.9M237 57.2L241.5 48.1M243.3 59.5L248.1 51.7M248.2 63.7L254 55.6M253.4 67.3L259.6 60M255 66.6L260.3 60.6M257.6 67.4L262.3 62.4M258 73.8L266.1 66.1M264.2 75.7L270.2 70.8M268.6 78.5L273.5 75M273 92.1L281.4 88M277.9 103L286.3 100.3M279.1 109.3L288.2 107.2M279.9 112.3L288.9 110.6M282.1 124.9L290.4 124.7M279.1 125.8L290.4 125.6M283.3 130.6L290.3 131M279.1 145L288 147.1M281.8 148.2L287.4 149.7M280.6 150.5L286.6 152.3M278.6 155.9L284.6 158.2M277.9 156.5L284.3 159M276.2 156.7L284 159.8M273.2 158.9L282.5 163.1M272.9 171.4L276.7 173.9M266.9 173.3L273.7 178.3M255.5 180L264.5 189.1M256.8 182.4L263.9 189.7M252.7 188.3L258.1 194.9M251.5 193.5L254.5 197.6M243.1 195.7L247.1 202.5M241.3 199L244 204.2M227.4 198.5L231.3 209.8M227.6 201.5L230.5 210.1M224.7 205.7L226.2 211.4M217 205.3L218.4 213.2M211.3 205.6L212.3 214.1M210.8 208.7L211.4 214.2M208.4 209.1L208.8 214.4M203.4 209.7L203.5 214.6M190.5 205.8L189.3 213.6M187.2 210.1L186.7 213.1M174 204.7L172.4 209.2M162.2 197.1L158.8 202.9M159.4 196.9L156.6 201.6M142.2 185.9L139.9 188.2M137.7 172.4L130.8 177.3M133.6 171.3L128.8 174.4M131.4 166.1L125.7 169.2M133.4 164.1L125.3 168.5M131.8 162.3L124.1 166.1M128.5 161.1L122.9 163.7M127.9 142.7L116.7 145M122.1 138.8L115.8 139.8M119.9 111.6L116.3 110.9M122.2 106L117.6 104.8M129.3 99.1L120.5 95.8M125.9 91.5L122.9 90M127 89.1L124 87.6M136.1 86.3L127.6 81.2M139.7 78.4L133 73.2M139.7 72L136.4 69.1M139.7 68.6L138.2 67.1M142.2 69.7L138.8 66.5M150.1 70L143 62.3M155.8 57.7L153.3 54.1M164.9 57.7L160.5 49.7M173.3 56.7L168.8 45.8M176.2 48.5L174.6 43.6M179.1 52.1L176.3 43M179.7 48.4L178 42.5M182 47.4L180.5 41.8M188.3 45.1L187.5 40.3" stroke="#f428b0" stroke-width="0.9" stroke-dasharray=".6 1.6 .5 2.3 .6 3.4 .5 4.1" fill="none"/>
<path d="M205.2 51.5L205.6 39.1M215.1 41.5L215.3 39.9M217.7 42L218 40.4M225.1 53.3L228.3 42.8M231.7 49L233.4 44.6M229.9 56L234.2 44.9M235.2 57.4L239.9 47.3M243.4 62.4L249.6 52.6M246.3 59.3L250.3 53.1M248.9 65.4L255.4 56.7M264.7 73.1L269 69.4M261 79.4L270.8 71.4M267.6 76.1L271.9 72.8M270.5 76.1L272.9 74.3M267.5 83.4L275.6 78M267.5 87.1L277.5 81M272.7 86.8L278.9 83.3M273.8 87.1L279.3 84.1M273.8 89L280.1 85.6M273.8 89.9L280.6 86.4M276.4 92.3L282.1 89.6M277.3 95.5L283.6 92.8M286.7 113.7L289.3 113.2M280.7 115.4L289.5 114.1M285.9 116.4L289.7 115.9M282 120.1L290.1 119.4M283.1 123.3L290.3 123M281.1 124.2L290.4 123.9M278.7 134.3L290 135.4M279.4 139.1L289.3 140.7M273.6 158.2L282.9 162.3M267.4 170.8L275.3 176.1M270.3 174.7L274.3 177.5M265.7 174.4L272.7 179.7M258.6 187.8L261.9 191.5M251.9 192.6L255.3 197.1M243.4 194.6L247.9 202M226 201.7L228.8 210.6M223.7 205.3L225.4 211.6M216.3 206.1L217.6 213.3M214.9 207.6L215.8 213.6M197.7 206.8L197.2 214.4M184.1 206L182.6 212.3M183.2 205.9L181.7 212.1M180.6 200.4L177.4 210.9M175.3 198.9L171.5 208.9M161 197.5L158.1 202.5M160.7 196.3L157.3 202M158.4 193.9L154.3 200.1M157.6 193.6L153.6 199.6M153.2 197L152.1 198.6M153.7 190.7L149.2 196.5M154.8 187.9L148.5 196M150.3 182.3L142.4 190.7M143.4 177.1L135.7 183.6M139.8 178L134.5 182.3M132.7 167.3L126.6 170.8M130.6 157.5L121.8 161.3M129.1 156.4L121.2 159.6M126.5 154.8L120.2 157.1M122.3 149.9L118.2 151.1M126.1 140.6L116.2 142.4M119 129.2L114.8 129.3M126 125.9L114.8 125.8M120.4 125L114.8 124.9M116 120.5L115 120.5M127.5 117.6L115.4 116.2M117.4 112.9L115.9 112.6M130.3 101.2L119.8 97.5M128.5 90.8L123.6 88.4M129.2 87.1L125.4 85M135.3 83.9L128.5 79.6M146.9 70L141.1 64.1M147.9 65.1L144.4 61.1M148.9 64.9L145 60.5M149.6 63.2L146.4 59.4M151.7 64.4L147.1 58.8M156.4 61.5L151.9 55.1M165 59.6L159.8 50.2M170.9 56.9L166.3 46.9M170.2 51.3L167.9 46.1M174.8 56.2L170.4 45.1M173.1 49.8L171.2 44.8M183 47.9L181.4 41.6M189.5 47L188.4 40.2" stroke="#f428b0" stroke-width="0.9" stroke-dasharray=".5 2.1 .7 1.7 .5 3.8 .6 2.9" fill="none"/>
<path d="M210 48.6L210.9 39.4M216.6 43.3L217.1 40.2M217.1 49.7L218.8 40.5M220.5 45.5L221.4 41M237.9 53.5L240.7 47.7M239.3 56.1L243.1 48.9M242.3 54.8L245 49.9M253.2 62.4L256.8 57.8M256.3 61.3L258.2 58.9M258.4 72.3L265.4 65.5M266.4 81.1L274 75.7M273.8 84.2L278 81.7M274 88L279.7 84.8M275.3 95.4L283.2 92M278.1 96.9L284.2 94.5M273.7 103.5L286 99.5M281.5 103.6L286.8 102M282.5 105.1L287.3 103.8M281.1 113.7L289.2 112.4M284 122.4L290.3 122.1M280.3 127.3L290.4 127.4M283.3 136.4L289.8 137.2M280.3 136.8L289.7 138M278.7 146.6L287.6 148.9M276 162.9L281.4 165.5M274.9 163.2L281 166.3M262.6 177L269.9 183.2M262.6 178.1L269.3 183.9M257.7 178.9L266.4 187.2M251.4 189.3L256.7 196M252.3 191.7L256 196.5M247 194.2L250.9 200.1M231.6 203L233.8 208.9M223.4 207.3L224.5 211.8M221.7 204L223.7 212M219 207.1L220.2 212.8M205.1 209.6L205.2 214.6M202.6 205.2L202.6 214.6M195.2 207.4L194.6 214.2M194.3 207.8L193.7 214.1M192.7 208L191.9 213.9M188.4 208.3L187.5 213.3M171.9 205.5L170.7 208.6M161.4 200.2L159.6 203.4M147.3 190.6L145.1 193.2M139.8 181.3L136.3 184.3M136.9 176.1L132.4 179.5M133.8 174.2L130.3 176.6M130.4 167.6L126.2 170M130.2 159.4L122.6 162.9M124.2 150.2L118.5 151.9M122.6 148.9L118 150.2M117.8 146.6L117.1 146.8M121.3 139.8L115.9 140.7M122.3 130.8L114.9 131.1M118.4 130.1L114.9 130.2M120.5 112.5L116.1 111.8M121.8 100L119.3 99.1M132.6 96.3L122.1 91.7M134.4 82.4L129 78.9M140.5 78L133.6 72.5M150.4 61.5L147.8 58.2M155.9 62.2L151.2 55.6M183.9 48.2L182.3 41.4M186 50.3L184 41M186.9 46.6L185.7 40.6" stroke="#f428b0" stroke-width="0.9" stroke-dasharray=".7 1.3 .5 3.2 .5 2.4 .6 4.5" fill="none"/>
<path d="M204.5 49L204.5 47.9M208.7 45.4L208.8 44.4M210.7 50.2L210.8 48.9M213.1 49.7L213.2 49M214.5 45.4L214.7 44.5M217.8 50.3L218 49.4M219.5 49.9L219.8 48.7M228.8 49.8L229.1 48.8M229.8 54L230.2 52.9M244.1 62.8L244.7 61.8M246.4 64.8L247 64M250.9 65.4L251.6 64.5M257.8 70.7L258.5 69.9M260.5 72.5L261.3 71.8M262.7 74.9L263.6 74.1M262 79.6L262.7 79M263.1 79.7L263.7 79.2M272.8 94L273.5 93.6M271.9 96.9L272.7 96.5M272.5 97.5L273.7 97M275.7 103.7L276.2 103.5M276.7 105.8L277.8 105.5M277.4 107.3L277.9 107.1M277 109L278.2 108.7M277.7 114.3L278.4 114.2M282.3 114.4L283.5 114.2M278.6 116.5L279.7 116.3M278.8 119.6L279.4 119.5M278.6 121.2L279.9 121.1M278.9 124.2L279.7 124.2M279.9 125L280.7 125M278.2 127.3L279.3 127.3M281.2 129.7L282.2 129.8M280.2 130.5L280.9 130.5M279.3 132L280.2 132.1M277.6 134.2L278.1 134.2M282.4 141.6L283.2 141.7M276.5 146L277 146.1M275 154.5L276.1 154.9M273.3 154.7L273.9 154.9M272.5 156L273.2 156.3M272.7 159.5L273.9 160M272.5 160.2L273.6 160.8M270.7 162L271.5 162.4M266.6 168.3L267.5 169M267.2 174.6L267.8 175M260.2 177.1L261 177.8M259.4 179.5L260.3 180.3M259.6 181.9L260.1 182.4M258 181.4L258.5 181.9M249.6 186.9L249.9 187.3M245.3 190.3L245.9 191.1M241 192.1L241.3 192.6M240.9 193.5L241.6 194.6M234.8 196.9L235.3 197.9M233.7 198.3L234.2 199.4M232.8 198.2L233.3 199.4M222.7 201.7L223 202.8M221.8 201.3L222 202.1M220.6 203.1L220.8 203.9M219.7 202.5L219.9 203.5M212.7 203.7L212.9 204.9M207.3 204.4L207.4 205.4M203.4 206.7L203.4 207.6M193.7 205.9L193.7 206.4M192.3 204.3L192.2 205M188.7 202.1L188.5 203.2M182.9 200.9L182.6 202M179.7 200.7L179.5 201.3M178.1 203L177.9 203.6M177.1 198.5L176.8 199.5M176.5 198L176.2 198.8M174.5 198.8L174.1 200M171.7 197.5L171.2 198.6M170.8 195.6L170.4 196.6M164 193.9L163.5 194.8M162.1 192.6L161.3 193.8M159.5 192.2L158.8 193.3M158.4 191L158 191.6M158.1 190L157.4 191M156.3 188.6L155.5 189.7M146.2 181L145.3 181.8M144 179.7L143.2 180.5M141.8 180.6L140.8 181.5M143.6 178L142.7 178.8M142.6 176.7L141.8 177.4M143 175.4L142.4 175.9M138.6 176.9L137.7 177.5M138.5 175.9L138 176.3M139.4 174.2L138.6 174.8M139.5 173.1L139 173.5M135.1 170.3L134.2 170.9M136.6 163.2L135.8 163.7M135.1 160.6L134.2 161M125.8 163.3L124.9 163.7M131.5 159.7L130.4 160.3M132.6 158.4L131.5 158.9M132.8 155.8L131.6 156.3M131.1 154L130.3 154.3M130.7 153.3L129.5 153.7M127.4 149.3L126.7 149.5M129 148L128.1 148.2M128.6 147.3L127.5 147.6M125 144.9L124.4 145.1M124.2 141.8L122.9 142M123.7 136.2L122.4 136.3M124.1 132.3L123.3 132.3M118.6 121.6L117.4 121.5M124.2 120.3L123.5 120.3M122.2 106.9L121.2 106.6M127.6 107.4L126.9 107.2M129 98.2L127.7 97.7M126.2 95.3L125.2 94.9M130.1 93.4L129.3 93M130.9 92.9L130.2 92.5M133.5 92.4L132.5 91.9M134.8 89.2L133.6 88.6M136.4 86.5L135.3 85.9M136.4 82.7L135.7 82.3M140.4 83.6L139.4 82.9M143.6 78.5L142.7 77.7M143.5 77.4L142.8 76.8M144.3 74.9L143.5 74.3M141.8 71.6L140.9 70.8M143.8 71.2L143.2 70.6M150 73.1L149.1 72.3M151.7 69.3L151.3 68.9M157.7 64.7L156.9 63.6M157.6 60.4L157.1 59.6M160.6 60.5L160.3 60M163.5 58.5L163 57.6M163.3 53L162.7 51.9M166 56.3L165.6 55.6M169.5 58.1L169 57M171.9 57.3L171.4 56.1M175.2 55.1L174.7 53.9M176 55.1L175.6 54.1M176.5 54.1L176 52.8M176.5 51.7L176 50.5M180.8 52.1L180.4 50.9M181.3 48.2L181.1 47.2M184.2 49.6L184.1 48.9M189.4 51.4L189.2 50.1" stroke="#fff" stroke-width="0.9" fill="none" opacity=".85"/>
<path d="M204.2 57.9L204.3 55M205 56.9L205.1 54.2M206.8 61.6L206.9 60.1M207.5 61.3L207.7 58.9M210.4 59.6L210.4 58.9M212.1 62L212.4 59.6M212.6 63.3L212.8 61.8M214.8 62.1L215.4 58.8M215.6 61.4L215.8 60.1M216.2 61.9L217.2 57M217.1 60.8L217.3 59.7M217.7 61.3L217.9 60.2M224.4 64.8L225.1 62.7M225.9 64.5L227.3 60.7M228.6 63.3L228.9 62.6M228.7 64.8L230.1 61.5M229.9 65.5L231.1 62.9M232.8 67.3L234 64.9M237.4 65.2L238.5 63.2M235.2 70.4L236.4 68.4M236.1 71.5L236.6 70.6M238.1 70.7L239.3 68.9M239.6 74.5L240 73.9M243.7 71L244.1 70.6M242.8 73.4L243.1 73M242.9 75.5L244.8 73M243.5 76.8L244.6 75.5M244.2 78.1L244.6 77.6M247.7 77.1L248.9 75.7M247.8 77.9L248.6 77.1M247.4 81.3L248.9 79.7M250.5 81L252.2 79.3M255.9 86.1L257.4 85M254.7 88.7L256.1 87.7M257.9 93L258.5 92.6M258.9 94.7L260.5 93.8M259.6 97.3L261 96.5M263.4 98.4L264.2 98M261.7 102.7L262.9 102.2M264.4 103.8L266.3 103.1M272.3 110.1L273.7 109.8M266.8 120.7L267.5 120.7M267 121.4L267.8 121.3M265.9 128.5L266.5 128.5M265.9 131.7L266.7 131.8M265.9 134.3L266.6 134.4M266.5 135.7L267.4 135.8M265.6 136.2L266.6 136.4M266.5 138.6L268.4 139M269.8 142.1L271 142.4M264.9 141.6L266.2 141.9M266.1 144L267.2 144.3M263.7 145.3L265.3 145.8M263.1 150.6L264.9 151.4M261.2 151.3L261.9 151.6M261.2 153.4L262.7 154.1M261.5 154.2L263.4 155.1M259.8 155.6L260.7 156M257.9 158.2L259.1 159M254.9 165.5L257.1 167.1M252.8 166.3L253.5 166.8M256.8 171.3L257.8 172.1M251.3 168.5L253.1 170M247 174.2L248 175.3M244.8 175.8L246.3 177.4M243.5 177L244.9 178.8M242.3 177.6L242.9 178.3M241.5 177.6L241.8 178.1M241.2 178.2L241.9 179.2M240.5 181.9L240.9 182.5M236.4 181.7L237.4 183.3M234.8 184.2L235.3 185M233.2 184L234.1 185.6M233.6 190.8L234.3 192.3M230.1 186.7L231 188.7M228.4 186.1L229.1 187.8M224.8 187L225 187.5M221.2 188.4L221.6 189.8M220 189.2L220.7 191.5M218.7 189.3L219 190.3M214.9 190.4L215.5 193.5M214.1 189.7L214.3 190.6M213.5 190L213.6 190.5M210.4 190.9L210.5 192.3M209.8 191.3L210.1 194.3M206.6 192.8L206.8 195.6M205.9 193.1L206 193.7M198.6 191.8L198.5 194.1M196.6 192.7L196.4 194.7M194 191.9L193.7 194M193.3 191.7L193 193.7M188.4 193.5L188 195.2M184.7 191.3L184.3 192.8M183.5 190.6L182.8 192.9M181.4 195.2L180.9 196.7M180.4 189.2L179.2 192.7M175.8 186.3L175 188.3M174.2 186.7L172.6 190.1M168.5 189.1L167.6 190.6M168 188.5L166.8 190.6M170 183.4L169.2 185M169 182.7L168 184.2M163.4 187.6L163 188.3M166.1 181L165.3 182.2M163.3 181.4L162.6 182.4M162.8 179.9L160.3 183.2M160.8 181.4L158.7 184.1M162 178.7L160.1 181.2M160.7 178.2L159.1 180.1M157 178.4L155.2 180.4M156.5 175.7L152.7 179.8M151.8 170.8L150.4 172M150.9 170.7L148.8 172.5M149.5 168.3L147.2 170.1M149.6 163.3L147.5 164.8M145.3 158.4L144.5 158.9M143.5 153.4L141.5 154.3M141.9 152.7L141.1 153M142.1 151.9L139.8 152.8M143 150.1L141.8 150.6M137.2 142.8L136.4 143M136.4 142.3L133.1 143M139 141L138.3 141.1M139.5 139.5L137.4 139.9M139.5 138.9L138.2 139.1M137.1 138.6L136 138.8M137 134.6L135.1 134.8M135.3 130.1L133.7 130.2M133.9 128.8L130.6 128.9M133.9 126.7L133.1 126.7M136.2 126L133.8 126M136.4 122.7L134.1 122.5M138.3 119L137.3 118.8M134.6 117.8L132.1 117.5M136.5 116.7L131.8 116M135 115.1L134 114.9M138.8 113L137.7 112.8M138.5 110.9L137.7 110.7M138.5 106.2L137.4 105.9M136.5 101.1L134.4 100.3M140.9 101.3L139.8 100.9M141.4 100.1L139.6 99.3M141.6 98.7L138.9 97.4M140.2 96.5L138.1 95.5M144.4 96.1L142.2 94.9M144.3 89.7L142.4 88.5M148.7 90.1L147.6 89.4M150.3 90.4L149.8 90.1M150.5 89.8L149.5 89.1M148.2 81.3L147.2 80.5M152.1 83.7L150.9 82.7M152.7 83.3L148.7 79.9M151.6 81.4L150.4 80.4M151.9 80.8L151 79.9M152 80L150.4 78.4M153.4 80.3L150.6 77.6M160 76.8L159 75.5M165 74.8L164.1 73.5M165.9 72.6L164.4 70.4M163.3 67.5L162.2 65.8M163.9 67.1L162.8 65.5M173.3 67.6L172.3 65.4M176.1 68.5L175.6 67.3M177.3 66.2L176.7 64.9M176.5 60.7L176.2 59.8M180.3 66.6L180 66M183.3 63.2L182.6 61M184.5 62.5L184.4 62M189.4 62.9L188.8 59.8M192.6 61.9L192.5 61.3" stroke="#88ccef" stroke-width="0.8" stroke-dasharray="1.6 .4 1.2 .5 2 .4 .9 .6" fill="none"/>
<path d="M203.5 61.3L203.5 58M206.2 60.5L206.4 56.9M209.8 58.2L210.2 54.6M211.3 57.3L211.7 54.2M211.7 60.3L212.2 56M213.4 62.1L213.5 61.5M214.7 58.5L214.9 57.5M218.2 62.1L218.7 60.1M222.5 59.5L223.3 56.6M222.1 63L222.4 62.2M223.1 62.2L224.4 58.1M224 63.9L224.2 63.2M225.8 62.9L226.3 61.4M226.9 63.8L227.4 62.5M227.1 65.1L229.3 59.6M230.5 65.7L232.1 62.2M230.6 67.1L232.6 62.9M233.3 64.7L234.4 62.4M234.5 69L236 66.3M235.8 70.8L236.6 69.3M236.9 71.4L238.4 69M237.9 72.4L239.7 69.6M239.5 73.4L240.8 71.6M246.1 76.9L248 74.7M247.3 76.5L249.2 74.3M251.1 75.5L252.9 73.6M248.8 80.8L249.5 80.1M250 80.5L251.7 78.9M250.5 82.8L252 81.4M252.3 83.8L253.6 82.7M252.2 84.8L253.7 83.6M257.9 85.5L258.7 84.9M254.9 89.3L255.9 88.7M256.3 90.9L258.8 89.2M257.4 90.9L258.2 90.4M257.8 91.5L259.7 90.3M258.8 93.2L260.4 92.2M260 95.6L260.5 95.3M261.4 97.8L262.8 97.2M265.8 96.4L266.3 96.2M263.1 99.2L264 98.8M262.2 101.1L262.7 100.9M262 103.3L262.9 102.9M263.8 103.3L265.7 102.5M270.8 102.2L271.4 101.9M265 107.8L265.9 107.5M266.7 109.4L269.8 108.5M267.3 110.6L269 110.2M266.2 114.9L267.4 114.6M273.3 114.3L274.7 114M265.3 117.6L266.4 117.5M267.2 125.9L268.3 125.9M266.6 129.8L267.5 129.9M272.5 130.8L274.4 130.9M265.9 132.4L267 132.5M266.1 133.1L267 133.1M267.1 139.4L268.6 139.7M272.1 147.1L272.9 147.3M263.3 146.6L263.8 146.7M263.5 148L264.6 148.4M262.9 149.2L264.5 149.8M261.7 150.8L263.1 151.4M261.7 152.9L262.5 153.3M259 155.9L259.8 156.3M259.2 156.8L260.3 157.3M264 165.8L264.4 166M255.1 164L257.2 165.5M250.2 170.1L250.8 170.6M249 171.6L250.6 173.2M247.7 174.1L248.7 175.1M241.2 179.4L241.8 180.2M237.9 180.5L239.1 182.2M231.5 185L232.1 186.2M230.7 186.3L232 189.1M231.3 191.1L232.3 193.3M227.7 186.1L228 186.8M227.1 186.4L227.3 187M225.6 187.4L226.7 190.1M221.8 188.4L222.1 189.3M220.9 194.9L221.5 197.3M218 189L218.2 189.9M211.6 190.1L211.9 192.4M209.1 191.8L209.3 192.9M207.2 192.6L207.5 196M204.8 199.3L204.8 200M202.6 192.4L202.6 193.4M199.3 191.3L199.2 193.7M197.9 192.1L197.8 193.7M197.3 191.2L197.1 193.8M195.8 193.4L195.6 195.1M190.4 193L189.8 196.2M186.4 190L186 191.6M178.4 187.1L177.3 189.8M178 186.2L177.8 186.9M173.8 186L172.1 189.4M171.4 186.6L168.9 191.4M169.2 183.5L168.7 184.5M166.9 184.8L166.4 185.5M167.1 183.1L166.6 184M165.9 180.1L164.2 182.5M163.3 180.4L163 180.8M161 176.8L159.2 178.9M157.8 179.6L156.2 181.4M159.1 176.9L156.7 179.7M154.6 176.7L153.2 178.2M154 176.3L153.7 176.7M155.6 171.9L154.3 173.2M154.9 170.7L154.5 171.2M146.8 173.3L146.3 173.6M152.4 167.7L151.4 168.5M150.5 168.4L147.9 170.5M149.1 167.8L148.7 168.1M149.4 165.1L148.2 165.9M149 164.5L146.5 166.2M149.1 162.8L148 163.6M148.1 161.9L143.9 164.6M146.7 159.2L145.3 160M146.7 158.4L145.9 158.9M145.6 156.8L143.6 157.9M145.7 156L143.5 157.1M145 154.9L143.6 155.6M139.1 157L138.6 157.2M144.3 153.8L143.1 154.3M137.9 152.9L136.4 153.5M142.5 148.9L140.9 149.5M141.8 148.5L140.6 148.9M139.8 145.5L138.6 145.9M139.6 144.9L137.8 145.4M140 144.1L137.7 144.8M134.8 138.3L132.8 138.7M136.5 135.3L133.7 135.7M135.9 130.8L134.2 130.9M136.5 129.4L135.2 129.4M135.7 128.1L133.8 128.1M134.4 127.4L132.6 127.4M136.1 125.4L134.1 125.3M137.2 124.7L135.8 124.7M135.8 117.3L133.8 117M134.1 115.6L131.2 115.1M139 111.7L133.8 110.5M138.6 110.3L134.1 109.1M140.2 110L138.3 109.5M139.8 109.2L136.8 108.4M138.7 104.9L135.7 103.8M138.5 104.1L137.7 103.8M135.6 101.5L134.1 100.9M138.5 101.1L134.7 99.6M138 99.4L136.8 98.8M140.6 99L136.4 97.1M140.8 97.5L136.4 95.5M142.5 96.8L139.2 95.2M146.6 94.2L146 93.9M148.2 90.6L146.9 89.7M150.6 89.1L149.4 88.2M145.6 83L144.6 82.2M149 84.7L146.3 82.5M151 85.4L150.4 84.9M151.1 84.6L149.4 83.2M156.6 80.9L154.8 79M155.7 79L153.5 76.8M156.4 78.7L155.5 77.8M156.8 78.2L155.3 76.6M156.4 76.8L153.1 73.2M160 77.8L159.3 76.9M161.1 77L160.3 76M161 75.9L160.2 74.8M159.2 72.5L157.2 70.1M173 69.9L172.5 68.8M173.1 68.6L172.7 67.7M173.9 67.2L172.6 64.6M176.9 67L175.9 64.7M179.5 66.4L178.4 63.5M180.6 65.5L180.2 64.4M181.2 65.2L180.8 64.1M183.8 62.4L183 59.7M186.3 64.1L185.8 61.9M186.9 63.5L186.4 61.8M187.3 62.4L186.7 59.9M187.3 59.6L187.2 59M190.2 63.7L190 62.7M192.2 63.3L192.1 62.7" stroke="#88ccef" stroke-width="0.8" stroke-dasharray="1.1 .5 1.8 .4 .9 .6 1.5 .4" fill="none"/>
<path d="M204.3 54.2L204.4 53.6M205.4 62.9L205.8 53.7M207 58.5L207.3 53.8M215.5 58.4L216.1 54.9M222.6 61.4L224 56.8M226.9 59.7L227.6 58M236.4 65.5L237.9 62.7M237.1 68.4L239.9 63.8M239.5 67.2L241.1 64.6M240.2 68.8L242.4 65.4M240 70.3L243 65.8M242.5 69.1L244.2 66.6M248.1 74.5L250.7 71.6M249.8 73.7L251.2 72.1M247.5 80.2L253.4 74.1M250.7 78.9L254.5 75.1M254.8 81.7L258 78.9M263.8 95.1L267.6 93.1M267.2 104.2L271.7 102.6M268.2 106.8L272.6 105.5M269 113.7L274.4 112.6M269.6 120.5L275.5 119.9M266.8 124.6L275.8 124.3M268.2 126.6L275.8 126.6M269.9 130L275.7 130.3M267 131.2L275.6 131.8M268.3 144.6L273.3 145.9M267.2 146.4L272.6 148M266.7 147.7L272.2 149.5M266.3 151.9L270.7 153.6M265.1 154.4L269.6 156.4M262.8 158.7L267.3 161M257.6 164.1L263.2 167.9M248.8 173.3L254.2 178.7M251.1 177.6L253.1 179.7M246.9 177.1L251 181.7M246.3 177.5L250.4 182.2M246.6 180.8L248.8 183.6M244.9 179.9L248.3 184M236.9 181.3L241.6 188.7M231.5 183.5L235.8 192M233.3 188.7L235.2 192.4M224.3 187.4L227.2 195.7M222.1 191.6L223.7 196.9M219.7 193.2L220.9 197.7M217 190.7L218.7 198.2M214.2 193.8L215.1 198.9M211.3 192.6L212.1 199.4M198.3 196.6L198.1 199.9M195.5 196L195.2 199.6M191.9 192.1L190.8 199M183.7 194.9L183 197.3M176.2 192.6L175.3 194.7M177.2 188.3L174.6 194.4M166.8 186.3L164.8 189.5M166.3 184.4L163.6 188.7M165.3 182.2L161.7 187.5M162.5 185.1L161.1 187.1M161.1 184.6L159.9 186.3M159 184.9L158.7 185.4M160.3 179.8L156.9 184M157.9 180.5L155.8 183.1M152.5 177.9L151.4 179.1M151.8 175.6L149.8 177.5M153.8 172.7L149.3 177M147 171.2L145.4 172.5M149.3 161.9L141.5 167.1M143 165.2L141.1 166.5M144.9 160.2L139.3 163.5M143 159.7L138.5 162.2M145 157.9L138.2 161.5M140.9 159.3L137.8 160.9M143.5 155.6L136.8 158.9M140.7 155.5L136.2 157.6M140.6 151L134.4 153.5M138.4 150.4L133.9 152.1M136.6 143.6L131.7 144.9M138.3 140.5L131 142M136.6 139.4L130.7 140.6M136 131.4L129.6 131.9M134.5 129.5L129.5 129.7M132.1 125.3L129.4 125.2M135.1 123.3L129.5 123M133.8 122.5L129.5 122.3M135.5 121.3L129.6 120.8M137.2 120.7L129.7 120M132.3 114.6L130.5 114.3M135.6 114.5L130.6 113.5M136 108.9L131.9 107.8M136.2 103.3L133.6 102.3M138 97L136.1 96.2M139.9 93.7L137.9 92.6M146.1 93.2L139.7 89.4M148.6 93.9L140.1 88.7M147.5 87.6L142.9 84.4M147 80.3L146.4 79.8M148.9 79.1L147.9 78.2M162 70.7L159.7 67.5M165.4 73.1L160.9 66.6M166.4 69.7L163.4 65M170.9 65.8L168.8 61.8M175.4 63.5L173.7 59.5M179.6 63L177.8 57.9M183 64.6L180.6 57M182.8 59.2L182.1 56.5M187 58.2L186.4 55.4" stroke="#88ccef" stroke-width="0.8" stroke-dasharray=".6 1.6 .5 2.3 .6 3.4 .5 4.1" fill="none"/>
<path d="M209 59.7L209.5 53.9M213.3 58.4L213.9 54.5M215.3 55.3L215.4 54.7M217.6 58.7L218.3 55.3M218.6 57.2L219 55.5M218.9 59L219.8 55.6M224.9 61L226.2 57.5M230.8 59.8L231 59.3M232 60.7L232.4 59.9M237.3 69.4L240.5 64.2M246.9 70.4L247.8 69.2M246.3 73.5L249 70.2M244.3 76.9L249.6 70.6M250.4 82L256 76.7M252.8 80.7L256.5 77.3M252.8 85.2L258.9 80.1M254.7 85.4L259.9 81.2M259.8 88.5L263.4 86.1M259.7 90.2L264.3 87.3M259.8 91L264.7 88M261.1 91.8L265.4 89.2M261.4 92.5L265.8 89.9M261.7 94.6L266.9 91.8M265.6 95.8L268.3 94.4M266.5 96.9L268.9 95.8M264.1 107.4L272.4 104.7M271.1 108.2L273.2 107.6M271.4 109.6L273.6 109M267.5 112L274 110.5M270.2 114.1L274.5 113.3M268.6 117.2L275 116.2M268 118.6L275.2 117.7M266.8 125.3L275.8 125.1M267.8 131.9L275.6 132.5M268.6 134L275.4 134.7M268.1 134.6L275.3 135.4M268.8 139.8L274.4 140.9M272.8 142.8L274 143M267.5 142.3L273.8 143.8M266.3 142.7L273.6 144.5M266.8 149.2L271.7 150.9M265.1 150L271.2 152.3M264.6 150.5L271 153M262.1 157.5L267.6 160.4M259.3 161.2L265.2 164.8M254.9 161.5L263.6 167.3M257.8 166.8L261.9 169.7M254.9 168L260.1 172.1M253.9 169.8L258.7 173.8M249.4 172.9L254.7 178.2M242.6 180.2L246.5 185.4M242.9 181.7L245.9 185.8M240.4 183L243.5 187.5M236.9 183.8L240.4 189.5M236.2 185.2L239.1 190.3M235.3 186.4L237.8 191M232.8 184.7L236.5 191.7M231.4 189.5L233.2 193.3M227.7 187.9L230.4 194.5M218.3 190.5L220.2 197.9M215.6 193.7L216.5 198.7M212.8 189.8L214.3 199.1M210.7 193.5L211.4 199.5M203.9 192.5L204.1 200M197.7 196.2L197.4 199.8M196.9 196.2L196.7 199.8M195.2 193L194.4 199.5M193.5 195L193 199.4M192.4 193.1L191.5 199.2M190.8 194.8L190 198.9M187.7 196.7L187.4 198.4M180.8 190.2L178.8 196M179.6 189.5L177.4 195.5M174.4 189.7L172.6 193.6M173 191L171.9 193.3M171.1 185.6L168.1 191.3M163 183.1L160.5 186.7M162.9 180.9L159.3 185.8M155.8 173.6L150.8 178.6M148.8 173.4L147.3 174.8M148.2 166.7L143.6 170.1M147.4 164L141.9 167.7M142.9 160.5L138.9 162.8M141 158.4L137.5 160.2M142.1 153.3L135.6 156.2M140.9 153.1L135.3 155.5M135.4 145.4L132.1 146.3M136.9 136.6L130.2 137.6M130.5 128.2L129.4 128.2M130.6 127.4L129.4 127.4M135 124.7L129.4 124.5M137 112.6L131 111.4M138.1 112.2L131.2 110.6M134.3 107.7L132.1 107M137.4 105.9L132.9 104.4M135.6 103.8L133.4 103M138.3 100.3L134.9 98.9M149.6 92.3L141.3 86.9M148 87.2L143.4 83.8M148 79.3L147.4 78.7M154.9 76.2L152.4 73.5M158.3 76.8L154 72M158.8 75.3L155.2 71.1M165.3 74.1L160.3 67M162.8 68L161.5 66.2M171.8 66.1L169.5 61.5M177.1 69L173 59.8M181.4 63.9L179.2 57.4M181.8 58.3L181.4 56.8M186.1 65.9L183.5 56.1M185.6 58.6L184.9 55.8M190 62.6L188.5 55M190.1 59.4L189.3 54.8M191.8 61.2L190.7 54.6M192 58L191.5 54.5" stroke="#88ccef" stroke-width="0.8" stroke-dasharray=".5 2.1 .7 1.7 .5 3.8 .6 2.9" fill="none"/>
<path d="M217.4 55.9L217.6 55.1M223.6 62.9L225.5 57.3M232.1 65.6L234.4 60.9M234.9 63.1L235.7 61.5M232.5 69.2L236.4 61.9M239.9 71.6L243.6 66.2M240.4 73.3L244.9 67M244.6 69.9L246.1 67.9M244.2 72.7L247.2 68.8M244.9 77.2L250.1 71.1M250.2 78.4L253.9 74.6M253.2 78.4L255.5 76.2M252.8 86L259.4 80.7M259.9 83.1L260.8 82.4M257.3 86.8L261.7 83.6M259.1 92.3L265 88.6M261.1 93.4L266.2 90.5M262.6 94.9L267.2 92.5M266.8 96L268.6 95.1M264 101L270.1 98.5M265.6 101.1L270.4 99.2M267 105.7L272.2 104M264.5 109.3L273 106.9M271 108.9L273.4 108.3M267.1 116.1L274.8 114.8M268 116.6L274.9 115.5M269.5 117.7L275.1 117M270.8 121L275.5 120.7M268.8 122.6L275.7 122.1M265.4 123.4L275.7 122.9M270.2 125.9L275.8 125.8M267.9 128.6L275.8 128.8M267.7 129.2L275.7 129.5M274.6 131L275.7 131M267 132.5L275.5 133.2M268.7 136.7L275 137.6M268.3 137.3L274.9 138.4M267.5 140.2L274.3 141.6M267.1 140.8L274.1 142.3M265.3 143.1L273.5 145.2M265.5 146.6L272.4 148.8M265.5 152.3L270.4 154.3M265 155.1L269.3 157.1M262.4 156.2L268.3 159.1M260.5 159L266.6 162.4M258.9 161.8L264.8 165.4M259.5 167.1L262.3 169.1M256 167.1L261 170.9M258.5 172.7L259.2 173.2M252.3 170.1L257.8 174.9M251.8 172.4L256.3 176.6M250.3 172L255.8 177.1M248.1 175.4L252.6 180.3M245.6 173.7L252.1 180.8M246.4 175.6L251.5 181.3M243 179.6L247.1 184.9M242.2 182L245.3 186.3M239.6 179.4L244.7 186.7M237.8 184L241 189.1M236.1 183.7L239.7 189.9M232.7 190.7L233.8 193M230.5 190.9L231.8 193.9M223.3 190.9L225.1 196.4M221 192.6L222.3 197.3M217.5 189.9L219.4 198M216.6 191.9L218 198.4M214.9 193.9L215.8 198.8M212.2 194.7L212.9 199.3M209.4 194.4L209.9 199.6M205.3 193.1L205.5 199.9M203.2 193.1L203.3 200M202.6 193.7L202.6 200M196.1 197.9L195.9 199.7M194.7 191.5L193.7 199.5M192.6 196.7L192.2 199.3M187.7 190.6L185.9 198.1M185.3 194.7L184.5 197.7M185.4 191.4L183.8 197.5M178.2 191.3L176.7 195.3M178.4 188.9L176 195M171.2 191.3L170.6 192.6M168.4 184.9L165.5 189.9M164.8 188.1L164.2 189.1M158.6 180.8L156.4 183.5M156.7 179.8L154.7 182.1M154.1 174.3L150.3 178M154.2 171.4L148.8 176.4M145.6 169.5L144 170.7M147.4 166.5L143.2 169.5M145.7 166.8L142.7 168.9M145.9 165.8L142.3 168.3M138.2 153.5L135 154.8M135.8 153.7L134.7 154.2M141.3 150.1L134.2 152.8M137.4 150.1L133.7 151.4M135.9 146L132.3 147M137.4 144.1L131.9 145.6M134 143.5L131.5 144.2M137.6 141.3L131.2 142.7M136.6 140.1L130.8 141.3M138 135.8L130.1 136.9M134.2 134.9L129.9 135.4M132.6 126.7L129.4 126.7M131.8 126L129.4 126M135.9 122L129.6 121.5M131.4 115.9L130.2 115.7M131.2 115.1L130.4 115M137.2 110.6L131.5 109.2M139 108.3L132.3 106.3M136.4 98.7L135.2 98.2M138.9 95.1L137.1 94.2M143.7 94.9L138.2 92M145 94.9L138.6 91.3M144.7 88.3L141.7 86.2M147.4 88.5L142.5 85M148.1 82.2L146 80.4M153.6 75.8L151.9 74M157.1 74.4L154.6 71.5M159.6 75.2L155.7 70.6M166.5 63.7L166.2 63.3M172.2 65.2L170.2 61.2M171.3 61.9L170.8 60.9M178.2 63L176.4 58.4M180.7 63.9L178.5 57.7M185 58.9L184.2 55.9" stroke="#88ccef" stroke-width="0.8" stroke-dasharray=".7 1.3 .5 3.2 .5 2.4 .6 4.5" fill="none"/>
<path d="M203.5 64.8L203.5 61.3M204.1 64.8L204.2 57.9M204.7 64.8L205 56.9M206 64.9L206.2 60.5M206.6 64.9L206.8 61.6M207.2 65L207.5 61.3M207.8 65L208.2 60.3M208.5 65.1L208.9 60.4M209.1 65.1L209.8 58.2M209.7 65.2L210.4 59.6M210.3 65.3L211.3 57.3M211 65.4L211.7 60.3M211.6 65.5L212.1 62M212.2 65.5L212.6 63.3M212.8 65.6L213.4 62.1M213.4 65.8L214.7 58.5M214.1 65.9L214.8 62.1M214.7 66L215.6 61.4M215.3 66.1L216.2 61.9M215.9 66.2L217.1 60.8M216.5 66.4L217.7 61.3M217.1 66.5L218.2 62.1M220.2 67.3L222.5 59.5M220.8 67.5L222.1 63M221.4 67.7L223.1 62.2M222 67.9L222.3 66.9M222.5 68.1L224 63.9M223.1 68.3L224.4 64.8M223.7 68.5L225.8 62.9M224.3 68.7L225.9 64.5M224.9 69L226.9 63.8M225.5 69.2L227.1 65.1M226.1 69.4L228.6 63.3M226.7 69.7L228.7 64.8M227.2 69.9L230.2 63.1M227.8 70.2L229.9 65.5M228.4 70.4L230.5 65.7M228.9 70.7L230.6 67.1M229.5 70.9L231.7 66.5M230.1 71.2L233.3 64.7M230.6 71.5L232.8 67.3M231.2 71.8L231.5 71.2M232.5 72.5L234.5 69M233.1 72.8L237.4 65.2M233.6 73.1L235.2 70.4M234.2 73.4L235.8 70.8M234.7 73.8L236.1 71.5M235.2 74.1L236.9 71.4M235.8 74.4L238.1 70.7M236.3 74.8L237.9 72.4M236.8 75.1L238.1 73.2M237.4 75.5L239 73.1M237.9 75.8L239.5 73.4M238.4 76.2L239.6 74.5M238.9 76.5L240.4 74.4M239.4 76.9L243.7 71M239.9 77.3L242.8 73.4M240.4 77.7L242.3 75.2M240.9 78L242.9 75.5M241.9 78.8L243.5 76.8M242.4 79.2L243.5 77.9M242.8 79.6L244.2 78.1M243.3 80L246.1 76.9M243.8 80.5L247.3 76.5M244.3 80.9L247.7 77.1M244.7 81.3L247.8 77.9M245.2 81.7L251.1 75.5M245.6 82.2L246 81.8M246.1 82.6L247.4 81.3M246.5 83L248.8 80.8M247 83.5L250 80.5M247.4 83.9L250.5 81M247.8 84.4L248.4 83.9M248.3 84.9L250.5 82.8M248.7 85.3L249.4 84.7M249.5 86.3L252.3 83.8M249.9 86.7L252.2 84.8M250.7 87.7L251.2 87.4M251.5 88.7L251.9 88.4M251.9 89.2L255.9 86.1M252.3 89.7L257.9 85.5M252.6 90.2L254.7 88.7M253 90.7L254.9 89.3M254.1 92.3L256.3 90.9M254.5 92.9L257.4 90.9M254.8 93.4L257.8 91.5M255.2 93.9L257.9 92.2M255.5 94.4L257.9 93M255.8 95L258.8 93.2M256.1 95.5L259.3 93.7M256.4 96.1L258.9 94.7M257.1 97.2L260 95.6M257.4 97.7L259.7 96.5M257.6 98.3L259.6 97.3M258.2 99.4L261.4 97.8M258.5 100L265.8 96.4M258.8 100.5L263.4 98.4M259 101.1L263.1 99.2M259.5 102.2L262.2 101.1M259.8 102.8L262.2 101.8M260 103.4L261.7 102.7M260.2 104L262 103.3M260.5 104.6L263.8 103.3M260.7 105.2L264.4 103.8M260.9 105.7L270.8 102.2M261.1 106.3L265.6 104.8M261.3 106.9L261.9 106.7M261.5 107.5L262 107.4M261.7 108.1L263.5 107.6M261.9 108.7L265 107.8M262.3 109.9L262.6 109.8M262.4 110.5L266.7 109.4M262.6 111.1L267.3 109.9M262.7 111.7L267.3 110.6M262.9 112.4L272.3 110.1M263.4 114.8L265.3 114.4M263.5 115.4L266.2 114.9M263.7 116L273.3 114.3M263.8 116.6L266.5 116.2M263.9 117.2L264.2 117.2M264 117.9L265.3 117.6M264 118.5L265.9 118.2M264.2 119.7L266.9 119.4M264.3 121L266.8 120.7M264.4 121.6L267 121.4M264.4 122.2L265.9 122.1M264.5 122.8L265.7 122.8M264.6 126L267.2 125.9M264.6 127.2L264.9 127.2M264.6 127.9L275.3 128M264.6 128.5L265.9 128.5M264.6 129.1L265.8 129.2M264.5 129.7L266.6 129.8M264.5 130.4L272.5 130.8M264.4 131.6L265.9 131.7M264.4 132.2L265.9 132.4M264.3 132.9L266.1 133.1M264.2 133.5L265.9 133.7M264.2 134.1L265.9 134.3M264.1 134.7L266.5 135.1M264 135.4L266.5 135.7M263.9 136L265.6 136.2M263.8 136.6L266.3 137M263.6 138.1L266.5 138.6M263.4 138.7L267.1 139.4M263.3 139.3L263.8 139.4M263.2 139.9L263.7 140.1M263.1 140.6L269.8 142.1M262.9 141.2L264.9 141.6M262.8 141.8L263.4 141.9M262.6 142.4L263.4 142.6M262.4 143L266.1 144M262.3 143.6L265 144.4M262.1 144.2L272.1 147.1M261.9 144.8L263.7 145.3M261.7 145.4L263.3 145.9M261.6 146L263.3 146.6M261.4 146.6L261.7 146.7M261.2 147.2L263.5 148M260.9 147.8L263.2 148.6M260.7 148.4L262.9 149.2M260.3 149.5L263.1 150.6M260 150.1L261.7 150.8M259.8 150.7L261.2 151.3M259.6 151.3L261.6 152.2M259.3 151.9L261.7 152.9M259.1 152.4L261.2 153.4M258.8 153L261.5 154.2M258.5 153.6L260.4 154.4M258.3 154.1L260.6 155.3M258 154.7L259.8 155.6M257.7 155.3L259 155.9M257.4 155.8L259.2 156.8M257.1 156.4L258.7 157.2M256.8 156.9L257.1 157.1M256.5 157.5L257.9 158.2M255.6 159L255.9 159.2M255.3 159.5L255.8 159.8M254.9 160L264 165.8M253.9 161.6L254.2 161.8M253.6 162.1L253.8 162.3M253.2 162.6L255.1 164M252.8 163.1L255.9 165.4M252.5 163.7L254.9 165.5M252.1 164.2L252.7 164.6M251.3 165.1L252.8 166.3M250.9 165.6L257.1 170.6M250.5 166.1L256.8 171.3M250.1 166.6L250.5 166.9M249.7 167.1L251.3 168.5M249.3 167.6L249.8 168M248.5 168.5L250.2 170.1M248.1 169L249.7 170.5M247.6 169.4L249.1 170.8M247.2 169.9L249 171.6M246.3 170.8L246.6 171.1M245.9 171.2L247.6 173M245.4 171.6L247.7 174.1M245 172.1L247 174.2M244.5 172.5L244.9 172.9M244 172.9L244.4 173.3M243.6 173.3L243.9 173.7M243.1 173.8L244.8 175.8M241.8 174.9L243.5 177M241.3 175.3L243.1 177.6M240.8 175.7L242.3 177.6M240.3 176L241.5 177.6M239.8 176.4L241.2 178.2M239.3 176.8L241.2 179.4M238.8 177.2L239.3 177.9M237.7 177.9L240.5 181.9M237.2 178.2L239.5 181.6M236.7 178.6L237.9 180.5M235.6 179.3L236.6 180.8M235.1 179.6L236.4 181.7M234.6 179.9L234.9 180.4M234 180.2L234.5 181M233.5 180.6L235.8 184.5M233 180.9L234.8 184.2M232.4 181.2L233.6 183.4M231.8 181.5L233.2 184M231.3 181.8L231.4 182M230.2 182.3L231.5 185M229.6 182.6L233.6 190.8M229 182.9L230.7 186.3M228.5 183.1L230.1 186.7M227.9 183.4L231.3 191.1M227.3 183.7L228.4 186.1M226.8 183.9L227.7 186.1M226.2 184.1L227.1 186.4M224.6 184.7L225.6 187.4M224.1 185L224.8 187M223.5 185.2L224.1 186.9M222.9 185.4L223 185.7M221.7 185.8L221.8 186.1M221.1 186L221.8 188.4M220.5 186.2L221.2 188.4M219.3 186.5L220 189.2M218.7 186.7L220.9 194.9M218.1 186.8L218.7 189.3M217.5 187L218 189M216.9 187.1L217.2 188.6M216.2 187.3L216.7 189.2M215.6 187.4L216.3 190.6M215 187.5L215.7 191.1M214.4 187.7L214.9 190.4M213.8 187.8L214.1 189.7M213.2 187.9L213.5 190M211.9 188.1L212 188.8M211.3 188.2L211.6 190.1M210.7 188.3L211.1 191.3M210.1 188.3L210.4 190.9M209.4 188.4L209.8 191.3M208.8 188.5L209.1 191.8M207 188.6L207.2 192.6M206.3 188.7L206.6 192.8M205.7 188.7L205.9 193.1M205.1 188.7L205.1 189.4M204.5 188.8L204.8 199.3M203.8 188.8L203.8 189.5M203.2 188.8L203.2 190M202.6 188.8L202.6 192.4M199.4 188.7L199.3 191.3M198.8 188.7L198.6 191.8M198.2 188.6L197.9 192.1M197.6 188.6L197.3 191.2M196.9 188.5L196.6 192.7M196.3 188.5L195.8 193.4M195.7 188.4L195.3 191.5M195.1 188.3L194.7 191.1M194.4 188.3L194 191.9M193.8 188.2L193.3 191.7M193.2 188.1L193.1 188.6M192.6 188L192.5 188.7M191.3 187.8L190.4 193M189.7 187.4L188.4 193.5M189.1 187.3L186.7 198.2M188.5 187.2L187.9 189.4M187.2 186.9L186.4 190M186.6 186.7L186.5 187.1M186 186.5L184.7 191.3M184.8 186.2L183.5 190.6M184.2 186L181.4 195.2M183.6 185.8L183.4 186.7M183 185.6L182.3 188M182.4 185.4L182.1 186.3M181.8 185.2L180.4 189.2M181.3 185L179.8 189M180.7 184.8L179.3 188.5M180.1 184.6L179.8 185.2M179.5 184.3L178.4 187.1M178.9 184.1L178 186.2M178.3 183.9L178.2 184.3M177.8 183.6L176.3 186.8M177.2 183.4L175.8 186.3M176.6 183.1L174.3 188.1M176 182.8L174.2 186.7M175.5 182.6L173.8 186M173.9 181.8L171.4 186.6M173.3 181.5L173.1 181.9M172.8 181.2L168.5 189.1M172.2 180.9L168 188.5M171.7 180.6L170 183.4M171.2 180.2L169.2 183.5M170.6 179.9L169 182.7M170.1 179.6L166.9 184.8M169.6 179.3L167.1 183.1M169 178.9L163.4 187.6M168.5 178.6L162.5 187.6M168 178.2L166.1 181M167.5 177.9L165.9 180.1M166.9 177.5L164.2 181.4M166.4 177.2L163.3 181.4M165.9 176.8L163.3 180.4M165.4 176.4L162.8 179.9M164.9 176L160.8 181.4M164.4 175.6L162 178.7M163.9 175.3L163.5 175.8M163.4 174.9L160.7 178.2M163 174.5L161 176.8M162.5 174.1L157.8 179.6M162 173.7L159.1 176.9M161.5 173.2L157 178.4M160.1 171.9L156.5 175.7M159.6 171.5L154.6 176.7M159.2 171.1L154 176.3M158.8 170.6L156.3 173M158.3 170.2L158 170.5M157.9 169.7L155.6 171.9M157.4 169.3L155.5 171.1M157 168.8L154.9 170.7M156.6 168.4L156.3 168.6M156.2 167.9L155.6 168.4M155.8 167.4L151.8 170.8M155.3 166.9L150.9 170.7M154.9 166.5L146.8 173.3M154.5 166L152.4 167.7M154.2 165.5L150.5 168.4M153.8 165L149.5 168.3M153.4 164.5L149.1 167.8M153 164L146.9 168.6M152.6 163.5L151.9 164M152.3 163L149.4 165.1M151.9 162.5L149 164.5M151.5 162L149.6 163.3M151.2 161.4L149.1 162.8M150.8 160.9L150.2 161.4M150.5 160.4L148.1 161.9M148.9 157.9L146.7 159.2M148.6 157.3L146.7 158.4M148.3 156.8L145.3 158.4M148 156.2L146.1 157.3M147.7 155.7L145.6 156.8M147.4 155.1L145.7 156M147.2 154.6L144.9 155.7M146.9 154L145 154.9M146.6 153.4L139.1 157M146.3 152.9L144.3 153.8M146.1 152.3L143.5 153.4M145.8 151.7L142.6 153.1M145.6 151.1L141.9 152.7M145.3 150.6L142.1 151.9M145.1 150L137.9 152.9M144.9 149.4L143 150.1M144.6 148.8L142.5 149.6M144.4 148.2L142.5 148.9M144.2 147.6L141.8 148.5M143.2 144.5L139.8 145.5M143 143.9L139.6 144.9M142.8 143.3L140 144.1M142.5 142.1L136.8 143.6M142.4 141.5L137.2 142.8M142.2 140.9L136.4 142.3M142.1 140.3L139 141M142 139.7L141.3 139.8M141.8 139.1L139.5 139.5M141.7 138.4L139.5 138.9M141.6 137.8L137.1 138.6M141.5 137.2L134.8 138.3M141.2 135.4L140.5 135.4M141.1 134.7L136.5 135.3M141 134.1L137 134.6M140.7 131.1L136.9 131.4M140.7 130.5L135.9 130.8M140.7 129.9L135.3 130.1M140.6 129.2L136.5 129.4M140.6 128.6L133.9 128.8M140.6 128L135.7 128.1M140.6 127.3L134.4 127.4M140.6 126.7L133.9 126.7M140.6 126.1L136.2 126M140.6 125.5L136.1 125.4M140.6 124.8L137.2 124.7M140.7 124.2L131.8 123.8M140.7 123.6L139.7 123.5M140.7 123L136.4 122.7M140.8 122.3L140.2 122.3M140.9 121.1L139 120.9M141.1 119.3L138.3 119M141.1 118.7L134.6 117.8M141.2 118L135.8 117.3M141.3 117.4L136.5 116.7M141.4 116.8L134.1 115.6M141.5 116.2L135 115.1M141.6 115.6L136.7 114.7M142 113.7L138.8 113M142.3 112.5L139 111.7M142.4 111.9L138.5 110.9M142.6 111.3L138.6 110.3M142.7 110.7L140.2 110M142.9 110.1L139.8 109.2M143.1 109.5L142.1 109.2M143.6 107.9L138.5 106.2M143.8 107.3L139.1 105.7M144 106.7L138.7 104.9M144.2 106.1L138.5 104.1M144.6 104.9L135.6 101.5M144.8 104.3L136.5 101.1M145.1 103.7L138.5 101.1M145.3 103.1L140.9 101.3M145.5 102.6L138 99.4M145.8 102L141.4 100.1M146 101.4L140.6 99M146.3 100.8L141.6 98.7M146.6 100.3L140.8 97.5M146.8 99.7L140.2 96.5M147.1 99.2L142.5 96.8M147.8 97.8L144.4 96.1M148.1 97.3L147.7 97.1M148.4 96.7L148.1 96.6M149 95.6L146.6 94.2M149.3 95.1L146.4 93.4M149.6 94.6L149.2 94.3M150 94L146.2 91.7M150.3 93.5L144.3 89.7M150.6 93L150.1 92.6M151 92.5L148.2 90.6M151.3 91.9L148.7 90.1M151.7 91.4L150.3 90.4M152.1 90.9L150.5 89.8M152.4 90.4L150.6 89.1M153.5 89L145.6 83M153.9 88.5L149 84.7M154.2 88L151 85.4M154.6 87.5L151.1 84.6M155 87L148.2 81.3M155.4 86.5L152.1 83.7M155.9 86.1L152.7 83.3M156.3 85.6L151.6 81.4M156.7 85.1L151.9 80.8M157.1 84.7L152 80M157.5 84.2L153.4 80.3M158.7 83L156.6 80.9M159.2 82.5L155.7 79M159.6 82.1L156.4 78.7M160.1 81.7L156.8 78.2M160.5 81.2L156.4 76.8M161.5 80.4L160.9 79.7M161.9 80L160 77.8M162.4 79.6L160 76.8M162.9 79.2L161.1 77M163.4 78.8L161 75.9M163.9 78.4L159.2 72.5M166.3 76.6L165 74.8M166.8 76.2L166.6 75.9M167.8 75.5L165.9 72.6M168.3 75.1L163.3 67.5M168.9 74.8L163.9 67.1M169.4 74.4L168.8 73.5M171.8 73L167.1 64.8M172.4 72.7L171.6 71.3M172.9 72.4L172.5 71.7M173.5 72.1L173.2 71.7M174 71.8L173 69.9M174.6 71.5L173.1 68.6M175.1 71.2L173.3 67.6M175.7 70.9L173.9 67.2M177 70.3L176.1 68.5M177.5 70.1L177.3 69.5M178.1 69.8L176.9 67M178.7 69.6L177.3 66.2M179.3 69.4L177.8 65.6M179.9 69.1L176.5 60.7M180.4 68.9L179.5 66.4M181 68.7L180.3 66.6M181.6 68.5L180.6 65.5M182.2 68.2L181.2 65.2M184 67.7L183.9 67.2M184.6 67.5L183.3 63.2M185.2 67.3L183.8 62.4M185.8 67.1L184.5 62.5M187 66.8L186.3 64.1M187.6 66.6L186.9 63.5M188.2 66.5L187.3 62.4M188.8 66.3L187.3 59.6M189.5 66.2L189.2 65M190.1 66.1L189.4 62.9M190.7 66L190.2 63.7M191.3 65.8L190.6 62.1M191.9 65.7L190.1 55.5M192.5 65.6L192.2 63.3M193.2 65.5L192.6 61.9M193.8 65.4L193.3 61.7" stroke="#4fb0e7" stroke-width="0.8" fill="none"/>
<path d="M230.6 63.8L232.4 59.9M237.6 67.6L239.9 63.8M237.1 69.9L240.5 64.2M245.2 72.6L247.8 69.2M251.3 81.1L256 76.7M251.8 82.5L257 77.8M251.2 86.5L258.9 80.1M257.3 90.3L263.4 86.1M260 89.3L263.9 86.7M267.3 101.9L270.9 100.6M270.3 115.5L274.8 114.8M269.2 119.1L275.3 118.4M269.7 125.9L275.8 125.8M269 133.3L275.4 134M266 136.3L275 137.6M265.1 141.7L273.8 143.8M268.2 145.3L273.1 146.6M265.4 148.7L271.7 150.9M264.8 155L269.3 157.1M261.7 156.6L268 159.7M258 157.6L266.6 162.4M259.2 161.9L264.8 165.4M248.1 171.7L254.7 178.2M240.6 180.8L244.7 186.7M231.7 190.1L233.2 193.3M220.9 195L221.6 197.5M210.2 195.2L210.7 199.6M206.1 196L206.3 199.9M203.3 193.6L203.3 200M178.9 191.4L177.4 195.5M169.6 190.1L168.7 191.7M167.4 189.5L166.8 190.6M165.2 181.1L161.1 187.1M158.9 177.2L154.7 182.1M152 178.4L151.4 179.1M148 173.2L146.8 174.2M144.9 170.1L144 170.7M148.5 163.2L141.9 167.7M144.1 157.6L137.8 160.9M138.2 146L132.5 147.7M132.2 131L129.5 131.1M130.5 127.4L129.4 127.4M136 126L129.4 126M139.2 121.6L129.6 120.8M136.7 109.8L131.7 108.5M135.2 105.2L132.9 104.4M147.9 91.2L141.3 86.9M148.2 84L145 81.6M150.2 79.3L148.4 77.6M150.5 78.5L148.9 77.1M165.5 73.2L160.9 66.6M171.3 70.9L166.9 62.9M173.4 66.2L170.8 60.9M174.8 65.4L172.3 60.1M183.5 66.1L180.6 57M189.9 58.5L189.3 54.8" stroke="#4fb0e7" stroke-width="0.8" stroke-dasharray=".6 1.6 .5 2.3 .6 3.4 .5 4.1" fill="none"/>
<path d="M210.8 56.1L211 54.1M212.1 57.3L212.5 54.3M217.9 60.4L219 55.5M234.7 61.9L235 61.2M232.9 67.1L235.7 61.5M232.1 70.1L236.4 61.9M236 66.3L237.9 62.7M235.8 69.3L239.2 63.4M244.4 76.8L249.6 70.6M248 80.7L253.9 74.6M252.3 81.1L256.5 77.3M257.7 86.5L261.7 83.6M256.3 88.3L262.1 84.2M259.6 90.3L264.3 87.3M257.6 96.1L266.5 91.2M262.7 94.1L266.9 91.8M261.7 95.4L267.2 92.5M260.3 96.9L267.6 93.1M266.4 97L268.9 95.8M264.4 98.7L269.2 96.5M263.8 102.6L270.7 99.9M268 102.4L271.2 101.2M267.9 106.9L272.6 105.5M267.4 109.9L273.4 108.3M268.2 114.5L274.5 113.3M264.3 117.2L274.9 115.5M266.1 117.5L275 116.2M268.8 121.9L275.6 121.4M267.4 124.6L275.8 124.3M268.8 127.3L275.8 127.3M269.5 128.6L275.8 128.8M265.2 140.4L274.1 142.3M260.8 159.9L266.2 163M255.3 163.4L262.8 168.5M254 167.2L260.1 172.1M257.4 171.7L259.2 173.2M250.7 172.3L255.8 177.1M240.5 181.9L244.1 187.1M232.4 185.4L235.8 192M233.2 188.5L235.2 192.4M231.4 187.9L233.8 193M227 190.9L228.6 195.2M222.2 191.7L223.7 196.9M199.2 193.9L198.9 199.9M197.9 192.2L197.4 199.8M195.1 193.4L194.4 199.5M192.8 191L191.5 199.2M185.7 190.3L183.8 197.5M181.3 188.8L178.8 196M172.3 189L170.6 192.6M165.1 182.5L161.7 187.5M157.5 171L150.3 178M147.8 170.6L145.4 172.5M146 166.6L142.7 168.9M147.9 162.9L141.5 167.1M145.4 159.1L138.9 162.8M142.4 160.1L138.5 162.2M142.8 156.7L137.1 159.6M142.1 151.9L135 154.8M135.8 146L132.3 147M136.4 141.5L131.2 142.7M136.2 116.6L130.2 115.7M133.4 115.5L130.4 115M137.5 110.7L131.5 109.2M135.4 103L133.6 102.3M147.9 96.5L138.6 91.3M142.2 88.3L140.9 87.5M150.1 81.1L147.4 78.7M154.1 75.3L152.4 73.5M173.1 67.2L170.2 61.2M180.2 62.4L178.5 57.7M182.6 67.4L179.2 57.4M186.9 61L185.6 55.6M189.1 64.3L187.1 55.3" stroke="#4fb0e7" stroke-width="0.8" stroke-dasharray=".5 2.1 .7 1.7 .5 3.8 .6 2.9" fill="none"/>
<path d="M206.9 60.5L207.3 53.8M213.9 59.4L214.7 54.6M216.3 61.4L217.6 55.1M218.5 60.9L219.8 55.6M227.6 61.9L228.9 58.5M233.1 63.5L234.4 60.9M239.1 71.7L243 65.8M245.8 74.1L249 70.2M245.3 76.8L250.1 71.1M249.9 79.7L254.5 75.1M252.4 78.2L255 75.7M254.3 85.7L259.9 81.2M260.9 90.4L264.7 88M261.2 92.6L265.8 89.9M261.6 97.7L268.3 94.4M265.1 100.6L270.1 98.5M265.7 109L273 106.9M267.6 109.1L273.2 107.6M266.3 118.8L275.2 117.7M265.6 125.3L275.8 125.1M265.4 126.6L275.8 126.6M275 131L275.7 131M266 131.1L275.6 131.8M269.2 132L275.6 132.5M269.9 139.3L274.6 140.1M266.1 146.1L272.6 148M265.4 146.5L272.4 148.8M262.6 149.8L271 153M257.7 167.5L261.5 170.3M248.3 173.7L253.7 179.2M248.9 176.3L252.6 180.3M244.5 178.2L248.8 183.6M241 180.3L245.3 186.3M238 183L241.6 188.7M237.6 183.6L241 189.1M236.9 186.5L239.1 190.3M234.7 186.8L237.1 191.3M233.1 185.3L236.5 191.7M225.3 188.3L227.9 195.5M222.3 187.7L225.1 196.4M212.1 189L213.6 199.2M212.1 193.6L212.9 199.3M211.5 194.6L212.1 199.4M210.5 191.7L211.4 199.5M197.3 191.9L196.7 199.8M191.7 189.3L190 198.9M186.2 190.8L184.5 197.7M183.9 194.1L183 197.3M174.4 189.5L172.6 193.6M155.9 176.4L152.4 180.1M154.9 169L147.8 175.3M146.5 169.8L144.5 171.3M147.9 166.1L143.2 169.5M145.9 159.7L139.3 163.5M142.3 157.7L137.5 160.2M144.6 155.1L136.8 158.9M140.8 153.2L135.3 155.5M140 149.1L133.7 151.4M137.3 136.6L130.2 137.6M140.4 135.5L130.1 136.9M135.6 131.5L129.6 131.9M136.3 129.4L129.5 129.7M135.6 118.6L129.9 117.9M135.7 114.5L130.6 113.5M135.7 104.6L133.1 103.7M137.5 99.9L134.9 98.9M151.1 84.6L146 80.4M151.3 78.3L149.4 76.5M155.4 79.7L150.8 75.1M156.1 78.4L151.9 74M158.8 76.4L154.6 71.5M164 69.8L161.5 66.2M176.7 68.1L173 59.8M177.7 65.6L175.1 59M186.2 63.8L184.2 55.9M192 58.1L191.5 54.5" stroke="#4fb0e7" stroke-width="0.8" stroke-dasharray=".7 1.3 .5 3.2 .5 2.4 .6 4.5" fill="none"/>
<path d="M203.5 62.5L203.5 61.6M204.2 60.9L204.2 60.3M206.7 63.1L206.8 61.8M207.5 61.7L207.5 60.7M208.1 62.2L208.2 60.9M208.9 60.9L209 59.5M211.6 60.7L211.7 59.9M214.5 63.6L214.6 63M222.1 60.7L222.4 59.6M222.2 65L222.6 63.8M227.3 68.2L227.7 67.2M228.5 68.5L229 67.6M229.8 67.4L230 66.8M232.7 67.4L233.1 66.6M235.6 71L236.2 70.1M235.5 72.4L236.2 71.3M237.1 72.3L237.4 71.9M242.6 78L242.9 77.6M243.4 78L243.7 77.6M247.1 77.8L248 76.8M246.9 78.9L247.3 78.5M250.3 76.4L251.1 75.5M254 89.2L254.9 88.5M254.2 89.9L255 89.3M256.2 90.9L256.7 90.6M256.7 91.4L257.3 91M258.4 96.5L259.5 95.8M259.7 98.7L260.8 98.1M261.9 98.3L262.5 98.1M261.1 100.1L262.4 99.6M260.8 103.1L261.8 102.7M262.2 104.6L263.3 104.2M263.3 105.6L263.8 105.4M263.4 108.3L264.6 107.9M271.9 110.2L273.1 109.9M266.1 114.9L267.3 114.7M265.7 121.5L267 121.4M265.9 129.8L266.7 129.8M266.5 130.5L267.6 130.5M265.1 136.2L266.5 136.4M264.9 138.3L265.9 138.5M264.1 141.5L265.3 141.7M265.1 143.7L266.3 144M262.8 145.7L263.5 146M262.2 150.3L263.4 150.8M261.1 150.5L261.9 150.9M261.2 152L262.5 152.5M260.1 155L261.2 155.6M258.6 155L259.8 155.6M257.2 157.8L258 158.3M262 164.5L262.5 164.8M253.3 167.6L253.9 168M249.2 170L249.7 170.5M246.5 171.9L247.2 172.6M245.6 172.7L246.2 173.4M243.6 174.4L244.2 175.1M242.9 176.3L243.8 177.4M242.2 177.5L242.8 178.3M240.2 177L240.5 177.4M234.8 184.1L235.2 184.8M232.9 183.4L233.4 184.3M231.1 184.2L231.7 185.3M229.1 184.5L229.4 185M224.6 186.5L225.1 187.8M219.9 188.8L220.2 189.6M220.4 193.1L220.5 193.6M216.3 190.5L216.5 191.6M215.4 189.4L215.6 190.5M211.5 189.9L211.7 191.2M211 191L211.2 191.9M210.4 190.8L210.4 191.5M205.8 189.9L205.8 190.5M188.3 187.8L188.1 188.8M183.4 188.8L183.1 189.5M179.7 187.4L179.5 187.9M178 186.2L177.8 186.8M174.4 187.8L174.1 188.5M174.4 184.7L174.1 185.4M172 185.3L171.6 186.1M170.7 182.4L170 183.5M169.3 182L168.7 183.1M165.2 183.6L164.8 184.2M165.2 178.8L164.8 179.5M164.3 177.9L163.7 178.6M163 177.5L162.3 178.3M161.1 175.6L160.3 176.6M161.1 174.6L160.4 175.5M159 173.1L158.2 174M155.6 171L154.7 171.8M153.4 168.6L152.5 169.3M151.2 166.1L150.8 166.5M149.3 166.8L148.4 167.4M150.7 162.6L149.8 163.2M147.1 156.7L146.2 157.2M146.8 156.2L145.6 156.8M142.3 155.5L141.4 155.9M144 153.2L142.9 153.7M143.9 151.9L142.9 152.3M143.2 151.4L142.2 151.9M143.1 150.1L142.1 150.5M142.9 149.5L141.8 149.9M143.2 148.7L142.3 149M142.1 148.4L141 148.8M140.3 142L139.7 142.2M138.5 141.8L137.7 142M140.8 140.6L139.7 140.8M140.5 139.3L139.2 139.6M137.3 138.6L136.1 138.8M136.7 138L136.1 138.1M136.7 135.3L135.8 135.4M138.6 131.3L137.6 131.3M137.5 130.7L136.1 130.8M137.1 127.4L136 127.4M138.7 125.4L137.6 125.4M133 123.9L132.3 123.9M139.5 119.1L138.3 119M137.2 118.2L135.9 118M136.8 117.4L136.2 117.3M139.6 117.2L138.8 117M140.3 110L139.5 109.8M139.4 105.1L138.5 104.8M142.1 105.4L141 105M136.6 101.9L135.5 101.5M140.4 102.6L139.8 102.4M141.7 98.7L140.7 98.3M144.1 99.1L143.5 98.8M141.2 97L140.1 96.5M150.3 91.2L149.3 90.5M150.4 90.5L149.7 90.1M151.2 84.7L150.5 84.1M149.1 82L148.4 81.5M157 81.2L156.4 80.7M158.1 81.4L157.3 80.7M161.9 78L161.4 77.4M161.2 75L160.8 74.5M165.9 76.1L165.5 75.5M166.4 72.3L165.7 71.2M185.5 66L185.2 64.9M187.2 64.7L186.8 63.5M187.6 63.8L187.4 62.8M187.8 61.9L187.7 61.2M189.5 63.1L189.3 62.2M192.4 64.4L192.1 63.2" stroke="#fff" stroke-width="0.8" fill="none" opacity=".85"/>
<path d="M203 78.6L203.1 66.4L203.5 66.4L203.4 78.6ZM225.7 84.5L231.5 73.8L231.9 74L226 84.6ZM250.2 119.3L262.3 117.4L262.4 118L250.3 119.8ZM250.3 133.9L262.3 135.7L262.3 136.2L250.2 134.3ZM246.5 146.6L257.6 151.7L257.3 152.4L246.2 147.3ZM196.2 174.6L194.5 186.7L193.9 186.6L195.7 174.5ZM185.9 172L181.6 183.4L181.1 183.3L185.5 171.9ZM154.7 121.2L142.6 119.8L142.7 119.3L154.8 120.8Z" fill="#b9a6f8" stroke="#b9a6f8" stroke-width=".15"/>
<path d="M203.4 78.6L203.5 66.4L206.5 66.5L205.7 78.7ZM206 74.6L206.2 70.6L207.5 70.7L207.2 74.7ZM219.5 77.3L220.8 73.5L223.9 74.7L222.4 78.4ZM223 83.1L228.1 72.1L229.8 72.9L224.3 83.7ZM228.4 86.1L235 75.8L237.4 77.4L230.4 87.4ZM234.3 90.5L242.3 81.3L243.3 82.2L235.1 91.2ZM237.5 93.6L246.3 85.1L247.9 86.8L238.7 94.9ZM241.2 97.9L244.4 95.5L245.4 96.7L242 99.1ZM242.9 100.4L253.2 93.8L254.7 96.3L244.2 102.4ZM244.6 103.1L255.2 97.1L255.8 98.3L245.1 104.1ZM258.1 112.3L261 111.5L261.3 112.4L258.3 113.2ZM249.5 115.8L261.4 113L261.6 113.7L249.7 116.4ZM256.3 118.9L262.4 118L262.5 119.3L256.5 120.1ZM250.8 128.8L262.9 129.3L262.7 132.9L250.6 131.7ZM249 139.8L260.7 143.1L260.4 144.5L248.7 140.9ZM247.4 144.5L258.8 148.9L257.6 151.7L246.5 146.6ZM244.9 149.9L255.6 155.7L255.2 156.5L244.5 150.5ZM244.5 150.5L255.2 156.5L254.9 157L244.4 150.9ZM229.7 166.7L236.5 176.8L234.6 178L228.1 167.7ZM222.6 170.7L227.6 181.8L225.3 182.8L220.8 171.5ZM221.6 179.8L223 183.7L220.2 184.6L219 180.7ZM199.7 179L199.5 183L197.8 182.9L198.1 178.9ZM191.2 182L190.3 185.9L187.5 185.3L188.5 181.3ZM189.3 173.1L185.9 184.9L184.2 184.3L187.9 172.7ZM183.7 171.2L179 182.4L176.9 181.4L182.1 170.4ZM175.5 166.7L168.7 176.8L167.2 175.7L174.3 165.9ZM170.7 163L168 166L167.6 165.7L170.4 162.6ZM169.7 162.1L161.4 171L158.9 168.5L167.7 160.1ZM159.5 148.3L154 151L153.6 150.2L159.1 147.6ZM151.4 129.4L148.4 129.5L148.3 127.9L151.4 127.9ZM154.4 125.6L151.4 125.5L151.4 124L154.5 124.2ZM145.3 125.4L142.2 125.3L142.3 123.5L145.3 123.7ZM146.7 119.8L142.7 119.3L143.2 115.8L147.2 116.5ZM155.9 114.8L144.1 111.8L144.7 109.7L156.4 113.1ZM157.6 109.6L153.8 108.2L154.3 106.7L158.1 108.3ZM161.7 101.2L151.4 94.7L153 92.3L163 99.3ZM159.4 93.9L157 92L158 90.7L160.4 92.6ZM176.4 86.3L173.1 81.2L173.6 80.9L176.9 86ZM178.4 85.1L172.2 74.6L173 74.1L179 84.8ZM180.8 74.9L179.2 71.1L180.1 70.8L181.6 74.5ZM188.8 80.6L185.3 68.9L187.6 68.3L190.6 80.1Z" fill="#5440ee" stroke="#5440ee" stroke-width=".15"/>
<path d="M205.7 78.7L206 74.6L207.2 74.7L206.8 78.8ZM209.6 79.1L211.4 67L212.8 67.3L210.7 79.3ZM218.2 81.2L219.5 77.3L222.4 78.4L220.8 82.2ZM227.4 82L228.9 79.3L231.7 80.9L230.1 83.5ZM235.9 83.9L237.7 81.5L238.8 82.3L236.8 84.7ZM239.6 87.1L241.7 84.8L242.9 86L240.8 88.2ZM241.7 84.8L243.8 82.6L245.1 83.9L242.9 86ZM247.7 100.4L251.2 98.3L251.6 99.1L248.1 101.1ZM245.4 104.6L256.2 99L256.7 99.9L245.7 105.3ZM250.4 120.9L262.5 119.3L262.9 122.9L250.7 123.7ZM250.8 126.1L263 125.9L263 128.2L250.8 127.9ZM256 136.4L259 137L258.8 138.2L255.8 137.6ZM252.1 139.9L255.1 140.7L254.9 141.5L251.9 140.7ZM255.1 140.7L258 141.5L257.8 142.3L254.9 141.5ZM258 141.5L261 142.2L260.7 143.1L257.8 142.3ZM246.2 147.3L249.9 149L249.4 150L245.8 148.2ZM243.6 152.2L254 158.6L253.2 159.7L243 153.1ZM242.7 158.7L245.1 160.6L243.4 162.7L241.1 160.7ZM238.8 158.6L247.9 166.7L245.5 169.3L236.8 160.7ZM236 161.5L238.2 163.7L236.3 165.4L234.3 163.1ZM238.2 163.7L240.3 165.9L238.3 167.7L236.3 165.4ZM187.9 172.7L184.2 184.3L182 183.6L186.2 172.1ZM184 175.7L182.6 179.5L180.6 178.6L182.2 174.9ZM182.6 179.5L181.1 183.3L179 182.4L180.6 178.6ZM167.7 160.1L164.8 162.9L162.7 160.5L165.8 157.9ZM161 151.2L150.5 157.3L149.8 156.2L160.5 150.2ZM160.5 150.2L149.8 156.2L149 154.6L159.8 149ZM154 151L148.5 153.7L148.1 152.9L153.6 150.2ZM156.3 140.4L144.6 143.8L144.3 142.5L156 139.3ZM146.4 138.4L143.4 139L143 136.7L146 136.2ZM145.3 129.7L142.3 129.8L142.2 128L145.3 128ZM154.4 127.8L142.2 128L142.2 125.7L154.4 125.9ZM150.7 120.3L146.7 119.8L147.2 116.5L151.2 117.3ZM150 106.7L146.2 105.3L146.8 103.6L150.6 105.2ZM153.3 97.5L150.7 95.9L151.4 94.7L154 96.4ZM166.8 94.5L162.2 90.5L163.1 89.6L167.5 93.7ZM168.3 92.9L159.6 84.3L160.9 83.1L169.3 91.9ZM169.6 91.7L165.4 87.2L167 85.8L171 90.4ZM175.5 86.9L172.1 81.9L173.1 81.2L176.4 86.3ZM172.1 81.9L168.7 76.8L169.8 76.1L173.1 81.2ZM184.6 82.1L182.3 76.4L183.5 76L185.6 81.7Z" fill="#4630ea" stroke="#4630ea" stroke-width=".15"/>
<path d="M206.2 70.6L206.5 66.5L207.9 66.6L207.5 70.7ZM211.1 79.4L213.3 67.4L213.7 67.4L211.5 79.4ZM228.9 79.3L230.4 76.6L233.3 78.4L231.7 80.9ZM230.4 76.6L231.9 74L235 75.8L233.3 78.4ZM244.4 95.5L247.7 93L248.7 94.4L245.4 96.7ZM244.2 102.4L247.7 100.4L248.1 101.1L244.6 103.1ZM249.2 114.6L252.2 113.8L252.4 114.6L249.4 115.3ZM252.2 113.8L255.1 113.1L255.3 113.9L252.4 114.6ZM256.8 123.3L262.9 122.9L263 125.2L256.9 125.4ZM258.4 134.3L262.5 134.8L262.3 135.7L258.3 135.1ZM249.9 149L253.6 150.7L253.1 151.9L249.4 150ZM234.3 163.1L236.3 165.4L235.9 165.8L233.9 163.5ZM219.6 171.9L220.7 174.8L219.9 175L218.9 172.2ZM216.8 182.4L217.5 185.3L215.8 185.7L215.1 182.8ZM213.8 176.8L214.5 179.8L212.4 180.2L211.9 177.2ZM210.3 183.6L210.7 186.7L208.9 186.9L208.6 183.8ZM195.2 174.4L193.4 186.5L192.9 186.4L194.8 174.4ZM194.8 174.4L192.9 186.4L192.3 186.3L194.4 174.3ZM186.2 172.1L182 183.6L181.6 183.4L185.9 172ZM161.8 165.7L158.9 168.5L156.5 165.8L159.6 163.2ZM152.4 137.1L149.4 137.8L149 135.7L152 135.2ZM149.4 137.8L146.4 138.4L146 136.2L149 135.7ZM151.4 125.5L148.3 125.5L148.4 123.8L151.4 124ZM154.6 122.3L150.6 122L150.6 121.6L154.6 122ZM146.5 121.6L142.5 121.2L142.5 120.8L146.5 121.2ZM155.8 115.2L144 112.2L144.1 111.8L155.9 114.8ZM153.8 108.2L150 106.7L150.6 105.2L154.3 106.7ZM161.2 102.2L158.6 100.6L159.2 99.6L161.7 101.2ZM155.9 99L153.3 97.5L154 96.4L156.6 98ZM169.6 87.6L167.6 85.3L168.9 84.2L170.8 86.6ZM167.6 85.3L165.6 82.9L167 81.8L168.9 84.2ZM183.9 82.4L182.3 78.6L183.1 78.3L184.6 82.1ZM182.3 78.6L180.8 74.9L181.6 74.5L183.1 78.3Z" fill="#8a78f4" stroke="#8a78f4" stroke-width=".15"/>
<path d="M206.8 78.8L207.9 66.6L211.4 67L209.6 79.1ZM212 79.5L213.1 73.5L215.2 74L213.8 79.9ZM217.4 80.9L221.2 69.3L222.1 69.6L218.2 81.2ZM226 84.6L227.4 82L230.1 83.5L228.4 86.1ZM237.7 81.5L239.6 79.1L240.7 79.9L238.8 82.3ZM236.5 92.5L245.1 83.9L246.3 85.1L237.5 93.6ZM242.5 99.8L252.6 93L253.2 93.8L242.9 100.4ZM251.2 98.3L254.7 96.3L255.2 97.1L251.6 99.1ZM245.7 105.3L256.7 99.9L257.7 102L246.5 107ZM252.9 106.4L258.6 104.1L259.6 106.9L253.9 108.9ZM250.7 123.7L256.8 123.3L256.9 125.4L250.8 125.5ZM250 135.3L253 135.9L252.8 137L249.8 136.4ZM243 153.1L253.2 159.7L251.9 161.7L242 154.6ZM240.3 156.8L242.7 158.7L241.1 160.7L238.8 158.6ZM247.4 162.5L249.8 164.4L247.9 166.7L245.6 164.7ZM236.8 160.7L245.5 169.3L244.5 170.3L236 161.5ZM238.3 167.7L240.3 170L239.8 170.4L237.8 168.1ZM231.4 165.5L233.8 168.7L232.5 169.6L230.2 166.3ZM228.1 167.7L234.6 178L233 179L226.9 168.4ZM226.3 168.8L232.3 179.4L231.1 180.1L225.3 169.3ZM221.7 177.6L222.8 180.5L222 180.8L220.9 177.9ZM222.8 180.5L223.9 183.3L223 183.7L222 180.8ZM215.6 173.2L217.2 179.1L216 179.4L214.5 173.5ZM211.3 174.2L213.5 186.2L211.2 186.6L209.5 174.5ZM192.8 174L192 178L189.5 177.4L190.5 173.5ZM192 178L191.2 182L188.5 181.3L189.5 177.4ZM180.1 169.4L174.4 180.2L171.9 178.8L178.1 168.3ZM177.7 168.1L171.4 178.5L170.6 178L177.1 167.7ZM174.3 165.9L167.2 175.7L165.8 174.7L173.2 165ZM168 166L165.4 169.1L164.9 168.7L167.6 165.7ZM165.8 157.9L156.5 165.8L154.2 163L164 155.7ZM157.3 156.7L152.2 160.1L151.7 159.3L156.8 156ZM159.1 147.6L153.6 150.2L152.8 148.3L158.4 145.9ZM158.1 145.3L146.8 150L146.3 148.7L157.7 144.3ZM157.7 144.3L146.3 148.7L146 147.8L157.4 143.6ZM155.4 136.5L152.4 137.1L152 135.2L155.1 134.7ZM154.9 134L142.9 135.8L142.6 134L154.7 132.5ZM154.5 129.2L151.4 129.4L151.4 127.9L154.4 127.8ZM154.5 124.2L142.3 123.5L142.5 121.2L154.6 122.3ZM163 99.3L153 92.3L153.9 91L163.8 98.3ZM157 92L154.6 90.2L155.7 88.8L158 90.7ZM165.1 96.5L155.7 88.8L156.8 87.4L166.1 95.4ZM171 90.4L163 81.2L163.7 80.6L171.5 89.9ZM165.6 82.9L163.7 80.6L165.2 79.4L167 81.8ZM179 84.8L173 74.1L175.7 72.7L181.1 83.7ZM190.6 80.1L187.6 68.3L188.5 68.1L191.3 79.9Z" fill="#3a22e6" stroke="#3a22e6" stroke-width=".15"/>
<path d="M210.7 79.3L212.8 67.3L213.3 67.4L211.1 79.4ZM230.4 87.4L237.4 77.4L237.7 77.7L230.6 87.6ZM231.8 88.5L239.2 78.7L239.6 79.1L232.1 88.7ZM250.8 128.3L263 128.7L262.9 129.3L250.8 128.8ZM242 154.6L251.9 161.7L251.6 162.1L241.7 155ZM220 171.8L224.4 183.1L223.9 183.3L219.6 171.9ZM209.5 174.5L211.2 186.6L210.7 186.7L209.1 174.6ZM178.1 168.3L171.9 178.8L171.4 178.5L177.7 168.1ZM158.4 145.9L147.2 150.8L146.8 150L158.1 145.3ZM154.4 125.9L142.2 125.7L142.2 125.3L154.4 125.6ZM167.5 93.7L158.6 85.4L158.9 85.1L167.7 93.5ZM169.3 91.9L160.9 83.1L161.2 82.8L169.6 91.7Z" fill="#a893f6" stroke="#a893f6" stroke-width=".15"/>
<path d="M211.5 79.4L213.7 67.4L214.3 67.6L212 79.5ZM213.8 79.9L216.6 68L216.9 68.1L214 80ZM234 90.3L242 81L242.3 81.3L234.3 90.5ZM240.6 97.1L250.2 89.6L250.7 90.3L241 97.6ZM249.4 115.3L261.3 112.4L261.4 113L249.5 115.8ZM200.3 174.9L199.8 187.1L199.2 187.1L199.9 174.9Z" fill="#dccdf9" stroke="#dccdf9" stroke-width=".15"/>
<path d="M213.1 73.5L214.3 67.6L216.6 68L215.2 74ZM216.1 80.5L219.5 68.8L221.2 69.3L217.4 80.9ZM220.8 73.5L222.1 69.6L225.4 70.9L223.9 74.7ZM232.1 88.7L234 86.3L234.9 87L233 89.4ZM238.7 94.9L247.9 86.8L250.2 89.6L240.6 97.1ZM246.5 107L257.7 102L258.6 104.1L247.3 108.7ZM247.3 108.7L252.9 106.4L253.9 108.9L248.1 110.9ZM248.6 112.3L254.4 110.5L255.1 113.1L249.2 114.6ZM250.3 119.8L256.3 118.9L256.5 120.1L250.4 120.9ZM254.4 133.7L258.4 134.3L258.3 135.1L254.3 134.5ZM250.2 134.3L256.2 135.2L256.2 135.5L250.2 134.5ZM253 135.9L256 136.4L255.8 137.6L252.8 137ZM241.7 155L251.6 162.1L249.8 164.4L240.3 156.8ZM240.3 170L242.3 172.3L241.8 172.8L239.8 170.4ZM233.2 164L241 173.4L238.7 175.3L231.4 165.5ZM226.7 177.7L228.5 181.4L227.6 181.8L225.9 178.1ZM218.9 172.2L220.2 176L217.8 176.8L216.6 172.9ZM220.2 176L221.6 179.8L219 180.7L217.8 176.8ZM214.5 173.5L215.3 176.5L213.8 176.8L213.1 173.8ZM216 179.4L216.8 182.4L215.1 182.8L214.5 179.8ZM213.1 173.8L213.8 176.8L211.9 177.2L211.3 174.2ZM215.1 182.8L215.8 185.7L213.5 186.2L213 183.2ZM209.9 180.6L210.3 183.6L208.6 183.8L208.3 180.8ZM207.7 174.7L208.3 180.8L207.6 180.9L207.1 174.8ZM208.3 180.8L208.9 186.9L208.2 186.9L207.6 180.9ZM199.9 174.9L199.7 179L198.1 178.9L198.5 174.8ZM185.5 171.9L184 175.7L182.2 174.9L183.7 171.2ZM182.1 170.4L176.9 181.4L175.9 181L181.3 170ZM177.1 167.7L170.6 178L168.7 176.8L175.5 166.7ZM164.8 162.9L161.8 165.7L159.6 163.2L162.7 160.5ZM164 155.7L154.2 163L152.2 160.1L162.4 153.3ZM162.4 153.3L157.3 156.7L156.8 156L162 152.7ZM159.8 149L149 154.6L148.5 153.7L159.5 148.3ZM149 135.7L143 136.7L142.9 135.8L148.9 134.9ZM148.4 129.5L145.3 129.7L145.3 128L148.3 127.9ZM148.3 125.5L145.3 125.4L145.3 123.7L148.4 123.8ZM155.4 117L143.5 114.5L144 112.2L155.8 115.2ZM158.1 108.3L146.8 103.6L147.5 102L158.7 107ZM159.1 106L156.4 104.7L156.8 103.9L159.5 105.3ZM159.9 104.5L149.1 98.9L150.5 96.3L161 102.4ZM158.6 100.6L155.9 99L156.6 98L159.2 99.6ZM161.8 95.7L159.4 93.9L160.4 92.6L162.8 94.5ZM171.5 89.9L169.6 87.6L170.8 86.6L172.7 89ZM180.4 77.2L179.2 74.5L180.4 73.9L181.6 76.7ZM179.2 74.5L177.9 71.7L179.2 71.1L180.4 73.9ZM186.1 81.5L181.9 70L185.3 68.9L188.8 80.6ZM195.6 79.1L193.8 67L194.5 66.9L196.1 79Z" fill="#6653f0" stroke="#6653f0" stroke-width=".15"/>
<path d="M220.8 82.2L225.4 70.9L228.1 72.1L223 83.1ZM234 86.3L235.9 83.9L236.8 84.7L234.9 87ZM248.2 111.3L259.8 107.4L260.2 108.7L248.6 112.3ZM255.1 113.1L258.1 112.3L258.3 113.2L255.3 113.9ZM250.6 131.7L262.7 132.9L262.5 134.3L250.4 132.8ZM250.4 133.2L254.4 133.7L254.3 134.5L250.3 133.9ZM249.8 136.4L261.8 138.8L261.1 141.7L249.3 138.7ZM254.5 142.7L260.4 144.5L259.8 146.2L254 144.2ZM248.3 142.3L254 144.2L253.1 146.7L247.4 144.5ZM254 144.2L259.8 146.2L258.8 148.9L253.1 146.7ZM253.6 150.7L257.3 152.4L256.7 153.7L253.1 151.9ZM245.8 148.2L256.7 153.7L255.6 155.7L244.9 149.9ZM240.3 165.9L242.4 168.1L240.3 170L238.3 167.7ZM242.4 168.1L244.5 170.3L242.3 172.3L240.3 170ZM233.8 168.7L236.2 172L234.9 173L232.5 169.6ZM216.6 172.9L220.2 184.6L218.9 185L215.6 173.2ZM214.5 179.8L215.1 182.8L213 183.2L212.4 180.2ZM209.5 177.6L209.9 180.6L208.3 180.8L208 177.8ZM199.5 183L199.2 187.1L197.5 187L197.8 182.9ZM198.5 174.8L197.5 187L194.5 186.7L196.2 174.6ZM194.4 174.3L192.3 186.3L191.4 186.1L193.6 174.2ZM147.8 139.8L143.8 140.7L143.4 139L147.4 138.2ZM154.8 120.8L150.7 120.3L151.2 117.3L155.2 118ZM166.1 95.4L156.8 87.4L157.7 86.4L166.8 94.5ZM162.2 90.5L157.7 86.4L158.6 85.4L163.1 89.6ZM165.4 87.2L161.2 82.8L163 81.2L167 85.8ZM194.1 79.3L192 67.3L193.8 67L195.6 79.1Z" fill="#3018e2" stroke="#3018e2" stroke-width=".15"/>
<path d="M224.3 83.7L229.8 72.9L230.3 73.1L224.7 84ZM224.7 84L230.3 73.1L230.6 73.3L224.9 84.1ZM235.1 91.2L243.3 82.2L243.8 82.6L235.5 91.5ZM241 97.6L250.7 90.3L251 90.6L241.2 97.9ZM248.1 110.9L259.6 106.9L259.8 107.4L248.2 111.3ZM250.8 125.5L263 125.2L263 125.9L250.8 126.1ZM250.8 127.9L263 128.2L263 128.7L250.8 128.3ZM250.4 132.8L262.5 134.3L262.5 134.8L250.4 133.2ZM249.3 138.7L261.1 141.7L261 142.2L249.2 139.1ZM243.9 151.6L254.4 157.9L254 158.6L243.6 152.2ZM230.2 166.3L237.2 176.3L236.5 176.8L229.7 166.7ZM189.8 173.3L186.5 185L185.9 184.9L189.3 173.1ZM180.5 169.6L174.9 180.5L174.4 180.2L180.1 169.4ZM171 163.2L163 172.4L162.7 172.1L170.7 163ZM156.5 140.8L144.8 144.4L144.6 143.8L156.3 140.4ZM182.5 83L177.4 71.9L177.9 71.7L182.9 82.8Z" fill="#f1e2f8" stroke="#f1e2f8" stroke-width=".15"/>
<path d="M230.6 87.6L237.7 77.7L239.2 78.7L231.8 88.5ZM235.5 91.5L237.5 89.3L238.6 90.4L236.5 92.5ZM237.5 89.3L239.6 87.1L240.8 88.2L238.6 90.4ZM247.7 93L251 90.6L252 92.1L248.7 94.4ZM254.4 110.5L260.2 108.7L261 111.5L255.1 113.1ZM250 117.9L262 115.6L262.3 117.4L250.2 119.3ZM256.2 135.2L262.3 136.2L262.2 136.5L256.2 135.5ZM259 137L262 137.5L261.8 138.8L258.8 138.2ZM249.2 139.1L252.1 139.9L251.9 140.7L249 139.8ZM248.7 140.9L254.5 142.7L254 144.2L248.3 142.3ZM245.1 160.6L247.4 162.5L245.6 164.7L243.4 162.7ZM236.3 165.4L238.3 167.7L237.8 168.1L235.9 165.8ZM236.2 172L238.7 175.3L237.2 176.3L234.9 173ZM225.3 169.3L231.1 180.1L228.5 181.4L223.2 170.4ZM223.2 170.4L225 174L224.2 174.4L222.6 170.7ZM225 174L226.7 177.7L225.9 178.1L224.2 174.4ZM220.7 174.8L221.7 177.6L220.9 177.9L219.9 175ZM217.2 179.1L218.9 185L217.5 185.3L216 179.4ZM215.3 176.5L216 179.4L214.5 179.8L213.8 176.8ZM209.1 174.6L209.5 177.6L208 177.8L207.7 174.7ZM206.2 174.9L207.2 187L203.6 187.2L203.4 175ZM203.4 175L203.6 187.2L202.3 187.2L202.4 175ZM190.5 173.5L187.5 185.3L186.5 185L189.8 173.3ZM173.2 165L165.8 174.7L163 172.4L171 163.2ZM165.4 169.1L162.7 172.1L162.2 171.7L164.9 168.7ZM153.6 150.2L148.1 152.9L147.2 150.8L152.8 148.3ZM157.4 143.6L146 147.8L145.5 146.5L157 142.6ZM156 139.3L144.3 142.5L143.8 140.7L155.7 137.9ZM155.7 137.9L151.7 138.9L151.4 137.3L155.4 136.5ZM151.7 138.9L147.8 139.8L147.4 138.2L151.4 137.3ZM155.1 134.7L149 135.7L148.9 134.9L154.9 134ZM154.7 132.5L142.6 134L142.6 133.6L154.7 132.2ZM154.5 130.3L142.4 131.2L142.3 129.8L154.5 129.2ZM150.6 122L146.5 121.6L146.5 121.2L150.6 121.6ZM156.6 112.3L145 108.6L146.2 105.3L157.6 109.6ZM158.7 107L147.5 102L148.1 100.7L159.1 106ZM156.4 104.7L153.6 103.3L154 102.5L156.8 103.9ZM153.6 103.3L150.9 102L151.3 101.2L154 102.5ZM150.9 102L148.1 100.7L148.6 99.8L151.3 101.2ZM164.3 97.6L161.8 95.7L162.8 94.5L165.1 96.5ZM174 88L166.8 78.2L168.7 76.8L175.5 86.9ZM173.1 81.2L169.8 76.1L170.4 75.7L173.6 80.9ZM181.1 83.7L175.7 72.7L176.4 72.4L181.7 83.4ZM182.9 82.8L181.7 80L182.7 79.6L183.9 82.4ZM181.7 80L180.4 77.2L181.6 76.7L182.7 79.6ZM182.3 76.4L180.1 70.8L181.3 70.3L183.5 76ZM191.8 79.8L189.1 67.9L192 67.3L194.1 79.3Z" fill="#2a12e0" stroke="#2a12e0" stroke-width=".15"/>
<path d="M233 89.4L240.7 79.9L241.3 80.5L233.5 89.8ZM233.5 89.8L241.3 80.5L242 81L234 90.3ZM245.1 104.1L255.8 98.3L256.2 99L245.4 104.6ZM249.8 117.2L261.8 114.8L262 115.6L250 117.9ZM226.9 168.4L233 179L232.3 179.4L226.3 168.8ZM195.7 174.5L193.9 186.6L193.4 186.5L195.2 174.4ZM161 102.4L150.5 96.3L150.7 95.9L161.2 102.2ZM185.6 81.7L181.3 70.3L181.9 70L186.1 81.5ZM191.3 79.9L188.5 68.1L189.1 67.9L191.8 79.8Z" fill="#c3b0f8" stroke="#c3b0f8" stroke-width=".15"/>
<path d="M202.9 92.4L203 80.2L203.5 80.2L203.3 92.4ZM210.3 93.3L211 90.3L211.4 90.4L210.7 93.4ZM213.3 89.9L214.5 86L217.5 87L216.1 90.8ZM222 93.6L224 90L226.7 91.7L224.4 95.1ZM222.4 98.7L229.5 88.7L229.8 89L222.7 98.9ZM227.6 98.9L229.6 96.6L230.2 97.2L228.1 99.4ZM228.6 99.8L230.7 97.6L232.8 99.8L230.5 101.8ZM233.2 103.5L236.4 101L237.4 102.3L234 104.6ZM233.6 105.8L236.2 104.1L236.6 104.8L234 106.4ZM236.2 104.1L238.7 102.4L239.1 103.1L236.6 104.8ZM231.7 108.5L234.3 106.9L235.7 109.3L233 110.7ZM234 112.7L245.1 107.7L245.4 108.3L234.2 113.1ZM236.8 123.2L248.9 121.9L249 122.5L236.9 123.7ZM236.2 143.3L238.9 144.7L237.7 147L235 145.5ZM241.7 146L244.4 147.4L243 150.1L240.3 148.5ZM224 153.7L225.9 156.1L225.1 156.8L223.2 154.3ZM225.9 156.1L227.8 158.5L226.9 159.2L225.1 156.8ZM216.2 158.4L218.6 164L217.9 164.3L215.6 158.7ZM212.2 166.1L213.7 172.1L210.9 172.7L209.8 166.7ZM201 161.2L200.7 167.3L197.7 167L198.4 160.9ZM200.7 167.3L200.4 173.3L197 173.1L197.7 167ZM196.2 166.8L195.3 172.8L194.4 172.7L195.4 166.7ZM194 168.4L193.1 172.4L191 171.9L192 168ZM194 160.1L191 171.9L190.4 171.8L193.6 160ZM193.6 160L192.8 162.9L191.7 162.6L192.6 159.7ZM178.9 151.7L170.5 160.5L170.1 160.2L178.6 151.4ZM175.1 147.5L165.4 154.9L165.1 154.4L174.9 147.2ZM169.1 149.6L166.6 151.3L166.1 150.6L168.7 148.9ZM172.9 144.2L162.4 150.4L162.1 149.8L172.7 143.8ZM168.8 133.4L164.8 134.2L164.4 131.4L168.4 130.9ZM164.9 112L159.2 109.7L160.6 106.6L166.1 109.2ZM181.2 90L179.2 86.5L181.7 85.2L183.5 88.8ZM193.4 93.7L190.1 81.9L190.7 81.8L193.8 93.5ZM194.1 93.5L192.6 87.6L193.3 87.4L194.7 93.3ZM192.6 87.6L191.1 81.6L192 81.4L193.3 87.4Z" fill="#8a78f4" stroke="#8a78f4" stroke-width=".15"/>
<path d="M203.3 92.4L203.4 86.3L206.4 86.5L205.8 92.6ZM206.3 92.6L207.6 80.5L208.5 80.6L206.9 92.7ZM206.9 92.7L207.7 86.6L210.2 87L209 93ZM207.7 86.6L208.5 80.6L211.3 81L210.2 87ZM212.4 84.4L213.1 81.4L213.6 81.5L212.9 84.5ZM216.6 95.4L221.5 84.2L223.6 85.2L218.1 96.1ZM222.2 87.9L223.6 85.2L224.2 85.5L222.8 88.2ZM219.9 97.1L222 93.6L224.4 95.1L222.1 98.4ZM224 90L226 86.5L229 88.4L226.7 91.7ZM228 91.4L229.8 89L231.6 90.3L229.7 92.7ZM236.9 105.2L239.5 103.6L241.1 106.4L238.4 107.8ZM234.8 114.6L240.5 112.5L240.8 113.2L235 115.3ZM236.6 121.6L248.7 119.7L248.9 121.9L236.8 123.2ZM234 140.8L239.6 143.3L239.1 144.4L233.6 141.7ZM239.6 143.3L245.1 145.8L244.6 147L239.1 144.4ZM217.3 157.9L219.1 161.6L217.8 162.2L216.2 158.4ZM219.1 161.6L220.8 165.2L219.4 165.9L217.8 162.2ZM213.2 162.7L214.1 165.6L213 165.9L212.2 163ZM210.8 160.2L212.2 166.1L209.8 166.7L208.7 160.7ZM195.1 168.7L194.4 172.7L193.9 172.6L194.7 168.6ZM191.3 159.3L187.3 170.8L184 169.5L188.9 158.4ZM176.4 149L174 151L172.9 149.6L175.3 147.8ZM171.7 153L169.4 155L168.1 153.3L170.5 151.5ZM174.2 146.2L171.7 147.9L171.2 147.3L173.8 145.6ZM167.4 146.8L164.7 148.3L163.3 145.5L166 144.2ZM171.2 140.9L160.1 145.9L159.6 144.7L170.8 140ZM170.6 139.3L164.9 141.6L164.3 140L170.1 138ZM168.4 130.9L164.4 131.4L164.4 131.1L168.4 130.7ZM164.9 118.9L161 118.1L161.4 116.1L165.4 117.2ZM169.3 118.2L157.5 115.1L157.9 113.6L169.6 117ZM187.1 96.1L181.7 85.2L182.4 84.8L187.7 95.8Z" fill="#7462f2" stroke="#7462f2" stroke-width=".15"/>
<path d="M203.4 86.3L203.5 80.2L207 80.4L206.4 86.5ZM211.7 87.3L212.4 84.4L212.9 84.5L212.2 87.4ZM212.2 93.8L213.3 89.9L216.1 90.8L214.6 94.6ZM230 106L233.2 103.5L234 104.6L230.7 107ZM231.1 107.5L233.6 105.8L234 106.4L231.5 108.1ZM238.7 102.4L241.2 100.7L241.7 101.5L239.1 103.1ZM233 110.7L243.8 105L244.4 106.1L233.4 111.6ZM235 115.3L246.5 111.2L247.5 114.5L235.8 117.7ZM237 125.6L249.2 125.2L249.2 128.6L237 128.2ZM236.9 129.1L249.1 129.9L249 130.8L236.9 129.7ZM235.3 137.5L241.1 139.4L240.8 140.1L235.1 138.1ZM238.9 144.7L241.7 146L240.3 148.5L237.7 147ZM215.5 167.3L216.7 171.2L215.8 171.5L214.7 167.6ZM215 168.6L215.8 171.5L214.6 171.8L213.8 168.9ZM208.4 160.7L209.5 166.7L208.3 166.9L207.5 160.9ZM209.5 166.7L210.5 172.7L209.2 172.9L208.3 166.9ZM197.9 160.9L196.2 173L195.3 172.8L197.2 160.8ZM192.2 159.6L188.5 171.2L187.3 170.8L191.3 159.3ZM188.1 158L182.9 169L182.1 168.6L187.5 157.7ZM186.8 157.4L181.2 168.2L178.8 166.8L185 156.4ZM182.5 154.8L175.4 164.7L173.6 163.3L181.2 153.8ZM181.2 153.8L173.6 163.3L172.3 162.2L180.2 152.9ZM179.7 152.5L175.6 157L175.5 156.9L179.6 152.4ZM164.9 141.6L159.2 143.8L158.6 142L164.3 140ZM169 134.4L163.1 135.7L162.9 134.6L168.8 133.4ZM164.4 131.4L160.4 131.8L160.3 131.6L164.4 131.1ZM162.4 122.1L156.3 121.4L156.8 118.3L162.8 119.4ZM170.6 114.2L164.9 112L166.1 109.2L171.6 111.9ZM175.2 106L172 103.5L172.9 102.4L176 105ZM179.4 101.4L175.3 96.9L176.1 96.2L180.1 100.8Z" fill="#4630ea" stroke="#4630ea" stroke-width=".15"/>
<path d="M205.8 92.6L207 80.4L207.6 80.5L206.3 92.6ZM222.1 98.4L229 88.4L229.5 88.7L222.4 98.7ZM224.8 100.5L232.6 91.1L233.1 91.5L225.1 100.8ZM237 128.2L249.2 128.6L249.1 129L237 128.5ZM235.4 137.1L247.1 140.8L246.9 141.3L235.3 137.5ZM219.7 156.6L225.8 167.2L225.1 167.6L219.2 156.9ZM217.7 157.7L223.1 168.7L222.5 168.9L217.3 157.9ZM187.5 157.7L182.1 168.6L182 168.6L187.4 157.6ZM180.2 152.9L172.3 162.2L171.9 161.8L179.9 152.7ZM176.6 149.4L167.4 157.4L167 156.9L176.4 149ZM197.2 92.8L195.3 80.8L195.9 80.7L197.6 92.8Z" fill="#d2c2f9" stroke="#d2c2f9" stroke-width=".15"/>
<path d="M209 93L211.3 81L212.6 81.3L210 93.2ZM219.4 93.3L220.8 90.6L221.4 90.9L219.9 93.6ZM220.8 90.6L222.2 87.9L222.8 88.2L221.4 90.9ZM224 99.9L231.6 90.3L232.6 91.1L224.8 100.5ZM230.7 97.6L232.8 95.5L235.1 97.8L232.8 99.8ZM232.8 95.5L234.9 93.3L237.3 95.7L235.1 97.8ZM236.4 101L239.7 98.6L240.7 100L237.4 102.3ZM234.2 113.1L239.8 110.7L240.5 112.5L234.8 114.6ZM236.4 120.3L248.4 118L248.7 119.7L236.6 121.6ZM236.5 132.9L248.5 135.1L248.1 136.8L236.2 134.1ZM242 136.1L247.9 137.5L247.2 140.3L241.4 138.5ZM229.7 160.9L231.6 163.3L230.5 164.1L228.7 161.7ZM221.1 155.8L227.7 166.1L226.6 166.8L220.3 156.3ZM204.5 161.1L205.2 173.3L202.4 173.4L202.4 161.2ZM197.2 160.8L196.2 166.8L195.4 166.7L196.5 160.7ZM192.8 162.9L192 165.9L190.9 165.6L191.7 162.6ZM181.5 161.4L178.3 166.6L175.4 164.7L179 159.7ZM171.4 157.2L169.2 159.3L168.6 158.7L170.8 156.6ZM174.9 147.2L165.1 154.4L164.1 153L174.2 146.2ZM173.8 145.6L163.6 152.3L163.3 151.9L173.6 145.3ZM172.7 143.8L170 145.3L168.8 142.8L171.5 141.5ZM164.7 148.3L162.1 149.8L160.5 146.8L163.3 145.5ZM164.8 134.2L160.9 135L160.4 131.8L164.4 131.4ZM160.4 131.8L156.3 132.3L156.3 132L160.3 131.6ZM168.2 128.6L156.1 129.3L156 127L168.2 127ZM168.4 122.8L162.4 122.1L162.8 119.4L168.8 120.5ZM180.1 100.8L172.1 91.5L173.7 90.2L181.3 99.8ZM183.3 93.6L181.2 90L183.5 88.8L185.3 92.4ZM190.9 94.4L186.8 83L190.1 81.9L193.4 93.7ZM193.9 84.1L193.2 81.1L194.9 80.8L195.4 83.8Z" fill="#6653f0" stroke="#6653f0" stroke-width=".15"/>
<path d="M210 93.2L212.6 81.3L213.1 81.4L210.3 93.3ZM225.1 100.8L233.1 91.5L233.7 92.1L225.5 101.2ZM226 101.6L234.4 92.7L234.7 93L226.3 101.8ZM226.3 101.8L234.7 93L234.9 93.3L226.5 102ZM235.8 117.7L247.5 114.5L247.8 115.3L235.9 118.3ZM236.3 119.9L248.3 117.5L248.4 118L236.4 120.3ZM236.9 129.7L249 130.8L249 131.6L236.8 130.3ZM236.8 130.3L249 131.6L248.9 132L236.8 130.6ZM236.2 134.1L248.1 136.8L247.9 137.5L236.1 134.7ZM211.4 160L214.6 171.8L214.1 172L211.1 160.1ZM192.6 159.7L189.1 171.4L188.5 171.2L192.2 159.6ZM179.9 152.7L171.9 161.8L171.6 161.5L179.7 152.5ZM178.4 151.2L169.8 159.9L169.2 159.3L178 150.8ZM168.2 126L156 125.7L156 125.3L168.2 125.7ZM178.1 102.6L169.5 94L169.7 93.7L178.3 102.4ZM188.2 95.5L183.1 84.5L183.6 84.3L188.6 95.4Z" fill="#9886f5" stroke="#9886f5" stroke-width=".15"/>
<path d="M211 90.3L211.7 87.3L212.2 87.4L211.4 90.4ZM214.5 86L215.6 82.1L218.9 83.1L217.5 87ZM218.1 96.1L219.4 93.3L219.9 93.6L218.5 96.3ZM222.7 98.9L224.5 96.4L225.9 97.5L224 99.9ZM228.2 103.9L237.3 95.7L238.2 96.7L228.9 104.6ZM239.5 103.6L242 102L243.8 105L241.1 106.4ZM240.5 112.5L246.2 110.3L246.5 111.2L240.8 113.2ZM236.9 123.7L249 122.5L249.2 124.8L237 125.3ZM241.1 139.4L246.9 141.3L246.6 142.1L240.8 140.1ZM234.3 140.2L245.5 145L245.1 145.8L234 140.8ZM227 151.1L235.6 159.7L234.7 160.6L226.3 151.7ZM226.3 151.7L234.7 160.6L232.8 162.3L224.9 153ZM219.2 156.9L225.1 167.6L223.1 168.7L217.7 157.7ZM214.2 163.5L215.5 167.3L214.7 167.6L213.5 163.7ZM196.5 160.7L195.8 164.7L195.4 164.6L196.2 160.6ZM195.8 164.7L195.1 168.7L194.7 168.6L195.4 164.6ZM194.8 164.5L194 168.4L192 168L193 164ZM191.2 168.8L190.4 171.8L189.1 171.4L190 168.5ZM175.8 152.9L173.6 155.1L173.1 154.5L175.3 152.4ZM173.6 155.1L171.4 157.2L170.8 156.6L173.1 154.5ZM177.1 149.9L168 158.1L167.4 157.4L176.6 149.4ZM170 145.3L167.4 146.8L166 144.2L168.8 142.8ZM171.5 141.5L160.5 146.8L160.1 145.9L171.2 140.9ZM168.2 127L156 127L156 125.7L168.2 126ZM168.8 101L165.5 98.6L166.6 97.2L169.7 99.8ZM176 105L166.6 97.2L167.2 96.5L176.5 104.4ZM177.3 103.5L168.3 95.2L168.9 94.6L177.7 103ZM178.7 102.1L170.2 93.3L171.1 92.4L179.4 101.4ZM175.3 96.9L171.1 92.4L172.1 91.5L176.1 96.2ZM194.7 93.3L192 81.4L193.2 81.1L195.7 93.1Z" fill="#5440ee" stroke="#5440ee" stroke-width=".15"/>
<path d="M214.6 94.6L218.9 83.1L221.5 84.2L216.6 95.4ZM224.5 96.4L226.2 93.9L227.8 95.1L225.9 97.5ZM226.2 93.9L228 91.4L229.7 92.7L227.8 95.1ZM225.5 101.2L227.6 98.9L228.1 99.4L226 101.6ZM226.5 102L228.6 99.8L230.5 101.8L228.2 103.9ZM228.9 104.6L238.2 96.7L239.3 98.1L229.7 105.6ZM234.3 106.9L236.9 105.2L238.4 107.8L235.7 109.3ZM239.8 110.7L245.4 108.3L246.2 110.3L240.5 112.5ZM235.9 118.3L247.8 115.3L248.1 116.7L236.2 119.4ZM236.8 130.9L248.9 132.4L248.6 134.3L236.6 132.3ZM233.5 142L236.2 143.3L235 145.5L232.4 144ZM227.7 150.4L236.6 158.7L235.6 159.7L227 151.1ZM227.8 158.5L229.7 160.9L228.7 161.7L226.9 159.2ZM223.2 154.3L230.5 164.1L227.7 166.1L221.1 155.8ZM218.6 164L221 169.6L220.1 170L217.9 164.3ZM212.4 159.8L213.2 162.7L212.2 163L211.4 160ZM207.5 160.9L209.2 172.9L207 173.2L205.8 161ZM195.6 160.5L194.8 164.5L193 164L194 160.1ZM184.7 156.2L181.5 161.4L179 159.7L182.5 154.8ZM174 151L171.7 153L170.5 151.5L172.9 149.6ZM166.6 151.3L164.1 153L163.6 152.3L166.1 150.6ZM161 118.1L157 117.3L157.5 115.1L161.4 116.1ZM169.9 116.2L158.3 112.4L159.2 109.7L170.6 114.2ZM182.2 99.1L175 89.3L177.7 87.4L184.3 97.7ZM185.3 97.1L183.3 93.6L185.3 92.4L187.1 96.1Z" fill="#3420e4" stroke="#3420e4" stroke-width=".15"/>
<path d="M219.1 96.6L224.9 85.9L225.3 86.1L219.4 96.8ZM235.5 136.8L247.2 140.3L247.1 140.8L235.4 137.1ZM235.1 138.1L246.6 142.1L246.3 142.9L234.9 138.7ZM220 156.5L226.1 167L225.8 167.2L219.7 156.6ZM211.1 160.1L214.1 172L213.7 172.1L210.8 160.2ZM188.3 158.1L183.3 169.2L182.9 169L188.1 158ZM179.1 152L170.8 160.9L170.5 160.5L178.9 151.7ZM175.3 147.8L165.6 155.2L165.4 154.9L175.1 147.5ZM170.8 140L159.6 144.7L159.4 144.2L170.7 139.6ZM176.7 104.2L167.5 96.2L168 95.6L177.1 103.8ZM193.8 93.5L190.7 81.8L191.1 81.6L194.1 93.5Z" fill="#a893f6" stroke="#a893f6" stroke-width=".15"/>
<path d="M219.4 96.8L225.3 86.1L226 86.5L219.9 97.1ZM234.4 139.8L245.7 144.4L245.5 145L234.3 140.2ZM224.5 153.4L232.2 162.8L231.6 163.3L224 153.7ZM198.4 160.9L197 173.1L196.2 173L197.9 160.9ZM188.9 158.4L184 169.5L183.3 169.2L188.3 158.1ZM178.6 151.4L170.1 160.2L169.8 159.9L178.4 151.2ZM177.5 150.3L168.6 158.7L168 158.1L177.1 149.9ZM170.7 139.6L159.4 144.2L159.2 143.8L170.6 139.3ZM169.1 134.8L157.3 137.6L157.1 137L169 134.4ZM168.3 129.3L156.1 130.2L156.1 129.7L168.3 128.9ZM168.3 123.6L156.2 122.5L156.2 122.2L168.4 123.4ZM169.8 116.5L158.2 112.8L158.3 112.4L169.9 116.2ZM176.5 104.4L167.2 96.5L167.5 96.2L176.7 104.2ZM178.3 102.4L169.7 93.7L170.2 93.3L178.7 102.1ZM196.9 92.9L194.9 80.8L195.3 80.8L197.2 92.8Z" fill="#e6d6f9" stroke="#e6d6f9" stroke-width=".15"/>
<path d="M229.6 96.6L231.6 94.4L232.3 94.9L230.2 97.2ZM231.6 94.4L233.7 92.1L234.4 92.7L232.3 94.9ZM233.4 111.6L244.4 106.1L244.9 107.3L233.9 112.4ZM236.1 134.7L242 136.1L241.4 138.5L235.5 136.8ZM220.8 165.2L222.5 168.9L221 169.6L219.4 165.9ZM215 158.9L219.4 170.3L216.7 171.2L213 159.6ZM213 159.6L214.2 163.5L213.5 163.7L212.4 159.8ZM214.1 165.6L215 168.6L213.8 168.9L213 165.9ZM205.2 161.1L206.1 173.3L205.2 173.3L204.5 161.1ZM192 165.9L191.2 168.8L190 168.5L190.9 165.6ZM175.6 157L171.6 161.5L171.4 161.4L175.5 156.9ZM178 150.8L175.8 152.9L175.3 152.4L177.5 150.3ZM169.4 155L167 156.9L165.6 155.2L168.1 153.3ZM171.7 147.9L169.1 149.6L168.7 148.9L171.2 147.3ZM169.7 136.8L158 140.4L157.3 137.6L169.1 134.8ZM163.1 135.7L157.1 137L156.9 135.7L162.9 134.6ZM160.9 135L156.9 135.7L156.3 132.3L160.4 131.8ZM168.2 125.7L156 125.3L156.2 122.5L168.3 123.6ZM168.9 119.8L164.9 118.9L165.4 117.2L169.3 118.2ZM172 103.5L168.8 101L169.7 99.8L172.9 102.4ZM188.6 95.4L183.6 84.3L186.8 83L190.9 94.4ZM195.7 93.1L195.1 90.1L196.4 89.9L196.9 92.9ZM195.1 90.1L194.5 87.1L195.9 86.9L196.4 89.9ZM194.5 87.1L193.9 84.1L195.4 83.8L195.9 86.9Z" fill="#3a22e6" stroke="#3a22e6" stroke-width=".15"/>
<path d="M229.7 105.6L239.3 98.1L239.7 98.6L230 106ZM231.5 108.1L241.7 101.5L242 102L231.7 108.5ZM233.9 112.4L244.9 107.3L245.1 107.7L234 112.7ZM237 125.3L249.2 124.8L249.2 125.2L237 125.6ZM237 128.5L249.1 129L249.1 129.9L236.9 129.1ZM236.8 130.6L248.9 132L248.9 132.4L236.8 130.9ZM234.9 138.7L246.3 142.9L246 143.7L234.7 139.2ZM234.7 139.2L246 143.7L245.7 144.4L234.4 139.8ZM233.6 141.7L244.6 147L244.4 147.4L233.5 142ZM220.3 156.3L226.6 166.8L226.1 167L220 156.5ZM197.6 92.8L195.9 80.7L196.3 80.6L198 92.7Z" fill="#c3b0f8" stroke="#c3b0f8" stroke-width=".15"/>
<path d="M227.9 150.1L236.8 158.4L236.6 158.7L227.7 150.4ZM208.7 160.7L210.9 172.7L210.5 172.7L208.4 160.7ZM185 156.4L178.8 166.8L178.3 166.6L184.7 156.2ZM168.3 128.9L156.1 129.7L156.1 129.3L168.2 128.6ZM177.1 103.8L168 95.6L168.3 95.2L177.3 103.5Z" fill="#b9a6f8" stroke="#b9a6f8" stroke-width=".15"/>
<path d="M231.9 144.8L242.3 151.1L241.6 152.3L231.4 145.6Z" fill="#f3e6f7"/>
<path d="M231.1 146L241.2 152.9L240.5 153.9L230.6 146.8Z" fill="#f8dcd8"/>
<path d="M230.3 147.2L240.2 154.4L239.6 155.1L229.9 147.7Z" fill="#efe0f8"/>
<path d="M229.6 148.1L239.2 155.6L238.5 156.5L229.1 148.7Z" fill="#f6e3ea"/>
<path d="M228.8 149.1L238.1 157L237.2 158L228.2 149.8Z" fill="#ece0f9"/>
<path d="M236.9 131L248.9 132.5" stroke="#f2c4d4" stroke-width="0.7"/>
<path d="M236.8 131.8L248.7 133.5" stroke="#e22a1c" stroke-width="1.2"/>
<path d="M236.7 132.6L248.5 134.7" stroke="#f0c8dc" stroke-width="0.7"/>
<path d="M230.3 149L233.4 151.5" stroke="#f0a060" stroke-width="1.0"/>
<path d="M231.7 148.1L234.1 149.8" stroke="#f4bb80" stroke-width="0.8"/>
<path d="M235.4 149.6L237.9 151.3" stroke="#f3b090" stroke-width="0.7"/>
<path d="M205.1 162.7L205.6 169.2" stroke="#e8583a" stroke-width="0.8"/>
<path d="M217.6 172.9L219.6 179.1" stroke="#f08868" stroke-width="0.7"/>
<path d="M183.1 172.8L179.9 180.2" stroke="#f0a080" stroke-width="0.6"/>
<path d="M197.6 162.4L196.9 167.4" stroke="#f2b090" stroke-width="0.6"/>
</g>
<text x="232.6" y="6.9" font-size="3.6" fill="#484848" stroke="#484848" stroke-width=".08" text-anchor="middle" transform="rotate(14 232.6 6.9)" dy="1.2">chr1</text>
<text x="214.1" y="4.7" font-size="1.8" fill="#888" text-anchor="middle" transform="rotate(5.4 214.1 4.7)" dy=".6">50MB</text>
<text x="249.9" y="13.7" font-size="1.8" fill="#888" text-anchor="middle" transform="rotate(22.7 249.9 13.7)" dy=".6">200MB</text>
<text x="284.9" y="34.6" font-size="3.6" fill="#484848" stroke="#484848" stroke-width=".08" text-anchor="middle" transform="rotate(41.8 284.9 34.6)" dy="1.2">chr2</text>
<text x="270" y="24.4" font-size="1.8" fill="#888" text-anchor="middle" transform="rotate(33.3 270 24.4)" dy=".6">50MB</text>
<text x="296.8" y="48.3" font-size="1.8" fill="#888" text-anchor="middle" transform="rotate(50.2 296.8 48.3)" dy=".6">150MB</text>
<text x="316.1" y="78" font-size="3.6" fill="#484848" stroke="#484848" stroke-width=".08" text-anchor="middle" transform="rotate(66.7 316.1 78)" dy="1.2">chr3</text>
<text x="308.6" y="65.2" font-size="1.8" fill="#888" text-anchor="middle" transform="rotate(59.8 308.6 65.2)" dy=".6">50MB</text>
<text x="320.2" y="92.2" font-size="1.8" fill="#888" text-anchor="middle" transform="rotate(73.6 320.2 92.2)" dy=".6">150MB</text>
<text x="326.2" y="124.3" font-size="3.6" fill="#484848" stroke="#484848" stroke-width=".08" text-anchor="middle" transform="rotate(88.9 326.2 124.3)" dy="1.2">chr4</text>
<text x="324.1" y="110.2" font-size="1.8" fill="#888" text-anchor="middle" transform="rotate(82.2 324.1 110.2)" dy=".6">50MB</text>
<text x="324.6" y="138.5" font-size="1.8" fill="#888" text-anchor="middle" transform="rotate(275.5 324.6 138.5)" dy=".6">150MB</text>
<text x="318.7" y="169.2" font-size="3.6" fill="#484848" stroke="#484848" stroke-width=".08" text-anchor="middle" transform="rotate(290.1 318.7 169.2)" dy="1.2">chr5</text>
<text x="321.7" y="156" font-size="1.8" fill="#888" text-anchor="middle" transform="rotate(283.8 321.7 156)" dy=".6">50MB</text>
<text x="312.4" y="181.3" font-size="1.8" fill="#888" text-anchor="middle" transform="rotate(296.4 312.4 181.3)" dy=".6">100MB</text>
<text x="296.9" y="206.7" font-size="3.6" fill="#484848" stroke="#484848" stroke-width=".08" text-anchor="middle" transform="rotate(310.2 296.9 206.7)" dy="1.2">chr6</text>
<text x="303.9" y="195.9" font-size="1.8" fill="#888" text-anchor="middle" transform="rotate(304.3 303.9 195.9)" dy=".6">50MB</text>
<text x="287.5" y="215.3" font-size="1.8" fill="#888" text-anchor="middle" transform="rotate(316.2 287.5 215.3)" dy=".6">100MB</text>
<text x="265.9" y="233" font-size="3.6" fill="#484848" stroke="#484848" stroke-width=".08" text-anchor="middle" transform="rotate(329.2 265.9 233)" dy="1.2">chr7</text>
<text x="275.2" y="225.6" font-size="1.8" fill="#888" text-anchor="middle" transform="rotate(323.7 275.2 225.6)" dy=".6">50MB</text>
<text x="254.9" y="237.7" font-size="1.8" fill="#888" text-anchor="middle" transform="rotate(334.8 254.9 237.7)" dy=".6">100MB</text>
<text x="230.9" y="247.1" font-size="3.6" fill="#484848" stroke="#484848" stroke-width=".08" text-anchor="middle" transform="rotate(346.8 230.9 247.1)" dy="1.2">chr8</text>
<text x="241.1" y="243.2" font-size="1.8" fill="#888" text-anchor="middle" transform="rotate(341.7 241.1 243.2)" dy=".6">50MB</text>
<text x="220" y="248.2" font-size="1.8" fill="#888" text-anchor="middle" transform="rotate(351.8 220 248.2)" dy=".6">100MB</text>
<text x="195.7" y="250.2" font-size="3.6" fill="#484848" stroke="#484848" stroke-width=".08" text-anchor="middle" transform="rotate(363.2 195.7 250.2)" dy="1.2">chr9</text>
<text x="206.1" y="249.4" font-size="1.8" fill="#888" text-anchor="middle" transform="rotate(358.4 206.1 249.4)" dy=".6">50MB</text>
<text x="185.5" y="248.2" font-size="1.8" fill="#888" text-anchor="middle" transform="rotate(368 185.5 248.2)" dy=".6">100MB</text>
<text x="162.4" y="243.7" font-size="3.6" fill="#484848" stroke="#484848" stroke-width=".08" text-anchor="middle" transform="rotate(379 162.4 243.7)" dy="1.2">chr10</text>
<text x="172.2" y="245.6" font-size="1.8" fill="#888" text-anchor="middle" transform="rotate(374.3 172.2 245.6)" dy=".6">50MB</text>
<text x="153.4" y="239.1" font-size="1.8" fill="#888" text-anchor="middle" transform="rotate(383.7 153.4 239.1)" dy=".6">100MB</text>
<text x="132.4" y="228.5" font-size="3.6" fill="#484848" stroke="#484848" stroke-width=".08" text-anchor="middle" transform="rotate(394.6 132.4 228.5)" dy="1.2">chr11</text>
<text x="141.4" y="233.1" font-size="1.8" fill="#888" text-anchor="middle" transform="rotate(389.9 141.4 233.1)" dy=".6">50MB</text>
<text x="124.9" y="221.6" font-size="1.8" fill="#888" text-anchor="middle" transform="rotate(399.3 124.9 221.6)" dy=".6">100MB</text>
<text x="107.6" y="205.9" font-size="3.6" fill="#484848" stroke="#484848" stroke-width=".08" text-anchor="middle" transform="rotate(410.2 107.6 205.9)" dy="1.2">chr12</text>
<text x="115" y="212.6" font-size="1.8" fill="#888" text-anchor="middle" transform="rotate(405.6 115 212.6)" dy=".6">50MB</text>
<text x="102.3" y="197.3" font-size="1.8" fill="#888" text-anchor="middle" transform="rotate(414.9 102.3 197.3)" dy=".6">100MB</text>
<text x="90.9" y="179.6" font-size="3.6" fill="#484848" stroke="#484848" stroke-width=".08" text-anchor="middle" transform="rotate(424.7 90.9 179.6)" dy="1.2">chr13</text>
<text x="81.8" y="153" font-size="3.6" fill="#484848" stroke="#484848" stroke-width=".08" text-anchor="middle" transform="rotate(437.7 81.8 153)" dy="1.2">chr14</text>
<text x="79" y="126.5" font-size="3.6" fill="#484848" stroke="#484848" stroke-width=".08" text-anchor="middle" transform="rotate(270.1 79 126.5)" dy="1.2">chr15</text>
<text x="81.5" y="102" font-size="3.6" fill="#484848" stroke="#484848" stroke-width=".08" text-anchor="middle" transform="rotate(281.6 81.5 102)" dy="1.2">chr16</text>
<text x="88" y="80.5" font-size="3.6" fill="#484848" stroke="#484848" stroke-width=".08" text-anchor="middle" transform="rotate(292 88 80.5)" dy="1.2">chr17</text>
<text x="97.7" y="61.4" font-size="3.6" fill="#484848" stroke="#484848" stroke-width=".08" text-anchor="middle" transform="rotate(301.9 97.7 61.4)" dy="1.2">chr18</text>
<text x="108.6" y="46.6" font-size="3.6" fill="#484848" stroke="#484848" stroke-width=".08" text-anchor="middle" transform="rotate(310.5 108.6 46.6)" dy="1.2">chr19</text>
<text x="120.2" y="34.7" font-size="3.6" fill="#484848" stroke="#484848" stroke-width=".08" text-anchor="middle" transform="rotate(318.2 120.2 34.7)" dy="1.2">chr20</text>
<text x="132.1" y="25.3" font-size="3.6" fill="#484848" stroke="#484848" stroke-width=".08" text-anchor="middle" transform="rotate(325.2 132.1 25.3)" dy="1.2">chr21</text>
<text x="143.7" y="18.1" font-size="3.6" fill="#484848" stroke="#484848" stroke-width=".08" text-anchor="middle" transform="rotate(331.5 143.7 18.1)" dy="1.2">chr22</text>
<text x="168.1" y="8.1" font-size="3.6" fill="#484848" stroke="#484848" stroke-width=".08" text-anchor="middle" transform="rotate(343.8 168.1 8.1)" dy="1.2">chrX</text>
<text x="157.4" y="12.8" font-size="1.8" fill="#888" text-anchor="middle" transform="rotate(338.4 157.4 12.8)" dy=".6">50MB</text>
<text x="179.7" y="6.4" font-size="1.8" fill="#888" text-anchor="middle" transform="rotate(349.2 179.7 6.4)" dy=".6">100MB</text>
<text x="194.8" y="3.4" font-size="3.6" fill="#484848" stroke="#484848" stroke-width=".08" text-anchor="middle" transform="rotate(356.4 194.8 3.4)" dy="1.2">chrY</text>
<rect x="345.9" y="61.6" width="8.8" height="3.8" fill="#a45ae6" stroke="#5a2a90" stroke-width=".6"/>
<text x="361.3" y="65.6" font-size="6.2" font-weight="bold" stroke="#111" stroke-width=".26" fill="#111">PCOS_abd</text>
<rect x="345.9" y="73.3" width="8.8" height="3.8" fill="#2a74dc" stroke="#1a3f80" stroke-width=".6"/>
<text x="361.3" y="77.3" font-size="6.2" font-weight="bold" stroke="#111" stroke-width=".26" fill="#111">PCOS_sub</text>
<rect x="345.9" y="85" width="8.8" height="3.8" fill="#f03cb4" stroke="#8a2068" stroke-width=".6"/>
<text x="361.3" y="89" font-size="6.2" font-weight="bold" stroke="#111" stroke-width=".26" fill="#111">CTL_abd</text>
<rect x="345.9" y="96.7" width="8.8" height="3.8" fill="#78b6e4" stroke="#3a6a90" stroke-width=".6"/>
<text x="361.3" y="100.7" font-size="6.2" font-weight="bold" stroke="#111" stroke-width=".26" fill="#111">CTL_sub</text>
<text x="348.2" y="142.8" font-size="6.05" font-weight="bold" stroke="#111" stroke-width=".26" fill="#111">FPKM_log_scale</text>
<defs><linearGradient id="g" x1="0" y1="0" x2="0" y2="1"><stop offset="0" stop-color="#f00"/><stop offset=".1" stop-color="#f00"/><stop offset=".55" stop-color="#fff"/><stop offset=".95" stop-color="#00f"/><stop offset="1" stop-color="#00f"/></linearGradient></defs>
<rect x="348.2" y="152.1" width="7.9" height="50.4" fill="url(#g)"/>
<rect x="354.6" y="153.7" width="1.5" height=".5" fill="#fff"/>
<text x="359" y="155.4" font-size="4.5" fill="#222" stroke="#222" stroke-width=".2">8</text>
<rect x="354.6" y="163.1" width="1.5" height=".5" fill="#fff"/>
<text x="359" y="164.8" font-size="4.5" fill="#222" stroke="#222" stroke-width=".2">6</text>
<rect x="354.6" y="172.5" width="1.5" height=".5" fill="#fff"/>
<text x="359" y="174.2" font-size="4.5" fill="#222" stroke="#222" stroke-width=".2">4</text>
<rect x="354.6" y="181.9" width="1.5" height=".5" fill="#fff"/>
<text x="359" y="183.7" font-size="4.5" fill="#222" stroke="#222" stroke-width=".2">2</text>
<rect x="354.6" y="191.3" width="1.5" height=".5" fill="#fff"/>
<text x="359" y="193.1" font-size="4.5" fill="#222" stroke="#222" stroke-width=".2">0</text>
<rect x="354.6" y="200.8" width="1.5" height=".5" fill="#fff"/>
<text x="359" y="202.5" font-size="4.5" fill="#222" stroke="#222" stroke-width=".2">-2</text>
<text x="3" y="15.7" font-size="9" font-weight="bold" stroke="#111" stroke-width=".26" fill="#000">A</text>
<text x="3.2" y="217.6" font-size="9" font-weight="bold" stroke="#111" stroke-width=".26" fill="#000">B</text>
<path d="M46.4 243.3V362.4" stroke="#000" stroke-width="1.5" fill="none"/>
<path d="M45.7 361.7H340.4" stroke="#000" stroke-width="1.6" fill="none"/>
<path d="M41.2 361.7H46.4" stroke="#000" stroke-width="1.4"/>
<text x="40.2" y="364.7" font-size="6.1" font-weight="bold" stroke="#111" stroke-width=".26" text-anchor="end" fill="#111">0</text>
<path d="M41.2 332.3H46.4" stroke="#000" stroke-width="1.4"/>
<text x="38.4" y="335.3" font-size="6.1" font-weight="bold" stroke="#111" stroke-width=".26" text-anchor="end" fill="#111">1000</text>
<path d="M41.2 302.9H46.4" stroke="#000" stroke-width="1.4"/>
<text x="38.4" y="305.9" font-size="6.1" font-weight="bold" stroke="#111" stroke-width=".26" text-anchor="end" fill="#111">2000</text>
<path d="M41.2 273.4H46.4" stroke="#000" stroke-width="1.4"/>
<text x="38.4" y="276.4" font-size="6.1" font-weight="bold" stroke="#111" stroke-width=".26" text-anchor="end" fill="#111">3000</text>
<path d="M41.2 244H46.4" stroke="#000" stroke-width="1.4"/>
<text x="38.4" y="247" font-size="6.1" font-weight="bold" stroke="#111" stroke-width=".26" text-anchor="end" fill="#111">4000</text>
<path d="M57.9 361.7V366.6" stroke="#000" stroke-width="1.5"/>
<text x="57.9" y="374.6" font-size="5.8" font-weight="bold" stroke="#111" stroke-width=".26" text-anchor="middle" fill="#111">A&gt;G</text>
<rect x="48.2" y="304.62" width="3.2" height="56.48" fill="#2aa97b" stroke="#17694a" stroke-width=".6"/>
<rect x="53.6" y="254.30" width="3.2" height="106.80" fill="#f3a357" stroke="#99602a" stroke-width=".6"/>
<rect x="59" y="306.38" width="3.2" height="54.72" fill="#5b92dc" stroke="#2f558e" stroke-width=".6"/>
<rect x="64.4" y="254.30" width="3.2" height="106.80" fill="#ec858c" stroke="#944a50" stroke-width=".6"/>
<path d="M82.4 361.7V366.6" stroke="#000" stroke-width="1.5"/>
<text x="82.4" y="374.6" font-size="5.8" font-weight="bold" stroke="#111" stroke-width=".26" text-anchor="middle" fill="#111">T&gt;C</text>
<rect x="72.7" y="334.92" width="3.2" height="26.18" fill="#2aa97b" stroke="#17694a" stroke-width=".6"/>
<rect x="78.1" y="306.68" width="3.2" height="54.42" fill="#f3a357" stroke="#99602a" stroke-width=".6"/>
<rect x="83.5" y="325.80" width="3.2" height="35.30" fill="#5b92dc" stroke="#2f558e" stroke-width=".6"/>
<rect x="88.9" y="309.03" width="3.2" height="52.07" fill="#ec858c" stroke="#944a50" stroke-width=".6"/>
<path d="M106.9 361.7V366.6" stroke="#000" stroke-width="1.5"/>
<text x="106.9" y="374.6" font-size="5.8" font-weight="bold" stroke="#111" stroke-width=".26" text-anchor="middle" fill="#111">C&gt;T</text>
<rect x="97.2" y="348.75" width="3.2" height="12.35" fill="#2aa97b" stroke="#17694a" stroke-width=".6"/>
<rect x="102.6" y="338.16" width="3.2" height="22.94" fill="#f3a357" stroke="#99602a" stroke-width=".6"/>
<rect x="108" y="344.93" width="3.2" height="16.17" fill="#5b92dc" stroke="#2f558e" stroke-width=".6"/>
<rect x="113.4" y="340.07" width="3.2" height="21.03" fill="#ec858c" stroke="#944a50" stroke-width=".6"/>
<path d="M131.4 361.7V366.6" stroke="#000" stroke-width="1.5"/>
<text x="131.4" y="374.6" font-size="5.8" font-weight="bold" stroke="#111" stroke-width=".26" text-anchor="middle" fill="#111">G&gt;A</text>
<rect x="121.7" y="351.99" width="3.2" height="9.11" fill="#2aa97b" stroke="#17694a" stroke-width=".6"/>
<rect x="127.1" y="345.02" width="3.2" height="16.08" fill="#f3a357" stroke="#99602a" stroke-width=".6"/>
<rect x="132.5" y="348.75" width="3.2" height="12.35" fill="#5b92dc" stroke="#2f558e" stroke-width=".6"/>
<rect x="137.9" y="346.25" width="3.2" height="14.85" fill="#ec858c" stroke="#944a50" stroke-width=".6"/>
<path d="M155.9 361.7V366.6" stroke="#000" stroke-width="1.5"/>
<text x="155.9" y="374.6" font-size="5.8" font-weight="bold" stroke="#111" stroke-width=".26" text-anchor="middle" fill="#111">G&gt;T</text>
<rect x="146.2" y="353.76" width="3.2" height="7.34" fill="#2aa97b" stroke="#17694a" stroke-width=".6"/>
<rect x="151.6" y="352.96" width="3.2" height="8.14" fill="#f3a357" stroke="#99602a" stroke-width=".6"/>
<rect x="157" y="352.23" width="3.2" height="8.87" fill="#5b92dc" stroke="#2f558e" stroke-width=".6"/>
<rect x="162.4" y="354.23" width="3.2" height="6.87" fill="#ec858c" stroke="#944a50" stroke-width=".6"/>
<path d="M180.5 361.7V366.6" stroke="#000" stroke-width="1.5"/>
<text x="180.5" y="374.6" font-size="5.8" font-weight="bold" stroke="#111" stroke-width=".26" text-anchor="middle" fill="#111">C&gt;A</text>
<rect x="170.8" y="357.46" width="3.2" height="3.64" fill="#2aa97b" stroke="#17694a" stroke-width=".6"/>
<rect x="176.2" y="356.99" width="3.2" height="4.11" fill="#f3a357" stroke="#99602a" stroke-width=".6"/>
<rect x="181.6" y="356.99" width="3.2" height="4.11" fill="#5b92dc" stroke="#2f558e" stroke-width=".6"/>
<rect x="187" y="357.46" width="3.2" height="3.64" fill="#ec858c" stroke="#944a50" stroke-width=".6"/>
<path d="M205 361.7V366.6" stroke="#000" stroke-width="1.5"/>
<text x="205" y="374.6" font-size="5.8" font-weight="bold" stroke="#111" stroke-width=".26" text-anchor="middle" fill="#111">G&gt;C</text>
<rect x="195.3" y="359.05" width="3.2" height="2.05" fill="#2aa97b" stroke="#17694a" stroke-width=".6"/>
<rect x="200.7" y="356.11" width="3.2" height="4.99" fill="#f3a357" stroke="#99602a" stroke-width=".6"/>
<rect x="206.1" y="358.32" width="3.2" height="2.78" fill="#5b92dc" stroke="#2f558e" stroke-width=".6"/>
<rect x="211.5" y="356.52" width="3.2" height="4.58" fill="#ec858c" stroke="#944a50" stroke-width=".6"/>
<path d="M229.5 361.7V366.6" stroke="#000" stroke-width="1.5"/>
<text x="229.5" y="374.6" font-size="5.8" font-weight="bold" stroke="#111" stroke-width=".26" text-anchor="middle" fill="#111">A&gt;T</text>
<rect x="219.8" y="359.49" width="3.2" height="1.61" fill="#2aa97b" stroke="#17694a" stroke-width=".6"/>
<rect x="225.2" y="356.52" width="3.2" height="4.58" fill="#f3a357" stroke="#99602a" stroke-width=".6"/>
<rect x="230.6" y="358.32" width="3.2" height="2.78" fill="#5b92dc" stroke="#2f558e" stroke-width=".6"/>
<rect x="236" y="358.11" width="3.2" height="2.99" fill="#ec858c" stroke="#944a50" stroke-width=".6"/>
<path d="M254 361.7V366.6" stroke="#000" stroke-width="1.5"/>
<text x="254" y="374.6" font-size="5.8" font-weight="bold" stroke="#111" stroke-width=".26" text-anchor="middle" fill="#111">T&gt;A</text>
<rect x="244.3" y="360.23" width="3.2" height="0.87" fill="#2aa97b" stroke="#17694a" stroke-width=".6"/>
<rect x="249.7" y="358.11" width="3.2" height="2.99" fill="#f3a357" stroke="#99602a" stroke-width=".6"/>
<rect x="255.1" y="358.90" width="3.2" height="2.20" fill="#5b92dc" stroke="#2f558e" stroke-width=".6"/>
<rect x="260.5" y="358.52" width="3.2" height="2.58" fill="#ec858c" stroke="#944a50" stroke-width=".6"/>
<path d="M278.5 361.7V366.6" stroke="#000" stroke-width="1.5"/>
<text x="278.5" y="374.6" font-size="5.8" font-weight="bold" stroke="#111" stroke-width=".26" text-anchor="middle" fill="#111">C&gt;G</text>
<rect x="268.8" y="360.52" width="3.2" height="0.58" fill="#2aa97b" stroke="#17694a" stroke-width=".6"/>
<rect x="274.2" y="358.11" width="3.2" height="2.99" fill="#f3a357" stroke="#99602a" stroke-width=".6"/>
<rect x="279.6" y="359.11" width="3.2" height="1.99" fill="#5b92dc" stroke="#2f558e" stroke-width=".6"/>
<rect x="285" y="358.11" width="3.2" height="2.99" fill="#ec858c" stroke="#944a50" stroke-width=".6"/>
<path d="M303 361.7V366.6" stroke="#000" stroke-width="1.5"/>
<text x="303" y="374.6" font-size="5.8" font-weight="bold" stroke="#111" stroke-width=".26" text-anchor="middle" fill="#111">T&gt;G</text>
<rect x="293.3" y="360.82" width="3.2" height="0.28" fill="#2aa97b" stroke="#17694a" stroke-width=".6"/>
<rect x="298.7" y="359.11" width="3.2" height="1.99" fill="#f3a357" stroke="#99602a" stroke-width=".6"/>
<rect x="304.1" y="359.70" width="3.2" height="1.40" fill="#5b92dc" stroke="#2f558e" stroke-width=".6"/>
<rect x="309.5" y="359.11" width="3.2" height="1.99" fill="#ec858c" stroke="#944a50" stroke-width=".6"/>
<path d="M327.5 361.7V366.6" stroke="#000" stroke-width="1.5"/>
<text x="327.5" y="374.6" font-size="5.8" font-weight="bold" stroke="#111" stroke-width=".26" text-anchor="middle" fill="#111">A&gt;C</text>
<rect x="317.8" y="360.88" width="3.2" height="0.22" fill="#2aa97b" stroke="#17694a" stroke-width=".6"/>
<rect x="323.2" y="360.46" width="3.2" height="0.64" fill="#f3a357" stroke="#99602a" stroke-width=".6"/>
<rect x="328.6" y="360.64" width="3.2" height="0.46" fill="#5b92dc" stroke="#2f558e" stroke-width=".6"/>
<rect x="334" y="360.46" width="3.2" height="0.64" fill="#ec858c" stroke="#944a50" stroke-width=".6"/>
<text x="190.6" y="387" font-size="7.65" font-weight="bold" stroke="#111" stroke-width=".26" text-anchor="middle" fill="#111">Nucleotide Changes</text>
<text transform="translate(7.6 302.4) rotate(-90)" font-size="7.05" font-weight="bold" stroke="#111" stroke-width=".26" text-anchor="middle" fill="#111">Number of Editing Sties</text>
<rect x="346.9" y="281" width="10.6" height="4.3" fill="#2aa97b" stroke="#17694a" stroke-width=".6"/>
<text x="366.9" y="285.3" font-size="6.2" font-weight="bold" stroke="#111" stroke-width=".26" fill="#111">CTL_sub</text>
<rect x="346.9" y="294.5" width="10.6" height="4.3" fill="#f3a357" stroke="#99602a" stroke-width=".6"/>
<text x="366.9" y="298.8" font-size="6.2" font-weight="bold" stroke="#111" stroke-width=".26" fill="#111">PCOS_sub</text>
<rect x="346.9" y="308" width="10.6" height="4.3" fill="#5b92dc" stroke="#2f558e" stroke-width=".6"/>
<text x="366.9" y="312.3" font-size="6.2" font-weight="bold" stroke="#111" stroke-width=".26" fill="#111">CTL_abd</text>
<rect x="346.9" y="321.5" width="10.6" height="4.3" fill="#ec858c" stroke="#944a50" stroke-width=".6"/>
<text x="366.9" y="325.8" font-size="6.2" font-weight="bold" stroke="#111" stroke-width=".26" fill="#111">PCOS_abd</text>
</svg>
</body></html>
